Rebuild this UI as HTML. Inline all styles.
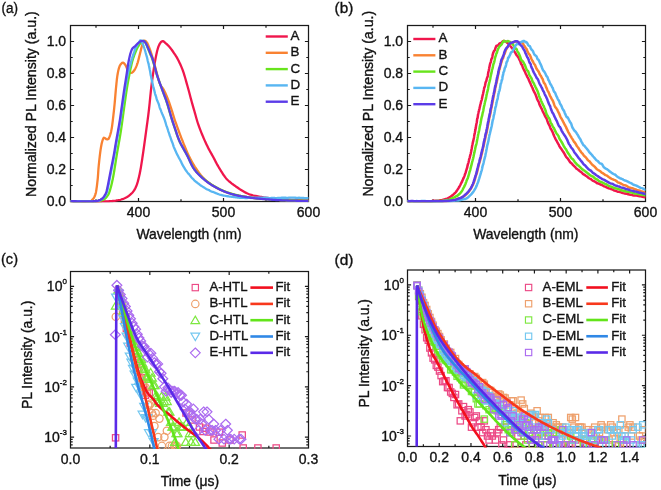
<!DOCTYPE html>
<html><head><meta charset="utf-8"><title>PL spectra and decays</title>
<style>html,body{margin:0;padding:0;background:#fff;overflow:hidden;width:661px;height:490px;}svg{display:block;}</style>
</head><body>
<svg width="661" height="490" viewBox="0 0 661 490" font-family='"Liberation Sans", Arial, Helvetica, sans-serif' fill="#111">
<style>text{stroke:#111;stroke-width:0.35px;paint-order:stroke;}</style>
<rect width="661" height="490" fill="#fff"/>
<defs><clipPath id="clipa"><rect x="70.5" y="25.5" width="238" height="176.9"/></clipPath><clipPath id="clipb"><rect x="407.5" y="25.5" width="238" height="176.9"/></clipPath><clipPath id="clipc"><rect x="70.5" y="271.5" width="238" height="177.4"/></clipPath><clipPath id="clipd"><rect x="407.5" y="270" width="238" height="177.4"/></clipPath></defs>
<rect x="70.5" y="25.5" width="238" height="176" fill="none" stroke="#1a1a1a" stroke-width="1.25"/>
<path d="M138.5 201.5v-3.6M138.5 25.5v3.6M223.5 201.5v-3.6M223.5 25.5v3.6M96 201.5v-2.2M96 25.5v2.2M181 201.5v-2.2M181 25.5v2.2M266 201.5v-2.2M266 25.5v2.2" stroke="#1a1a1a" stroke-width="1.2" fill="none"/>
<path d="M70.5 169.5h3.6M308.5 169.5h-3.6M70.5 137.5h3.6M308.5 137.5h-3.6M70.5 105.5h3.6M308.5 105.5h-3.6M70.5 73.5h3.6M308.5 73.5h-3.6M70.5 41.5h3.6M308.5 41.5h-3.6M70.5 185.5h2.2M308.5 185.5h-2.2M70.5 153.5h2.2M308.5 153.5h-2.2M70.5 121.5h2.2M308.5 121.5h-2.2M70.5 89.5h2.2M308.5 89.5h-2.2M70.5 57.5h2.2M308.5 57.5h-2.2" stroke="#1a1a1a" stroke-width="1.2" fill="none"/>
<text x="138.5" y="217.1" font-size="14.0" text-anchor="middle" >400</text>
<text x="223.5" y="217.1" font-size="14.0" text-anchor="middle" >500</text>
<text x="308.5" y="217.1" font-size="14.0" text-anchor="middle" >600</text>
<text x="66.1" y="206.4" font-size="14.0" text-anchor="end" >0.0</text>
<text x="66.1" y="174.4" font-size="14.0" text-anchor="end" >0.2</text>
<text x="66.1" y="142.4" font-size="14.0" text-anchor="end" >0.4</text>
<text x="66.1" y="110.4" font-size="14.0" text-anchor="end" >0.6</text>
<text x="66.1" y="78.4" font-size="14.0" text-anchor="end" >0.8</text>
<text x="66.1" y="46.4" font-size="14.0" text-anchor="end" >1.0</text>
<text x="136.4" y="238.6" font-size="13.9" text-anchor="start" >Wavelength (nm)</text>
<text transform="translate(35.6 196.9) rotate(-90)" font-size="14.15">Normalized PL Intensity (a.u.)</text>
<rect x="407.5" y="25.5" width="238" height="176" fill="none" stroke="#1a1a1a" stroke-width="1.25"/>
<path d="M475.5 201.5v-3.6M475.5 25.5v3.6M560.5 201.5v-3.6M560.5 25.5v3.6M433 201.5v-2.2M433 25.5v2.2M518 201.5v-2.2M518 25.5v2.2M603 201.5v-2.2M603 25.5v2.2" stroke="#1a1a1a" stroke-width="1.2" fill="none"/>
<path d="M407.5 169.5h3.6M645.5 169.5h-3.6M407.5 137.5h3.6M645.5 137.5h-3.6M407.5 105.5h3.6M645.5 105.5h-3.6M407.5 73.5h3.6M645.5 73.5h-3.6M407.5 41.5h3.6M645.5 41.5h-3.6M407.5 185.5h2.2M645.5 185.5h-2.2M407.5 153.5h2.2M645.5 153.5h-2.2M407.5 121.5h2.2M645.5 121.5h-2.2M407.5 89.5h2.2M645.5 89.5h-2.2M407.5 57.5h2.2M645.5 57.5h-2.2" stroke="#1a1a1a" stroke-width="1.2" fill="none"/>
<text x="475.5" y="217.1" font-size="14.0" text-anchor="middle" >400</text>
<text x="560.5" y="217.1" font-size="14.0" text-anchor="middle" >500</text>
<text x="645.5" y="217.1" font-size="14.0" text-anchor="middle" >600</text>
<text x="403.1" y="206.4" font-size="14.0" text-anchor="end" >0.0</text>
<text x="403.1" y="174.4" font-size="14.0" text-anchor="end" >0.2</text>
<text x="403.1" y="142.4" font-size="14.0" text-anchor="end" >0.4</text>
<text x="403.1" y="110.4" font-size="14.0" text-anchor="end" >0.6</text>
<text x="403.1" y="78.4" font-size="14.0" text-anchor="end" >0.8</text>
<text x="403.1" y="46.4" font-size="14.0" text-anchor="end" >1.0</text>
<text x="473.2" y="238.6" font-size="13.9" text-anchor="start" >Wavelength (nm)</text>
<text transform="translate(372.6 196.6) rotate(-90)" font-size="14.15">Normalized PL Intensity (a.u.)</text>
<rect x="70.5" y="271.5" width="238" height="176.5" fill="none" stroke="#1a1a1a" stroke-width="1.25"/>
<path d="M149.83 448v-3.6M149.83 271.5v3.6M229.17 448v-3.6M229.17 271.5v3.6M110.17 448v-2.2M110.17 271.5v2.2M189.5 448v-2.2M189.5 271.5v2.2M268.83 448v-2.2M268.83 271.5v2.2" stroke="#1a1a1a" stroke-width="1.2" fill="none"/>
<path d="M70.5 286.4h3.6M308.5 286.4h-3.6M70.5 336.63h3.6M308.5 336.63h-3.6M70.5 386.86h3.6M308.5 386.86h-3.6M70.5 437.09h3.6M308.5 437.09h-3.6M70.5 444.87h2.2M308.5 444.87h-2.2M70.5 441.96h2.2M308.5 441.96h-2.2M70.5 439.39h2.2M308.5 439.39h-2.2M70.5 421.97h2.2M308.5 421.97h-2.2M70.5 413.12h2.2M308.5 413.12h-2.2M70.5 406.85h2.2M308.5 406.85h-2.2M70.5 401.98h2.2M308.5 401.98h-2.2M70.5 398h2.2M308.5 398h-2.2M70.5 394.64h2.2M308.5 394.64h-2.2M70.5 391.73h2.2M308.5 391.73h-2.2M70.5 389.16h2.2M308.5 389.16h-2.2M70.5 371.74h2.2M308.5 371.74h-2.2M70.5 362.89h2.2M308.5 362.89h-2.2M70.5 356.62h2.2M308.5 356.62h-2.2M70.5 351.75h2.2M308.5 351.75h-2.2M70.5 347.77h2.2M308.5 347.77h-2.2M70.5 344.41h2.2M308.5 344.41h-2.2M70.5 341.5h2.2M308.5 341.5h-2.2M70.5 338.93h2.2M308.5 338.93h-2.2M70.5 321.51h2.2M308.5 321.51h-2.2M70.5 312.66h2.2M308.5 312.66h-2.2M70.5 306.39h2.2M308.5 306.39h-2.2M70.5 301.52h2.2M308.5 301.52h-2.2M70.5 297.54h2.2M308.5 297.54h-2.2M70.5 294.18h2.2M308.5 294.18h-2.2M70.5 291.27h2.2M308.5 291.27h-2.2M70.5 288.7h2.2M308.5 288.7h-2.2" stroke="#1a1a1a" stroke-width="1.2" fill="none"/>
<text x="70.5" y="463.9" font-size="14.0" text-anchor="middle" >0.0</text>
<text x="149.83" y="463.9" font-size="14.0" text-anchor="middle" >0.1</text>
<text x="229.17" y="463.9" font-size="14.0" text-anchor="middle" >0.2</text>
<text x="308.5" y="463.9" font-size="14.0" text-anchor="middle" >0.3</text>
<text x="66.9" y="291.3" font-size="14.0" text-anchor="end">10<tspan dy="-6.9" font-size="8">0</tspan></text>
<text x="66.9" y="341.53" font-size="14.0" text-anchor="end">10<tspan dy="-6.9" font-size="8">-1</tspan></text>
<text x="66.9" y="391.76" font-size="14.0" text-anchor="end">10<tspan dy="-6.9" font-size="8">-2</tspan></text>
<text x="66.9" y="441.99" font-size="14.0" text-anchor="end">10<tspan dy="-6.9" font-size="8">-3</tspan></text>
<text x="160.7" y="486.3" font-size="13.9" text-anchor="start" >Time (μs)</text>
<text transform="translate(31.8 409) rotate(-90)" font-size="13.9">PL Intensity (a.u.)</text>
<rect x="407.5" y="270" width="238" height="176.5" fill="none" stroke="#1a1a1a" stroke-width="1.25"/>
<path d="M439.23 446.5v-3.6M439.23 270v3.6M470.97 446.5v-3.6M470.97 270v3.6M502.7 446.5v-3.6M502.7 270v3.6M534.43 446.5v-3.6M534.43 270v3.6M566.17 446.5v-3.6M566.17 270v3.6M597.9 446.5v-3.6M597.9 270v3.6M629.63 446.5v-3.6M629.63 270v3.6M423.37 446.5v-2.2M423.37 270v2.2M455.1 446.5v-2.2M455.1 270v2.2M486.83 446.5v-2.2M486.83 270v2.2M518.57 446.5v-2.2M518.57 270v2.2M550.3 446.5v-2.2M550.3 270v2.2M582.03 446.5v-2.2M582.03 270v2.2M613.77 446.5v-2.2M613.77 270v2.2" stroke="#1a1a1a" stroke-width="1.2" fill="none"/>
<path d="M407.5 284.9h3.6M645.5 284.9h-3.6M407.5 335.27h3.6M645.5 335.27h-3.6M407.5 385.64h3.6M645.5 385.64h-3.6M407.5 436.01h3.6M645.5 436.01h-3.6M407.5 443.81h2.2M645.5 443.81h-2.2M407.5 440.89h2.2M645.5 440.89h-2.2M407.5 438.31h2.2M645.5 438.31h-2.2M407.5 420.85h2.2M645.5 420.85h-2.2M407.5 411.98h2.2M645.5 411.98h-2.2M407.5 405.68h2.2M645.5 405.68h-2.2M407.5 400.8h2.2M645.5 400.8h-2.2M407.5 396.81h2.2M645.5 396.81h-2.2M407.5 393.44h2.2M645.5 393.44h-2.2M407.5 390.52h2.2M645.5 390.52h-2.2M407.5 387.94h2.2M645.5 387.94h-2.2M407.5 370.48h2.2M645.5 370.48h-2.2M407.5 361.61h2.2M645.5 361.61h-2.2M407.5 355.31h2.2M645.5 355.31h-2.2M407.5 350.43h2.2M645.5 350.43h-2.2M407.5 346.44h2.2M645.5 346.44h-2.2M407.5 343.07h2.2M645.5 343.07h-2.2M407.5 340.15h2.2M645.5 340.15h-2.2M407.5 337.57h2.2M645.5 337.57h-2.2M407.5 320.11h2.2M645.5 320.11h-2.2M407.5 311.24h2.2M645.5 311.24h-2.2M407.5 304.94h2.2M645.5 304.94h-2.2M407.5 300.06h2.2M645.5 300.06h-2.2M407.5 296.07h2.2M645.5 296.07h-2.2M407.5 292.7h2.2M645.5 292.7h-2.2M407.5 289.78h2.2M645.5 289.78h-2.2M407.5 287.2h2.2M645.5 287.2h-2.2" stroke="#1a1a1a" stroke-width="1.2" fill="none"/>
<text x="407.5" y="462.4" font-size="14.0" text-anchor="middle" >0.0</text>
<text x="439.23" y="462.4" font-size="14.0" text-anchor="middle" >0.2</text>
<text x="470.97" y="462.4" font-size="14.0" text-anchor="middle" >0.4</text>
<text x="502.7" y="462.4" font-size="14.0" text-anchor="middle" >0.6</text>
<text x="534.43" y="462.4" font-size="14.0" text-anchor="middle" >0.8</text>
<text x="566.17" y="462.4" font-size="14.0" text-anchor="middle" >1.0</text>
<text x="597.9" y="462.4" font-size="14.0" text-anchor="middle" >1.2</text>
<text x="629.63" y="462.4" font-size="14.0" text-anchor="middle" >1.4</text>
<text x="403.9" y="289.8" font-size="14.0" text-anchor="end">10<tspan dy="-6.9" font-size="8">0</tspan></text>
<text x="403.9" y="340.17" font-size="14.0" text-anchor="end">10<tspan dy="-6.9" font-size="8">-1</tspan></text>
<text x="403.9" y="390.54" font-size="14.0" text-anchor="end">10<tspan dy="-6.9" font-size="8">-2</tspan></text>
<text x="403.9" y="440.91" font-size="14.0" text-anchor="end">10<tspan dy="-6.9" font-size="8">-3</tspan></text>
<text x="498.2" y="484.8" font-size="13.9" text-anchor="start" >Time (μs)</text>
<text transform="translate(369.4 407.4) rotate(-90)" font-size="13.9">PL Intensity (a.u.)</text>
<text x="1.4" y="13.4" font-size="15.3" textLength="16.6" lengthAdjust="spacingAndGlyphs">(a)</text>
<text x="334.6" y="13.1" font-size="15.3" textLength="18.7" lengthAdjust="spacingAndGlyphs">(b)</text>
<text x="1" y="264.4" font-size="15.3" textLength="17.0" lengthAdjust="spacingAndGlyphs">(c)</text>
<text x="334.6" y="264.6" font-size="15.3" textLength="18.9" lengthAdjust="spacingAndGlyphs">(d)</text>
<path d="M70.6 201.2L71.15 201.21L71.77 201.21L72.48 201.22L73.25 201.23L74.09 201.25L74.99 201.26L75.94 201.27L76.95 201.29L77.99 201.3L79.08 201.32L80.19 201.34L81.34 201.35L82.51 201.37L83.69 201.39L84.89 201.4L86.09 201.42L87.29 201.43L88.49 201.45L89.67 201.46L90.85 201.47L92 201.48L93.12 201.49L94.21 201.5L95.27 201.5L96.28 201.51L97.25 201.51L98.16 201.51L99.01 201.51L99.8 201.5L101.3 201.48L102.69 201.47L103.98 201.45L105.18 201.42L106.29 201.39L107.34 201.35L108.32 201.31L109.25 201.26L110.15 201.21L111.01 201.15L111.86 201.07L112.7 200.99L113.54 200.9L114.4 200.8L115.71 200.63L116.93 200.44L118.09 200.24L119.18 200.02L120.23 199.78L121.23 199.51L122.21 199.21L123.16 198.87L124.1 198.5L125.14 198.04L126.13 197.54L127.08 197L128 196.42L128.88 195.8L129.72 195.14L130.53 194.44L131.3 193.7L132.03 192.94L132.72 192.17L133.36 191.37L133.98 190.52L134.56 189.61L135.12 188.61L135.67 187.52L136.2 186.3L136.52 185.49L136.83 184.65L137.13 183.77L137.42 182.86L137.71 181.91L137.98 180.93L138.25 179.91L138.52 178.87L138.78 177.79L139.04 176.69L139.29 175.55L139.55 174.39L139.8 173.2L139.98 172.33L140.16 171.45L140.33 170.56L140.49 169.66L140.66 168.75L140.82 167.82L140.98 166.88L141.14 165.92L141.29 164.94L141.45 163.94L141.61 162.92L141.77 161.88L141.93 160.81L142.1 159.71L142.27 158.58L142.44 157.42L142.62 156.23L142.8 155L142.93 154.12L143.07 153.21L143.2 152.26L143.34 151.29L143.49 150.29L143.63 149.27L143.78 148.23L143.93 147.17L144.08 146.09L144.23 145.01L144.38 143.91L144.54 142.81L144.69 141.71L144.84 140.61L144.99 139.51L145.14 138.42L145.29 137.33L145.43 136.26L145.58 135.19L145.72 134.15L145.86 133.13L146 132.12L146.13 131.15L146.26 130.2L146.38 129.28L146.5 128.4L146.67 127.18L146.82 126.02L146.98 124.9L147.12 123.83L147.26 122.8L147.4 121.79L147.53 120.82L147.66 119.86L147.79 118.91L147.91 117.97L148.03 117.04L148.16 116.1L148.28 115.14L148.4 114.17L148.52 113.18L148.64 112.16L148.77 111.1L148.9 110L149.01 109.07L149.11 108.11L149.22 107.13L149.33 106.12L149.44 105.1L149.54 104.07L149.65 103.02L149.76 101.97L149.86 100.91L149.97 99.85L150.07 98.79L150.18 97.73L150.29 96.68L150.39 95.64L150.49 94.61L150.6 93.59L150.7 92.6L150.8 91.62L150.9 90.67L151 89.75L151.1 88.86L151.2 88L151.34 86.79L151.48 85.63L151.62 84.52L151.75 83.44L151.89 82.4L152.02 81.39L152.15 80.4L152.28 79.44L152.41 78.5L152.54 77.57L152.67 76.65L152.8 75.74L152.94 74.83L153.07 73.92L153.2 73L153.36 71.86L153.53 70.74L153.69 69.64L153.84 68.56L154 67.49L154.16 66.44L154.32 65.4L154.49 64.37L154.66 63.35L154.83 62.33L155.01 61.32L155.2 60.3L155.41 59.18L155.64 58.03L155.87 56.87L156.11 55.72L156.35 54.57L156.59 53.45L156.84 52.36L157.08 51.32L157.33 50.34L157.57 49.43L157.8 48.6L158.22 47.27L158.64 46.14L159.06 45.19L159.47 44.37L159.88 43.65L160.3 43L161.1 41.93L161.91 41.27L162.8 41.1L163.56 41.39L164.38 42.01L165.24 42.79L166.1 43.6L166.79 44.22L167.49 44.86L168.21 45.56L168.94 46.33L169.7 47.2L170.35 48L171.02 48.86L171.7 49.77L172.39 50.74L173.09 51.75L173.8 52.8L174.33 53.6L174.87 54.4L175.41 55.22L175.96 56.06L176.51 56.95L177.06 57.9L177.63 58.91L178.2 60L178.59 60.77L178.98 61.56L179.38 62.38L179.78 63.22L180.18 64.09L180.59 64.98L180.99 65.91L181.4 66.86L181.8 67.84L182.21 68.86L182.61 69.91L183 71L183.29 71.85L183.59 72.73L183.88 73.64L184.18 74.58L184.48 75.54L184.77 76.53L185.06 77.52L185.36 78.53L185.65 79.55L185.94 80.56L186.22 81.58L186.5 82.59L186.78 83.59L187.06 84.58L187.33 85.55L187.6 86.5L187.88 87.5L188.16 88.51L188.44 89.53L188.71 90.54L188.99 91.56L189.25 92.56L189.52 93.57L189.78 94.56L190.04 95.54L190.29 96.5L190.54 97.45L190.79 98.37L191.03 99.27L191.27 100.15L191.5 101L191.83 102.2L192.15 103.32L192.44 104.37L192.73 105.38L193.01 106.36L193.29 107.33L193.58 108.31L193.87 109.32L194.18 110.38L194.5 111.5L194.76 112.41L195.02 113.33L195.28 114.28L195.55 115.25L195.82 116.23L196.09 117.22L196.37 118.22L196.66 119.22L196.95 120.23L197.25 121.23L197.56 122.23L197.87 123.22L198.2 124.2L198.54 125.18L198.89 126.16L199.25 127.15L199.62 128.15L200 129.14L200.38 130.13L200.77 131.12L201.16 132.1L201.55 133.07L201.94 134.02L202.33 134.97L202.72 135.89L203.1 136.8L203.54 137.85L203.98 138.87L204.42 139.87L204.86 140.86L205.29 141.83L205.73 142.79L206.17 143.74L206.62 144.68L207.07 145.62L207.53 146.56L208 147.5L208.48 148.44L208.97 149.37L209.47 150.29L209.97 151.21L210.48 152.12L210.99 153.03L211.5 153.93L212.01 154.83L212.52 155.72L213.01 156.61L213.5 157.5L214.01 158.46L214.49 159.39L214.96 160.3L215.42 161.21L215.88 162.11L216.35 163.03L216.85 163.97L217.38 164.94L217.96 165.94L218.6 167L219.09 167.8L219.6 168.63L220.12 169.5L220.66 170.39L221.22 171.31L221.8 172.23L222.39 173.16L222.99 174.08L223.61 175L224.25 175.9L224.89 176.78L225.55 177.62L226.22 178.43L226.9 179.2L227.66 179.99L228.46 180.76L229.28 181.5L230.14 182.22L231.01 182.92L231.89 183.61L232.77 184.26L233.66 184.9L234.53 185.52L235.39 186.12L236.22 186.7L237.03 187.26L237.8 187.8L238.76 188.47L239.7 189.1L240.62 189.7L241.52 190.26L242.39 190.79L243.24 191.29L244.06 191.76L244.86 192.2L245.64 192.61L246.4 193L247.56 193.56L248.59 194L249.56 194.37L250.52 194.69L251.55 194.98L252.7 195.3L253.66 195.54L254.66 195.78L255.71 196L256.79 196.21L257.89 196.42L259 196.62L260.11 196.81L261.2 197L262.28 197.18L263.35 197.36L264.43 197.53L265.51 197.7L266.6 197.86L267.71 198.01L268.84 198.16L270 198.3L270.93 198.41L271.84 198.51L272.75 198.6L273.67 198.69L274.61 198.78L275.58 198.87L276.59 198.95L277.66 199.03L278.79 199.12L280 199.2L280.86 199.26L281.76 199.31L282.7 199.37L283.68 199.43L284.69 199.49L285.71 199.54L286.76 199.6L287.81 199.65L288.87 199.71L289.93 199.76L290.98 199.81L292.02 199.86L293.04 199.91L294.03 199.96L295 200L296.12 200.05L297.29 200.1L298.49 200.15L299.71 200.19L300.92 200.24L302.11 200.28L303.26 200.32L304.36 200.36L305.39 200.39L306.34 200.42L307.18 200.45L307.91 200.48L308.5 200.5" fill="none" stroke="#f0164c" stroke-width="2.3" stroke-linejoin="round" stroke-linecap="round" clip-path="url(#clipa)"/>
<path d="M70.6 201.2L71.19 201.21L71.93 201.23L72.79 201.25L73.77 201.28L74.84 201.31L75.98 201.34L77.17 201.37L78.4 201.4L79.64 201.43L80.89 201.46L82.11 201.48L83.3 201.49L84.43 201.49L85.48 201.49L86.44 201.47L87.28 201.44L88 201.4L90.06 201.16L91.14 200.83L91.78 200.3L92.5 199.5L93.11 198.85L93.68 198.15L94.21 197.34L94.7 196.36L95.16 195.17L95.6 193.7L95.79 192.91L95.98 192.03L96.16 191.08L96.33 190.08L96.49 189.02L96.65 187.92L96.8 186.8L96.95 185.65L97.09 184.5L97.22 183.34L97.35 182.2L97.48 181.09L97.6 180L97.7 179.01L97.8 178.03L97.88 177.05L97.96 176.07L98.03 175.09L98.1 174.1L98.16 173.12L98.23 172.13L98.29 171.13L98.36 170.13L98.43 169.11L98.51 168.09L98.6 167.05L98.7 166L98.8 164.99L98.91 163.95L99.02 162.88L99.13 161.78L99.25 160.67L99.37 159.55L99.5 158.44L99.63 157.33L99.75 156.23L99.88 155.16L100.01 154.12L100.14 153.12L100.26 152.16L100.38 151.25L100.5 150.4L100.69 149.09L100.88 147.87L101.07 146.75L101.26 145.71L101.44 144.74L101.63 143.84L101.82 143.01L102.01 142.23L102.2 141.5L102.63 140.07L103.07 138.95L103.52 138.16L104 137.7L105.07 138.22L106.2 139.2L107.32 139.47L108.4 139L108.91 138.22L109.39 137.14L109.86 135.87L110.3 134.5L110.57 133.58L110.83 132.65L111.08 131.66L111.32 130.57L111.56 129.37L111.8 128L111.93 127.18L112.06 126.3L112.19 125.38L112.32 124.42L112.44 123.42L112.57 122.39L112.7 121.34L112.82 120.27L112.95 119.18L113.07 118.09L113.2 117L113.31 116.07L113.42 115.14L113.52 114.2L113.63 113.25L113.74 112.28L113.85 111.31L113.95 110.32L114.06 109.31L114.17 108.29L114.28 107.25L114.38 106.19L114.49 105.1L114.6 104L114.69 103.08L114.77 102.12L114.86 101.14L114.95 100.13L115.04 99.1L115.12 98.07L115.21 97.02L115.3 95.97L115.39 94.92L115.47 93.88L115.56 92.84L115.65 91.82L115.74 90.83L115.82 89.85L115.91 88.91L116 88L116.12 86.82L116.23 85.66L116.34 84.53L116.45 83.41L116.56 82.33L116.67 81.26L116.79 80.23L116.9 79.22L117.02 78.24L117.14 77.29L117.27 76.38L117.4 75.5L117.61 74.24L117.82 73.03L118.05 71.89L118.28 70.82L118.51 69.83L118.74 68.9L118.97 68.06L119.2 67.3L119.79 65.77L120.37 64.78L121 64L122.06 62.92L123.2 62.6L123.99 63.16L124.81 64.18L125.6 65.4L126.05 66.24L126.49 67.21L126.93 68.22L127.36 69.18L127.8 70L128.54 71.11L129.27 72L130 72.6L131.02 72.96L132.1 72.6L132.74 72.11L133.42 71.42L134.12 70.55L134.8 69.5L135.24 68.71L135.68 67.84L136.11 66.9L136.54 65.87L136.97 64.74L137.4 63.5L137.69 62.59L137.98 61.58L138.27 60.51L138.56 59.39L138.84 58.26L139.12 57.13L139.39 56.02L139.65 54.97L139.9 54L140.19 52.83L140.47 51.71L140.72 50.64L140.97 49.61L141.21 48.63L141.45 47.69L141.7 46.8L142.07 45.6L142.44 44.45L142.81 43.41L143.17 42.52L143.5 41.8L144.18 40.82L144.9 40.7L145.88 41.21L147 42.6L147.4 43.34L147.83 44.23L148.27 45.23L148.71 46.31L149.16 47.44L149.6 48.6L149.92 49.49L150.25 50.42L150.57 51.38L150.9 52.36L151.22 53.37L151.55 54.4L151.87 55.45L152.2 56.5L152.49 57.45L152.78 58.42L153.07 59.41L153.37 60.41L153.66 61.42L153.95 62.44L154.24 63.46L154.52 64.48L154.8 65.5L155.08 66.53L155.35 67.58L155.62 68.63L155.89 69.7L156.15 70.75L156.41 71.8L156.68 72.83L156.94 73.83L157.2 74.8L157.5 75.87L157.79 76.95L158.09 78.01L158.39 79.04L158.68 80.03L158.96 80.96L159.24 81.82L159.5 82.6L159.99 83.89L160.44 84.91L160.87 85.74L161.3 86.5L162.12 87.53L163 88.6L163.49 89.43L164.01 90.37L164.57 91.48L165.2 92.8L165.55 93.56L165.91 94.4L166.3 95.29L166.7 96.23L167.11 97.2L167.51 98.19L167.91 99.2L168.3 100.2L168.64 101.1L168.97 102.01L169.31 102.94L169.64 103.88L169.97 104.84L170.3 105.81L170.64 106.79L170.97 107.79L171.3 108.8L171.6 109.73L171.9 110.68L172.19 111.65L172.49 112.63L172.79 113.62L173.09 114.61L173.39 115.6L173.69 116.58L173.99 117.55L174.3 118.5L174.64 119.53L174.98 120.53L175.32 121.52L175.66 122.5L176.01 123.48L176.37 124.47L176.73 125.48L177.11 126.52L177.5 127.6L177.82 128.49L178.14 129.36L178.45 130.24L178.77 131.11L179.1 132.01L179.43 132.93L179.79 133.89L180.17 134.89L180.58 135.96L181.02 137.09L181.5 138.3L181.81 139.09L182.14 139.92L182.48 140.79L182.83 141.69L183.2 142.63L183.57 143.58L183.96 144.56L184.35 145.54L184.75 146.54L185.16 147.55L185.57 148.55L185.98 149.55L186.4 150.54L186.82 151.52L187.24 152.48L187.66 153.42L188.08 154.32L188.5 155.2L188.97 156.16L189.45 157.11L189.92 158.05L190.41 158.98L190.89 159.9L191.38 160.8L191.88 161.7L192.38 162.58L192.88 163.45L193.38 164.31L193.89 165.16L194.41 165.99L194.92 166.81L195.45 167.62L195.97 168.42L196.5 169.2L197.1 170.07L197.7 170.93L198.29 171.76L198.88 172.58L199.48 173.38L200.08 174.16L200.69 174.93L201.32 175.69L201.96 176.43L202.62 177.16L203.3 177.88L204 178.6L204.73 179.3L205.5 180L206.24 180.65L207.01 181.29L207.8 181.92L208.62 182.55L209.45 183.17L210.3 183.78L211.16 184.38L212.04 184.97L212.93 185.54L213.83 186.11L214.74 186.66L215.65 187.19L216.56 187.71L217.48 188.21L218.4 188.7L219.32 189.17L220.24 189.62L221.17 190.06L222.11 190.48L223.05 190.89L224 191.28L224.96 191.66L225.93 192.03L226.91 192.38L227.89 192.73L228.89 193.06L229.9 193.38L230.92 193.7L231.95 194L233 194.3L233.94 194.55L234.9 194.8L235.88 195.03L236.88 195.25L237.89 195.47L238.9 195.68L239.93 195.87L240.96 196.06L241.99 196.25L243.02 196.42L244.05 196.59L245.07 196.76L246.09 196.91L247.09 197.07L248.08 197.22L249.05 197.36L250 197.5L251.06 197.65L252.1 197.79L253.13 197.92L254.14 198.03L255.15 198.14L256.14 198.25L257.13 198.34L258.12 198.43L259.1 198.52L260.07 198.6L261.05 198.68L262.03 198.76L263.02 198.84L264 198.92L265 199L266 199.08L267 199.16L268 199.24L269 199.32L270 199.39L271 199.46L272 199.53L273 199.6L274 199.66L275 199.72L276 199.78L277 199.84L278 199.9L279 199.95L280 200L281 200.05L282.01 200.09L283.02 200.14L284.04 200.17L285.06 200.21L286.07 200.25L287.09 200.28L288.1 200.31L289.11 200.34L290.11 200.37L291.11 200.39L292.1 200.42L293.08 200.45L294.04 200.47L295 200.5L296.12 200.53L297.29 200.56L298.49 200.59L299.71 200.62L300.92 200.64L302.11 200.67L303.26 200.69L304.36 200.72L305.39 200.74L306.34 200.76L307.18 200.77L307.91 200.79L308.5 200.8" fill="none" stroke="#f98232" stroke-width="2.3" stroke-linejoin="round" stroke-linecap="round" clip-path="url(#clipa)"/>
<path d="M70.6 201.2L71.17 201.21L71.87 201.21L72.67 201.22L73.57 201.23L74.55 201.25L75.6 201.26L76.72 201.27L77.88 201.29L79.08 201.3L80.31 201.32L81.54 201.33L82.78 201.35L84.01 201.36L85.21 201.37L86.38 201.38L87.51 201.39L88.57 201.4L89.56 201.4L90.47 201.4L91.29 201.4L92 201.4L93.9 201.38L95.16 201.35L95.99 201.3L96.61 201.23L97.21 201.13L98 201L99.16 200.82L100.32 200.61L101.45 200.35L102.52 200.02L103.5 199.6L104.37 199.08L105.16 198.48L105.89 197.8L106.56 197.04L107.2 196.2L107.78 195.39L108.28 194.6L108.76 193.68L109.25 192.46L109.8 190.8L110.02 190.09L110.24 189.34L110.47 188.55L110.7 187.72L110.93 186.84L111.17 185.92L111.42 184.96L111.67 183.94L111.92 182.88L112.17 181.77L112.42 180.61L112.68 179.39L112.94 178.13L113.2 176.8L113.35 175.99L113.51 175.15L113.67 174.27L113.82 173.35L113.99 172.41L114.15 171.45L114.31 170.46L114.47 169.45L114.64 168.43L114.8 167.39L114.97 166.34L115.14 165.28L115.3 164.21L115.47 163.14L115.64 162.07L115.8 161L115.97 159.94L116.13 158.89L116.3 157.85L116.46 156.82L116.62 155.81L116.78 154.81L116.94 153.84L117.1 152.9L117.28 151.84L117.46 150.8L117.63 149.78L117.81 148.76L117.99 147.76L118.17 146.77L118.34 145.79L118.52 144.81L118.69 143.84L118.86 142.87L119.04 141.91L119.21 140.94L119.38 139.98L119.55 139.01L119.72 138.05L119.88 137.08L120.05 136.1L120.21 135.11L120.38 134.12L120.54 133.12L120.7 132.1L120.85 131.12L121 130.14L121.15 129.14L121.3 128.15L121.44 127.14L121.58 126.14L121.73 125.13L121.87 124.11L122.01 123.1L122.15 122.08L122.29 121.06L122.43 120.04L122.56 119.03L122.7 118.01L122.84 117L122.98 115.98L123.11 114.97L123.25 113.97L123.39 112.97L123.52 111.97L123.66 110.98L123.8 110L123.95 108.97L124.09 107.93L124.24 106.88L124.39 105.83L124.53 104.77L124.68 103.72L124.83 102.66L124.97 101.61L125.12 100.56L125.26 99.51L125.41 98.48L125.55 97.45L125.7 96.44L125.84 95.44L125.98 94.46L126.12 93.49L126.26 92.55L126.4 91.62L126.53 90.72L126.67 89.85L126.8 89L127 87.77L127.19 86.59L127.38 85.46L127.57 84.36L127.75 83.3L127.93 82.27L128.11 81.28L128.29 80.32L128.46 79.38L128.64 78.47L128.81 77.58L128.97 76.7L129.14 75.84L129.3 75L129.54 73.73L129.78 72.54L130.01 71.42L130.23 70.35L130.45 69.32L130.66 68.34L130.87 67.38L131.08 66.43L131.3 65.5L131.56 64.36L131.8 63.3L132.04 62.3L132.28 61.33L132.54 60.34L132.85 59.31L133.2 58.2L133.52 57.26L133.89 56.25L134.28 55.2L134.69 54.13L135.11 53.06L135.53 52.02L135.95 51.03L136.34 50.12L136.7 49.3L137.29 48.05L137.84 47L138.37 46.09L138.88 45.28L139.4 44.5L140.31 43.28L141.21 42.26L142 41.5L142.86 40.88L143.6 40.8L144.43 41.18L145.3 42.2L145.74 43.04L146.19 44.09L146.67 45.29L147.2 46.6L147.59 47.54L148.01 48.56L148.44 49.64L148.89 50.75L149.35 51.88L149.8 53L150.18 53.9L150.54 54.72L150.9 55.53L151.28 56.39L151.68 57.38L152.11 58.56L152.6 60L152.85 60.78L153.1 61.63L153.37 62.54L153.65 63.5L153.93 64.51L154.22 65.56L154.52 66.64L154.82 67.73L155.13 68.83L155.44 69.94L155.75 71.04L156.06 72.12L156.38 73.19L156.69 74.21L157 75.2L157.33 76.23L157.67 77.24L158.02 78.24L158.36 79.23L158.71 80.21L159.07 81.19L159.42 82.16L159.77 83.12L160.13 84.08L160.49 85.04L160.84 86L161.2 86.97L161.55 87.93L161.9 88.9L162.25 89.87L162.61 90.83L162.96 91.79L163.32 92.74L163.67 93.69L164.03 94.64L164.39 95.59L164.74 96.55L165.09 97.51L165.44 98.47L165.79 99.44L166.13 100.42L166.47 101.4L166.8 102.4L167.11 103.35L167.41 104.32L167.71 105.31L168.01 106.31L168.3 107.32L168.6 108.33L168.89 109.35L169.17 110.36L169.46 111.37L169.74 112.36L170.02 113.34L170.29 114.29L170.57 115.23L170.83 116.13L171.1 117L171.45 118.13L171.78 119.19L172.1 120.19L172.41 121.16L172.71 122.1L173.02 123.03L173.32 123.97L173.64 124.92L173.98 125.9L174.33 126.92L174.7 128L175 128.89L175.31 129.8L175.62 130.73L175.93 131.67L176.25 132.64L176.58 133.61L176.91 134.59L177.26 135.58L177.61 136.58L177.98 137.57L178.36 138.56L178.76 139.55L179.17 140.53L179.6 141.5L180.02 142.4L180.46 143.3L180.92 144.19L181.4 145.09L181.89 145.98L182.39 146.88L182.9 147.77L183.41 148.67L183.93 149.56L184.46 150.46L184.98 151.36L185.49 152.27L186 153.17L186.51 154.09L187 155L187.48 155.93L187.94 156.86L188.39 157.82L188.84 158.78L189.28 159.74L189.72 160.71L190.16 161.67L190.61 162.64L191.06 163.59L191.53 164.54L192.02 165.47L192.53 166.38L193.06 167.28L193.61 168.15L194.2 169L194.81 169.83L195.45 170.64L196.1 171.43L196.78 172.21L197.47 172.98L198.18 173.73L198.9 174.47L199.64 175.2L200.39 175.92L201.15 176.62L201.92 177.32L202.71 178L203.5 178.68L204.3 179.34L205.1 180L205.91 180.65L206.74 181.29L207.59 181.92L208.44 182.54L209.31 183.16L210.18 183.76L211.07 184.35L211.97 184.93L212.87 185.49L213.78 186.04L214.7 186.58L215.62 187.11L216.54 187.62L217.47 188.12L218.4 188.6L219.33 189.07L220.26 189.51L221.2 189.95L222.14 190.37L223.08 190.77L224.03 191.17L224.99 191.55L225.95 191.91L226.92 192.27L227.91 192.61L228.9 192.95L229.91 193.28L230.92 193.59L231.95 193.9L233 194.2L233.94 194.46L234.9 194.7L235.88 194.94L236.88 195.17L237.89 195.39L238.9 195.61L239.93 195.81L240.96 196.01L241.99 196.2L243.02 196.38L244.05 196.56L245.07 196.73L246.09 196.9L247.09 197.05L248.08 197.21L249.05 197.36L250 197.5L251.06 197.65L252.1 197.79L253.13 197.92L254.14 198.04L255.15 198.15L256.14 198.25L257.13 198.35L258.12 198.44L259.1 198.52L260.07 198.6L261.05 198.68L262.03 198.76L263.02 198.84L264 198.92L265 199L266 199.08L267 199.16L268 199.24L269 199.32L270 199.39L271 199.46L272 199.53L273 199.6L274 199.66L275 199.72L276 199.78L277 199.84L278 199.9L279 199.95L280 200L281 200.05L282.01 200.09L283.02 200.14L284.04 200.17L285.06 200.21L286.07 200.25L287.09 200.28L288.1 200.31L289.11 200.34L290.11 200.37L291.11 200.39L292.1 200.42L293.08 200.45L294.04 200.47L295 200.5L296.12 200.53L297.29 200.56L298.49 200.59L299.71 200.62L300.92 200.64L302.11 200.67L303.26 200.69L304.36 200.72L305.39 200.74L306.34 200.76L307.18 200.77L307.91 200.79L308.5 200.8" fill="none" stroke="#68e41c" stroke-width="2.3" stroke-linejoin="round" stroke-linecap="round" clip-path="url(#clipa)"/>
<path d="M70.6 201.18L71.18 201.16L71.9 201.18L72.73 201.23L73.66 201.28L74.69 201.27L75.78 201.27L76.94 201.28L78.14 201.26L79.37 201.22L80.61 201.27L81.85 201.33L83.08 201.44L84.28 201.45L85.43 201.46L86.52 201.39L87.54 201.41L88.47 201.41L89.29 201.45L90 201.43L91.95 201.41L93.13 201.32L93.84 201.32L94.36 201.29L95 201.24L96.08 201.19L96.93 201.15L98 200.91L98.89 200.55L99.92 200.16L100.99 199.63L102.02 199.04L102.9 198.37L103.79 197.51L104.54 196.63L105.19 195.62L105.8 194.54L106.22 193.72L106.55 192.99L106.87 192.11L107.23 190.89L107.7 188.96L107.86 188.2L108.03 187.3L108.21 186.45L108.4 185.54L108.59 184.72L108.79 183.71L109 182.58L109.21 181.36L109.42 180.38L109.64 179.33L109.86 178.14L110.07 176.89L110.29 175.77L110.5 174.8L110.71 173.73L110.91 172.65L111.11 171.54L111.3 170.66L111.51 169.66L111.72 168.55L111.93 167.61L112.14 166.66L112.34 165.65L112.55 164.35L112.75 163.3L112.95 162.36L113.15 161.5L113.34 160.57L113.53 159.63L113.71 158.52L113.89 157.47L114.07 156.45L114.24 155.7L114.4 154.97L114.6 153.84L114.78 152.75L114.94 151.88L115.09 151.24L115.23 150.3L115.36 149.37L115.5 148.49L115.65 147.64L115.81 146.77L115.98 145.66L116.18 144.41L116.4 143L116.54 142.35L116.69 141.49L116.86 140.66L117.03 139.88L117.2 139.01L117.39 137.93L117.58 136.74L117.77 135.42L117.97 134.42L118.16 133.36L118.36 132.51L118.56 131.29L118.75 130.25L118.94 128.93L119.13 127.99L119.31 126.92L119.49 126.1L119.66 125.18L119.81 124.29L119.96 123.14L120.1 122.27L120.31 120.98L120.5 120.09L120.66 119.18L120.8 118L120.93 116.96L121.05 115.82L121.17 115.16L121.29 114.02L121.42 113.23L121.56 112.21L121.72 111.36L121.9 109.96L122.03 109.13L122.16 108.12L122.3 107.02L122.44 106.1L122.59 105.34L122.74 104.45L122.89 103.4L123.05 102.47L123.21 101.38L123.37 100.25L123.53 99.22L123.69 98.27L123.85 97.36L124.02 96.31L124.18 95.22L124.34 94.03L124.49 92.83L124.65 91.6L124.8 90.83L124.98 90.13L125.16 89.22L125.34 87.68L125.52 86.22L125.7 85.25L125.87 84.54L126.05 83.56L126.23 82.58L126.41 81.69L126.58 80.49L126.76 79.34L126.93 78.24L127.1 77.49L127.27 76.77L127.44 76.33L127.6 75.62L127.89 73.99L128.17 72.42L128.44 71.3L128.71 70.25L128.98 69.26L129.24 68.41L129.49 67.83L129.75 66.93L130 65.93L130.32 64.88L130.63 63.91L130.93 62.48L131.23 61.17L131.52 60.26L131.81 59.48L132.1 58.46L132.43 57.12L132.76 56.23L133.07 55.39L133.39 54.5L133.7 53.36L134 52.49L134.41 51.3L134.79 49.85L135.2 48.35L135.7 47.71L136.11 47.33L136.57 46.58L137.06 45.38L137.56 44.56L138.05 43.84L138.5 42.94L139.3 41.78L140.05 40.5L140.8 40.46L141.38 41.08L141.95 42.32L142.53 43.4L143.1 44.66L143.43 45.59L143.76 46.67L144.09 47.51L144.41 48.52L144.74 49.45L145.07 50.66L145.4 51.65L145.69 52.85L145.98 53.83L146.27 54.92L146.56 55.87L146.85 56.81L147.14 57.97L147.42 59.34L147.7 60.65L147.94 61.64L148.18 62.44L148.42 63.43L148.66 64.28L148.89 65.46L149.12 66.44L149.35 67.68L149.58 68.84L149.8 69.98L150 70.77L150.19 71.78L150.38 73.07L150.56 74.35L150.75 75.39L150.94 76.03L151.12 76.85L151.31 77.79L151.5 78.75L151.7 79.64L151.92 80.79L152.15 81.87L152.38 82.68L152.61 83.71L152.85 85.01L153.09 86.2L153.32 86.99L153.56 87.62L153.8 88.39L154.06 89.57L154.31 90.62L154.55 91.57L154.8 92.61L155.06 93.75L155.34 94.77L155.65 95.54L156 96.46L156.28 97.42L156.57 98.64L156.88 99.81L157.21 100.59L157.55 101.34L157.89 102.1L158.25 102.87L158.61 103.74L158.97 104.77L159.34 106.28L159.7 107.57L160.07 108.63L160.47 109.38L160.88 110.36L161.29 111.62L161.71 112.71L162.13 113.74L162.54 114.55L162.93 115.48L163.31 116.4L163.67 117.33L164 118.02L164.39 119.04L164.73 119.92L165.02 120.97L165.29 121.81L165.57 122.66L165.86 123.71L166.2 124.9L166.6 126.17L166.88 126.73L167.18 127.57L167.5 128.51L167.83 129.54L168.17 130.78L168.52 131.88L168.88 132.87L169.24 133.93L169.6 135.24L169.96 136.18L170.32 136.94L170.66 138.03L171 139.2L171.39 140.27L171.79 141.26L172.18 142.19L172.58 143.14L172.97 144.33L173.36 145.76L173.75 146.85L174.12 147.68L174.49 148.52L174.85 149.44L175.2 150.32L175.7 151.36L176.13 152.27L176.54 153.16L176.94 154.13L177.39 154.86L177.89 155.79L178.5 156.98L178.89 157.87L179.3 158.46L179.72 159.25L180.16 160.04L180.62 160.85L181.1 161.77L181.6 162.93L182.13 164.11L182.68 165.09L183.25 166.08L183.86 167.13L184.5 168.18L185.03 169.08L185.59 170.01L186.16 170.85L186.76 171.58L187.37 172.39L188 173.15L188.64 173.86L189.3 174.61L189.97 175.43L190.65 176.31L191.34 177.27L192.05 178.1L192.76 178.7L193.48 179.41L194.2 180.32L194.98 181L195.78 181.63L196.59 182.27L197.41 182.91L198.25 183.47L199.09 184.11L199.95 184.83L200.82 185.47L201.7 186.06L202.6 186.61L203.51 187.16L204.42 187.75L205.36 188.35L206.3 188.94L207.19 189.35L208.1 189.71L209.03 190.1L209.96 190.66L210.91 191.2L211.86 191.61L212.83 191.89L213.81 192.23L214.79 192.66L215.78 193.06L216.78 193.45L217.78 193.87L218.78 194.25L219.79 194.58L220.8 194.77L221.76 195.03L222.73 195.27L223.72 195.52L224.71 195.75L225.72 195.97L226.74 196.14L227.75 196.24L228.77 196.44L229.78 196.58L230.79 196.7L231.8 196.78L232.79 196.95L233.77 197.05L234.73 197.18L235.68 197.31L236.6 197.43L237.71 197.56L238.81 197.65L239.88 197.74L240.95 197.78L241.99 197.81L243.03 197.85L244.05 197.91L245.06 197.99L246.06 198.05L247.05 197.99L248.04 197.91L249.02 197.89L250 197.97L251.05 198L252.07 197.93L253.08 197.85L254.07 197.74L255.05 197.72L256.03 197.65L257 197.64L257.98 197.67L258.96 197.68L259.96 197.63L260.97 197.57L262 197.62L262.96 197.6L263.92 197.64L264.89 197.65L265.86 197.68L266.84 197.67L267.82 197.77L268.81 197.94L269.81 198.03L270.82 198.01L271.84 197.94L272.88 197.91L273.93 197.96L275 198.02L275.93 198.04L276.87 198.04L277.82 197.95L278.77 197.9L279.72 197.82L280.69 197.82L281.66 197.75L282.65 197.77L283.65 197.75L284.67 197.75L285.7 197.74L286.74 197.82L287.81 197.85L288.89 197.73L290 197.63L290.97 197.61L292 197.67L293.09 197.67L294.23 197.69L295.4 197.76L296.59 197.82L297.8 197.81L299 197.77L300.19 197.82L301.35 197.87L302.49 197.96L303.57 198L304.6 198.06L305.57 198.08L306.45 198.12L307.24 198.18L307.93 198.16L308.5 198.17" fill="none" stroke="#58b6f2" stroke-width="2.3" stroke-linejoin="round" stroke-linecap="round" clip-path="url(#clipa)"/>
<path d="M70.6 201.2L71.19 201.21L71.92 201.22L72.78 201.23L73.74 201.24L74.79 201.26L75.92 201.27L77.09 201.29L78.31 201.3L79.54 201.32L80.78 201.34L82 201.35L83.19 201.36L84.32 201.38L85.39 201.39L86.37 201.39L87.25 201.4L88 201.4L89.69 201.39L90.94 201.37L91.87 201.33L92.61 201.29L93.28 201.24L94 201.2L95.27 201.19L96.25 201.16L97.4 200.9L98.32 200.58L99.35 200.17L100.41 199.68L101.42 199.12L102.3 198.5L103.19 197.65L103.94 196.7L104.59 195.65L105.2 194.5L105.62 193.68L105.95 192.98L106.27 192.12L106.63 190.85L107.1 188.9L107.26 188.2L107.43 187.42L107.61 186.57L107.8 185.65L107.99 184.69L108.19 183.67L108.4 182.62L108.61 181.54L108.82 180.43L109.04 179.31L109.26 178.18L109.47 177.05L109.69 175.93L109.9 174.82L110.11 173.73L110.31 172.68L110.51 171.67L110.7 170.7L110.91 169.64L111.12 168.59L111.33 167.55L111.54 166.51L111.74 165.48L111.95 164.46L112.15 163.45L112.35 162.46L112.55 161.47L112.74 160.5L112.93 159.54L113.11 158.6L113.29 157.67L113.47 156.76L113.64 155.87L113.8 155L114 153.9L114.18 152.9L114.34 151.97L114.49 151.08L114.63 150.22L114.76 149.37L114.9 148.5L115.05 147.59L115.21 146.61L115.38 145.55L115.58 144.39L115.8 143.1L115.94 142.29L116.09 141.43L116.26 140.52L116.43 139.57L116.6 138.58L116.79 137.56L116.98 136.51L117.17 135.44L117.37 134.36L117.56 133.27L117.76 132.18L117.96 131.09L118.15 130L118.34 128.93L118.53 127.88L118.71 126.86L118.89 125.86L119.06 124.9L119.21 123.99L119.36 123.12L119.5 122.3L119.71 121L119.9 119.84L120.06 118.78L120.21 117.82L120.34 116.91L120.46 116.04L120.58 115.17L120.7 114.28L120.83 113.35L120.97 112.34L121.12 111.23L121.3 110L121.42 109.15L121.55 108.27L121.68 107.34L121.81 106.39L121.95 105.4L122.09 104.39L122.24 103.36L122.38 102.32L122.53 101.26L122.68 100.2L122.83 99.13L122.98 98.07L123.13 97.01L123.28 95.96L123.43 94.92L123.58 93.9L123.72 92.91L123.86 91.94L124 91L124.16 89.91L124.33 88.83L124.49 87.76L124.65 86.7L124.82 85.66L124.98 84.62L125.14 83.6L125.3 82.59L125.46 81.59L125.62 80.6L125.77 79.63L125.92 78.68L126.07 77.73L126.22 76.81L126.36 75.9L126.5 75L126.68 73.83L126.85 72.69L127.01 71.57L127.17 70.47L127.33 69.41L127.48 68.36L127.63 67.34L127.78 66.35L127.93 65.38L128.08 64.43L128.24 63.5L128.4 62.6L128.62 61.43L128.84 60.3L129.06 59.21L129.28 58.16L129.5 57.16L129.72 56.2L129.95 55.29L130.17 54.42L130.4 53.6L130.81 52.25L131.22 51.05L131.64 49.99L132.07 49.08L132.5 48.3L133.61 47.25L134.8 46.5L135.47 45.83L136.18 45.07L136.9 44.29L137.6 43.6L138.5 42.79L139.4 42.07L140.3 41.5L141.73 40.91L143.1 40.8L144.28 41.37L145.4 42.6L145.85 43.31L146.3 44.15L146.75 45.1L147.21 46.12L147.7 47.2L148.13 48.16L148.57 49.19L149.03 50.27L149.49 51.39L149.95 52.5L150.4 53.6L150.76 54.46L151.1 55.21L151.44 55.95L151.78 56.75L152.14 57.67L152.55 58.79L153 60.2L153.23 60.97L153.47 61.83L153.73 62.74L153.99 63.72L154.26 64.74L154.53 65.81L154.81 66.9L155.1 68.02L155.39 69.14L155.69 70.27L155.99 71.39L156.29 72.49L156.59 73.56L156.9 74.6L157.2 75.6L157.53 76.63L157.86 77.65L158.2 78.66L158.55 79.65L158.9 80.63L159.25 81.61L159.61 82.58L159.96 83.55L160.32 84.51L160.68 85.46L161.04 86.42L161.39 87.38L161.75 88.34L162.1 89.3L162.45 90.26L162.81 91.21L163.16 92.15L163.52 93.09L163.87 94.03L164.23 94.96L164.59 95.89L164.94 96.83L165.29 97.77L165.64 98.72L165.99 99.67L166.33 100.64L166.67 101.61L167 102.6L167.31 103.54L167.61 104.51L167.91 105.49L168.21 106.49L168.5 107.5L168.8 108.52L169.09 109.54L169.37 110.55L169.66 111.56L169.94 112.55L170.22 113.53L170.49 114.49L170.77 115.42L171.03 116.33L171.3 117.2L171.65 118.33L171.98 119.39L172.3 120.39L172.61 121.36L172.91 122.3L173.22 123.23L173.52 124.17L173.84 125.12L174.18 126.1L174.53 127.12L174.9 128.2L175.2 129.09L175.51 130L175.82 130.93L176.14 131.88L176.46 132.84L176.79 133.82L177.12 134.8L177.47 135.79L177.83 136.78L178.19 137.78L178.57 138.77L178.97 139.75L179.38 140.73L179.8 141.7L180.21 142.59L180.64 143.49L181.09 144.38L181.56 145.26L182.03 146.15L182.51 147.03L183.01 147.92L183.51 148.81L184.01 149.69L184.51 150.59L185.02 151.48L185.52 152.38L186.02 153.28L186.52 154.19L187 155.1L187.47 156.03L187.93 156.97L188.38 157.92L188.82 158.89L189.26 159.86L189.7 160.83L190.15 161.81L190.59 162.78L191.05 163.74L191.53 164.7L192.01 165.64L192.52 166.56L193.05 167.46L193.61 168.35L194.2 169.2L194.81 170.03L195.45 170.85L196.1 171.65L196.78 172.44L197.47 173.22L198.18 173.98L198.9 174.73L199.64 175.47L200.39 176.19L201.15 176.9L201.92 177.6L202.71 178.29L203.5 178.97L204.3 179.64L205.1 180.3L205.91 180.95L206.74 181.59L207.59 182.21L208.44 182.83L209.31 183.43L210.18 184.03L211.07 184.61L211.97 185.18L212.87 185.73L213.78 186.28L214.7 186.81L215.62 187.33L216.54 187.83L217.47 188.32L218.4 188.8L219.33 189.26L220.26 189.71L221.2 190.14L222.14 190.56L223.08 190.97L224.03 191.36L224.99 191.75L225.95 192.11L226.92 192.47L227.91 192.82L228.9 193.15L229.91 193.48L230.92 193.8L231.95 194.1L233 194.4L233.94 194.65L234.9 194.9L235.88 195.13L236.88 195.35L237.89 195.57L238.9 195.77L239.93 195.97L240.96 196.16L241.99 196.34L243.02 196.52L244.05 196.69L245.07 196.85L246.09 197.01L247.09 197.16L248.08 197.31L249.05 197.46L250 197.6L251.06 197.75L252.1 197.9L253.13 198.03L254.14 198.16L255.15 198.27L256.14 198.38L257.13 198.49L258.12 198.59L259.1 198.68L260.07 198.77L261.05 198.86L262.03 198.94L263.02 199.03L264 199.11L265 199.2L266 199.29L267 199.37L268 199.45L269 199.52L270 199.6L271 199.67L272 199.74L273 199.8L274 199.86L275 199.93L276 199.98L277 200.04L278 200.1L279 200.15L280 200.2L281 200.25L282.01 200.29L283.02 200.34L284.04 200.37L285.06 200.41L286.07 200.45L287.09 200.48L288.1 200.51L289.11 200.54L290.11 200.57L291.11 200.59L292.1 200.62L293.08 200.65L294.04 200.67L295 200.7L296.12 200.73L297.29 200.76L298.49 200.79L299.71 200.82L300.92 200.84L302.11 200.87L303.26 200.89L304.36 200.92L305.39 200.94L306.34 200.96L307.18 200.97L307.91 200.99L308.5 201" fill="none" stroke="#5b3ce8" stroke-width="2.3" stroke-linejoin="round" stroke-linecap="round" clip-path="url(#clipa)"/>
<path d="M265.7 36.5H287.8" stroke="#f0164c" stroke-width="2.4"/>
<text x="290.4" y="39.9" font-size="13.4" text-anchor="start" >A</text>
<path d="M265.7 52.8H287.8" stroke="#f98232" stroke-width="2.4"/>
<text x="290.4" y="56.2" font-size="13.4" text-anchor="start" >B</text>
<path d="M265.7 69.1H287.8" stroke="#68e41c" stroke-width="2.4"/>
<text x="290.4" y="72.5" font-size="13.4" text-anchor="start" >C</text>
<path d="M265.7 85.4H287.8" stroke="#58b6f2" stroke-width="2.4"/>
<text x="290.4" y="88.8" font-size="13.4" text-anchor="start" >D</text>
<path d="M265.7 101.7H287.8" stroke="#5b3ce8" stroke-width="2.4"/>
<text x="290.4" y="105.1" font-size="13.4" text-anchor="start" >E</text>
<path d="M407.4 201.25L407.97 201.27L408.64 201.2L409.41 201.19L410.26 201.23L411.19 201.27L412.19 201.25L413.24 201.28L414.35 201.32L415.49 201.31L416.67 201.32L417.87 201.29L419.08 201.28L420.3 201.25L421.52 201.3L422.72 201.32L423.9 201.32L425.04 201.26L426.15 201.23L427.21 201.23L428.21 201.24L429.14 201.27L430 201.3L431.34 201.14L432.61 200.89L433.81 200.77L434.96 200.81L436.04 200.8L437.07 200.72L438.06 200.72L439 200.57L439.91 200.36L440.79 200.23L441.64 200.19L442.48 200.05L443.3 199.75L444.55 199.31L445.68 198.94L446.71 198.66L447.66 198.31L448.56 197.81L449.44 197.33L450.31 196.82L451.2 196.21L452 195.64L452.77 195.08L453.53 194.38L454.27 193.69L454.99 193.01L455.72 192.25L456.44 191.22L457.17 190.19L457.9 189.07L458.38 188.43L458.86 187.53L459.34 186.78L459.83 185.91L460.32 184.98L460.8 183.91L461.29 183L461.77 182.19L462.24 181.13L462.71 179.94L463.17 178.87L463.63 177.89L464.07 176.91L464.5 175.87L464.81 174.9L465.12 173.92L465.43 173.13L465.73 172.4L466.03 171.25L466.33 170.19L466.62 169.33L466.91 168.53L467.2 167.4L467.48 166.09L467.76 164.88L468.03 163.9L468.3 163.16L468.56 162.24L468.82 161.03L469.07 159.66L469.32 158.79L469.56 158.25L469.8 157.37L470.06 156.11L470.31 155.04L470.56 154.15L470.8 153.2L471.04 152.1L471.26 150.9L471.49 149.62L471.71 148.67L471.92 147.34L472.12 146.14L472.32 145.07L472.52 144.21L472.71 143.25L472.89 142.29L473.06 141.73L473.24 140.88L473.4 140.23L473.68 138.98L473.91 137.95L474.11 136.64L474.3 135.17L474.47 134.5L474.64 133.93L474.83 132.97L475.05 131.5L475.3 130.17L475.45 129.62L475.61 128.78L475.78 127.83L475.95 126.56L476.13 125.58L476.31 124.4L476.5 123.5L476.69 122.73L476.88 121.59L477.07 119.68L477.26 118.35L477.46 118.28L477.65 117.65L477.84 116.02L478.03 114.62L478.22 113.83L478.4 112.99L478.65 111.63L478.9 110.8L479.15 109.82L479.4 108.86L479.65 107.77L479.89 106.68L480.14 105.55L480.39 104.47L480.64 103.64L480.89 102.54L481.14 101.41L481.4 100.66L481.62 100.12L481.85 99.26L482.08 98.05L482.31 96.99L482.54 95.85L482.78 94.8L483.01 93.97L483.25 92.72L483.48 91.67L483.71 90.62L483.94 89.54L484.16 88.15L484.38 87.28L484.6 87.05L484.89 85.98L485.17 84.84L485.44 83.07L485.71 82.22L485.98 81.64L486.24 81.22L486.51 80.01L486.8 78.78L487.09 77.94L487.4 77.04L487.6 76.61L487.81 75.68L488.02 74.28L488.24 72.7L488.46 71.63L488.69 70.75L488.91 69.72L489.14 68.69L489.38 67.17L489.61 66.16L489.84 65.12L490.07 64.08L490.31 62.98L490.54 62.64L490.77 62.21L491 61.15L491.33 59.34L491.67 58.71L492 58.1L492.34 56.81L492.68 54.65L493.01 53.48L493.35 52.51L493.69 51.71L494.03 50.87L494.36 50.76L494.7 50.37L495.31 48.55L495.91 46.92L496.51 45.65L497.12 45.8L497.75 45.4L498.4 45.21L499.2 43.76L500.02 43.17L500.86 43.03L501.75 42.45L502.7 41.47L503.75 40.91L504.9 41.43L506.07 41.58L507.2 42.82L508.2 43.57L508.92 44.24L509.57 44.71L510.17 45.71L510.74 46.51L511.31 47.14L511.9 48.1L512.5 48.69L513.1 49.42L513.7 50.24L514.3 51.29L514.9 52.25L515.5 53.16L516.01 54.2L516.51 54.97L517.02 55.71L517.53 56.21L518.05 57.03L518.61 57.77L519.2 59.16L519.6 59.97L520.01 60.84L520.44 61.76L520.87 63.22L521.32 64.31L521.77 64.68L522.23 65.59L522.7 67.01L523.16 68.2L523.63 69.18L524.1 70.13L524.53 70.99L524.97 71.7L525.41 72.83L525.86 74.04L526.31 74.56L526.76 75.81L527.22 76.81L527.67 77.56L528.13 78.13L528.59 79.31L529.04 80.64L529.5 81.44L529.92 82.37L530.34 83.31L530.76 84.18L531.18 85.23L531.61 86.13L532.03 86.99L532.46 87.79L532.88 89.05L533.3 90.21L533.73 90.92L534.15 91.89L534.58 92.63L535 93.38L535.42 94.27L535.85 95.41L536.27 96.52L536.69 97.57L537.12 99.04L537.54 99.88L537.96 100.59L538.38 101.46L538.81 102.16L539.23 103.72L539.65 104.84L540.08 105.88L540.5 106.33L540.96 107.57L541.42 108.28L541.89 109.09L542.35 110.41L542.82 111.66L543.28 112.34L543.74 113.23L544.2 114.13L544.66 115.13L545.11 116.1L545.56 117.07L546 117.58L546.44 118.39L546.87 119.37L547.29 120.73L547.71 121.86L548.13 123.05L548.55 123.85L548.96 124.75L549.37 125.37L549.78 126.31L550.19 127.59L550.6 128.63L551 129.14L551.44 129.72L551.88 130.67L552.31 131.57L552.75 132.55L553.18 133.57L553.61 134.85L554.03 135.83L554.46 136.74L554.87 137.55L555.29 138.39L555.7 139.34L556.16 140.11L556.55 140.75L556.9 141.22L557.25 142.09L557.62 142.78L558.06 143.6L558.57 144.36L559.21 145.81L560 147.22L560.43 147.97L560.9 148.3L561.4 149.02L561.93 149.93L562.49 150.77L563.07 151.54L563.67 152.46L564.29 153.51L564.93 154.71L565.57 155.93L566.23 156.96L566.89 157.77L567.55 158.35L568.21 159.27L568.87 160.17L569.52 161.25L570.16 162.22L570.79 162.73L571.4 163.24L572.16 163.85L572.92 164.99L573.67 165.64L574.43 166.38L575.18 167.08L575.93 168.04L576.68 168.8L577.44 169.29L578.2 169.74L578.97 170.47L579.74 171.24L580.52 171.67L581.3 172.2L582.1 172.96L582.9 173.87L583.71 174.37L584.53 174.98L585.35 175.41L586.18 176.04L587.01 176.54L587.85 177.28L588.7 177.95L589.55 178.5L590.41 178.92L591.27 179.4L592.15 180.15L593.02 180.8L593.91 181.18L594.8 181.55L595.7 182.11L596.61 182.95L597.53 183.27L598.46 183.49L599.41 183.92L600.36 184.47L601.31 184.77L602.27 185.14L603.24 185.84L604.21 186.33L605.18 186.69L606.15 187.06L607.12 187.64L608.08 188.02L609.04 188.44L610 188.64L610.94 188.94L611.85 189.23L612.75 189.75L613.64 190.19L614.51 190.46L615.39 190.71L616.28 191.08L617.18 191.45L618.09 191.66L619.03 191.89L620 192.07L621 192.36L622.05 192.73L623.15 193.09L624.3 193.39L625.18 193.52L626.13 193.7L627.14 193.85L628.2 194.3L629.31 194.5L630.45 194.7L631.61 194.89L632.79 195.24L633.97 195.47L635.16 195.56L636.33 195.54L637.48 195.68L638.6 195.92L639.68 196.18L640.71 196.25L641.69 196.53L642.6 196.79L643.43 196.95L644.19 197.04L644.84 197.14L645.4 197.26" fill="none" stroke="#f0164c" stroke-width="2.5" stroke-linejoin="round" stroke-linecap="round" clip-path="url(#clipb)"/>
<path d="M407.4 201.17L407.95 201.23L408.58 201.29L409.28 201.23L410.06 201.15L410.9 201.13L411.8 201.18L412.75 201.14L413.76 201.15L414.81 201.18L415.9 201.29L417.02 201.31L418.18 201.3L419.36 201.21L420.57 201.25L421.79 201.21L423.02 201.26L424.26 201.21L425.5 201.23L426.73 201.16L427.96 201.16L429.18 201.2L430.38 201.23L431.55 201.29L432.7 201.24L433.82 201.2L434.9 201.14L435.93 201.22L436.92 201.16L437.86 201.14L438.74 201.14L439.56 201.16L440.32 201.18L441 201.2L443.09 201.25L444.69 201.23L445.89 201.16L446.79 201.03L447.47 200.95L448.04 200.96L448.59 200.95L449.21 200.85L450 200.68L451.12 200.47L452.17 200.31L453.17 200.14L454.15 199.96L455.14 199.82L456.15 199.54L457.2 199.15L458.16 198.75L459.15 198.42L460.15 198.05L461.16 197.65L462.18 197.28L463.2 196.69L464.2 196.05L465.2 195.21L465.81 194.69L466.42 194.09L467.04 193.56L467.65 192.97L468.26 192.27L468.88 191.49L469.49 190.66L470.09 189.76L470.69 188.91L471.28 187.92L471.86 186.79L472.44 185.7L473 184.61L473.31 183.81L473.63 182.97L473.94 182.21L474.25 181.47L474.56 180.38L474.86 179.4L475.17 178.2L475.47 177.07L475.77 175.98L476.06 175.13L476.36 174.37L476.65 173.69L476.94 172.59L477.23 171.42L477.52 170.11L477.8 169.07L478.08 167.75L478.36 166.54L478.63 165.4L478.9 164.41L479.17 163.53L479.44 162.57L479.7 161.84L479.97 160.91L480.24 159.96L480.5 158.94L480.75 158.02L481.01 156.97L481.25 155.8L481.5 154.72L481.74 153.86L481.98 153.03L482.22 152.08L482.46 151.03L482.69 149.88L482.92 148.84L483.15 147.58L483.38 146.74L483.61 145.79L483.84 144.94L484.07 143.81L484.3 142.79L484.53 141.66L484.77 140.68L485 139.71L485.2 138.63L485.41 137.53L485.61 136.4L485.81 135.74L486 134.88L486.2 134.11L486.39 133.28L486.59 132.8L486.78 131.87L486.97 130.57L487.17 129.49L487.36 128.8L487.55 127.75L487.75 126.54L487.94 125.5L488.14 124.64L488.34 123.7L488.54 122.63L488.74 121.38L488.94 120L489.15 118.44L489.36 117.44L489.57 116.88L489.78 116.15L490 115.18L490.19 114.34L490.37 113.56L490.57 112.33L490.76 111.19L490.96 110.05L491.16 108.93L491.37 107.91L491.58 107.14L491.78 106.32L491.99 105.15L492.2 104.03L492.41 102.77L492.63 101.7L492.84 100.58L493.05 99.68L493.26 98.6L493.47 97.51L493.68 96.38L493.89 95.18L494.1 94.05L494.3 93.33L494.5 92.5L494.7 91.84L494.9 90.86L495.09 89.25L495.28 87.66L495.47 87.19L495.65 87.02L495.83 86.06L496 84.72L496.28 83.63L496.54 82.79L496.79 81.86L497.04 80.5L497.27 79.45L497.5 78.47L497.73 77.05L497.95 75.76L498.16 74.77L498.38 74L498.59 73.03L498.81 72.14L499.03 70.59L499.25 69.64L499.47 69.26L499.71 68.9L499.95 67.52L500.2 66.42L500.51 65.12L500.83 64.07L501.15 63.01L501.48 62.11L501.81 60.79L502.14 59.63L502.48 58.95L502.82 58.58L503.16 57.89L503.5 56.64L503.85 55.22L504.19 54.32L504.53 53.96L504.87 53.05L505.2 52.14L505.76 50.29L506.32 49.19L506.89 48.08L507.46 47.33L508.03 46.03L508.59 45.15L509.14 45.02L509.68 44.62L510.2 44.16L511.33 42.88L512.41 42.62L513.46 42.17L514.5 41.99L515.52 41.48L516.52 41.43L517.51 41.79L518.5 42.43L519.5 42.8L520.49 42.63L521.49 42.43L522.5 42.94L523.05 43.61L523.57 44.55L524.08 45.42L524.61 46.23L525.19 47.31L525.85 48.15L526.6 49.08L526.99 49.93L527.41 51.32L527.85 52.2L528.31 52.98L528.79 53.66L529.28 54.5L529.79 54.79L530.3 55.97L530.82 57.19L531.34 58.74L531.86 59.76L532.38 60.73L532.9 61.46L533.4 62.51L533.9 63.44L534.39 64.18L534.9 64.86L535.4 65.99L535.92 67.18L536.43 68.49L536.94 69.29L537.46 70.14L537.97 70.62L538.47 71.54L538.97 72.3L539.46 73.65L539.94 74.65L540.41 75.33L540.86 75.89L541.3 76.76L541.79 77.74L542.25 78.48L542.71 79.17L543.14 80.68L543.57 81.93L543.98 83.05L544.39 83.24L544.79 83.77L545.19 84.45L545.59 85.6L545.99 86.85L546.39 87.63L546.8 88.53L547.24 89.71L547.67 90.71L548.1 91.54L548.52 92.09L548.94 93.1L549.36 93.98L549.78 95.37L550.2 96.16L550.64 96.89L551.08 97.73L551.53 98.64L552 99.43L552.44 100.06L552.89 101.01L553.35 102.07L553.81 103.37L554.28 104.89L554.76 106.07L555.24 107.05L555.73 107.52L556.22 108.11L556.71 108.88L557.2 109.53L557.7 110.72L558.2 111.8L558.64 112.75L559.08 113.26L559.53 114.46L559.98 115.83L560.43 116.79L560.89 117.55L561.35 118.3L561.81 119.1L562.27 119.94L562.73 120.94L563.19 121.76L563.65 122.73L564.1 123.51L564.55 124.53L565 125.15L565.5 126.17L565.98 126.98L566.45 128.18L566.91 129.08L567.37 129.95L567.83 131.01L568.29 132.07L568.77 132.87L569.26 133.67L569.77 134.64L570.32 135.59L570.89 136.42L571.5 137.55L571.99 138.35L572.48 139.08L572.99 139.95L573.5 140.86L574.03 141.72L574.57 142.22L575.11 143L575.68 143.91L576.25 144.95L576.84 146.05L577.44 146.8L578.06 147.51L578.7 148.46L579.35 149.61L580.01 150.56L580.7 151.51L581.4 152.48L581.99 153.16L582.59 153.7L583.21 154.63L583.85 155.55L584.5 156.21L585.17 156.78L585.84 157.36L586.53 158.31L587.22 159.21L587.92 160.11L588.63 160.69L589.34 161.18L590.05 162.02L590.77 162.92L591.49 163.81L592.2 164.54L592.91 165.24L593.62 165.86L594.32 166.38L595.01 166.96L595.7 167.89L596.54 168.82L597.37 169.54L598.19 170.06L599.01 170.44L599.82 170.97L600.63 171.59L601.45 172.4L602.27 172.99L603.09 173.39L603.91 173.96L604.75 174.6L605.59 175.14L606.44 175.43L607.31 175.88L608.19 176.65L609.09 177.26L610 177.83L610.83 178.36L611.68 178.78L612.53 179.17L613.4 179.55L614.27 179.92L615.15 180.17L616.04 180.83L616.94 181.56L617.85 182.35L618.76 182.65L619.67 182.99L620.59 183.32L621.52 183.89L622.44 184.37L623.37 184.8L624.3 185.16L625.24 185.33L626.17 185.61L627.1 186.22L628.06 186.91L629.07 187.45L630.11 187.68L631.19 187.96L632.3 188.2L633.41 188.64L634.54 189.07L635.66 189.52L636.77 189.99L637.86 190.31L638.92 190.61L639.95 190.76L640.93 191.15L641.86 191.42L642.73 191.74L643.52 191.94L644.24 192.3L644.87 192.54L645.4 192.68" fill="none" stroke="#f98232" stroke-width="2.5" stroke-linejoin="round" stroke-linecap="round" clip-path="url(#clipb)"/>
<path d="M407.4 201.19L407.96 201.17L408.61 201.09L409.35 201.14L410.16 201.25L411.05 201.31L412 201.27L413.01 201.26L414.07 201.25L415.17 201.25L416.31 201.25L417.49 201.25L418.68 201.2L419.9 201.22L421.13 201.25L422.36 201.29L423.59 201.27L424.8 201.26L426.01 201.22L427.19 201.26L428.34 201.28L429.45 201.31L430.52 201.29L431.55 201.24L432.51 201.23L433.41 201.3L434.24 201.28L435 201.14L436.64 200.97L438.07 201.01L439.32 201.04L440.41 201.06L441.38 201L442.24 200.92L443.03 200.8L443.77 200.67L444.5 200.58L445.23 200.43L446 200.26L447.33 200L448.44 199.88L449.44 199.61L450.39 199.18L451.38 198.63L452.5 198.16L453.33 197.81L454.2 197.46L455.11 196.91L456.03 196.44L456.96 195.94L457.88 195.34L458.79 194.53L459.66 193.75L460.5 192.91L461.02 192.27L461.53 191.64L462.03 190.91L462.53 189.97L463.01 188.89L463.49 188.01L463.97 187.12L464.44 186.18L464.9 185.13L465.35 184.17L465.8 183.07L466.24 181.82L466.67 180.44L467.1 179.48L467.41 178.89L467.72 178.35L468.02 177.4L468.31 176.37L468.6 175.32L468.89 174.41L469.17 173.38L469.45 172.23L469.73 171.44L470.01 170.7L470.28 169.78L470.55 168.55L470.82 167.39L471.08 166.39L471.35 165.43L471.61 164.34L471.87 163.15L472.14 162.03L472.4 161.06L472.64 160.31L472.87 159.4L473.1 158.51L473.33 157.42L473.55 156.49L473.78 155.26L474 154.3L474.22 153.32L474.44 152.39L474.66 151.3L474.88 150.19L475.1 149.13L475.31 147.98L475.53 146.97L475.75 146.16L475.97 145.49L476.19 144.59L476.42 143.81L476.64 142.75L476.87 141.43L477.1 140.23L477.3 139.19L477.5 138.3L477.7 137.03L477.9 136.17L478.1 134.83L478.3 134.02L478.5 133.1L478.7 132.22L478.9 131.3L479.1 130.59L479.3 129.69L479.5 128.28L479.7 127.09L479.91 126.07L480.12 125.27L480.33 124.42L480.54 123.3L480.75 121.97L480.97 120.7L481.19 119.52L481.41 118.39L481.64 117.42L481.87 116.7L482.1 115.96L482.3 114.95L482.5 113.86L482.71 112.68L482.92 112.13L483.14 111.18L483.36 110.21L483.58 108.69L483.81 107.44L484.04 106.36L484.27 105.46L484.5 104.58L484.73 103.26L484.97 102.28L485.2 101.13L485.44 100.58L485.67 99.52L485.9 98.72L486.13 97.21L486.35 96.16L486.58 94.9L486.8 93.99L487.02 92.96L487.23 92.14L487.44 91.32L487.64 90.57L487.84 89.9L488.03 88.95L488.22 87.66L488.4 86.48L488.67 85.23L488.93 83.93L489.18 82.97L489.41 82.06L489.63 81.31L489.84 80.35L490.04 79.64L490.24 78.77L490.44 77.43L490.63 76.37L490.82 75.59L491.01 74.73L491.21 73.9L491.41 73.17L491.62 72L491.84 70.72L492.06 69.54L492.3 69.11L492.55 68.41L492.8 67.38L493.06 65.77L493.32 64.56L493.59 63.72L493.86 63.11L494.13 62.28L494.41 61.12L494.69 59.77L494.97 58.17L495.25 57.07L495.53 56.28L495.81 55.74L496.09 54.49L496.37 53.48L496.65 53.19L496.93 52.69L497.2 51.44L497.75 49.9L498.31 48.45L498.88 47.54L499.45 46.37L500.01 46.13L500.56 45.23L501.1 44.9L501.61 44.33L502.1 43.5L503.09 41.61L503.98 40.85L504.82 41.3L505.7 41.65L506.88 41.38L508.07 41.03L509.4 41.61L510.13 42.17L510.9 42.75L511.7 42.97L512.53 43.82L513.4 45.17L514.3 46.28L514.77 47.02L515.25 47.91L515.74 48.8L516.24 48.66L516.75 49.47L517.27 50.86L517.79 52.13L518.31 52.53L518.84 53.58L519.36 54.82L519.88 55.99L520.4 57.35L520.88 59.08L521.36 60.26L521.84 60.4L522.33 60.93L522.81 61.28L523.3 62.15L523.79 62.99L524.27 64.1L524.75 64.66L525.22 65.86L525.69 67.22L526.15 68.47L526.6 69.44L527.08 70.23L527.54 70.74L527.99 71.07L528.44 72.02L528.88 73.39L529.31 74.66L529.75 75.66L530.19 76.19L530.63 76.9L531.07 77.57L531.53 78.48L532 79.89L532.41 81.26L532.81 82.13L533.21 82.35L533.62 83.02L534.02 83.79L534.43 84.81L534.84 85.58L535.26 86.58L535.69 87.29L536.13 88.37L536.58 89.21L537.04 90.09L537.51 91.05L538 92.33L538.35 93.41L538.72 94.48L539.09 95.8L539.47 97.01L539.86 97.85L540.26 98.59L540.66 99.35L541.06 100.57L541.47 101.67L541.88 102.5L542.29 103.27L542.71 104.45L543.12 105.22L543.53 105.74L543.94 106.61L544.34 107.72L544.74 108.53L545.13 109.41L545.52 110.73L545.9 111.9L546.37 113.54L546.83 114.52L547.28 115.48L547.73 116.1L548.18 117.09L548.63 117.65L549.07 118.15L549.51 118.84L549.94 120.11L550.38 121.64L550.82 122.77L551.25 123.53L551.69 124L552.12 124.93L552.56 126.05L553 126.94L553.49 127.55L553.97 128.14L554.43 129.29L554.88 130.36L555.33 131.3L555.78 131.96L556.23 132.85L556.7 133.66L557.18 134.26L557.68 134.87L558.21 135.61L558.77 136.82L559.36 138.47L560 139.65L560.45 140.18L560.91 140.8L561.38 141.75L561.87 142.55L562.38 143.27L562.89 144.41L563.42 145.32L563.95 146.33L564.5 147.22L565.05 148.21L565.61 148.85L566.18 149.58L566.75 150.73L567.33 151.93L567.91 152.9L568.49 153.58L569.07 154.43L569.65 155.4L570.24 156.39L570.82 157.37L571.4 158.09L572.08 158.73L572.76 159.1L573.45 160.05L574.14 161.06L574.84 162.08L575.54 162.79L576.24 163.69L576.95 164.47L577.67 165.06L578.39 165.53L579.11 166.2L579.84 166.8L580.57 167.5L581.31 168.26L582.05 169.13L582.8 169.58L583.55 170.07L584.3 170.5L585.1 171.15L585.91 171.76L586.72 172.5L587.54 173.11L588.36 173.8L589.19 174.55L590.02 175.11L590.86 175.69L591.7 176.05L592.54 176.46L593.39 176.93L594.25 177.74L595.11 178.53L595.97 178.94L596.84 179.41L597.72 179.95L598.6 180.72L599.49 181.25L600.39 181.73L601.3 182.04L602.23 182.47L603.16 182.88L604.09 183.46L605.03 183.87L605.98 184.23L606.92 184.65L607.87 185.32L608.81 185.85L609.74 186.19L610.67 186.41L611.6 186.81L612.51 187.23L613.41 187.72L614.3 188.03L615.36 188.28L616.39 188.46L617.41 188.72L618.41 189.02L619.41 189.46L620.4 189.94L621.38 190.21L622.37 190.48L623.37 190.77L624.37 191.02L625.4 191.16L626.44 191.44L627.5 191.7L628.6 191.81L629.55 192.02L630.56 192.36L631.63 192.56L632.74 192.77L633.87 193.09L635.02 193.45L636.18 193.63L637.33 193.82L638.46 194.01L639.55 194.18L640.61 194.49L641.61 194.67L642.55 194.83L643.41 194.96L644.18 195.15L644.85 195.22L645.4 195.33" fill="none" stroke="#68e41c" stroke-width="2.5" stroke-linejoin="round" stroke-linecap="round" clip-path="url(#clipb)"/>
<path d="M407.4 201.09L407.95 201.07L408.56 201.14L409.25 201.27L410 201.3L410.81 201.24L411.68 201.14L412.6 201.16L413.57 201.29L414.59 201.36L415.65 201.24L416.74 201.1L417.86 201.17L419.02 201.28L420.2 201.22L421.39 201.11L422.61 201.08L423.84 201.11L425.08 201.1L426.32 201.13L427.57 201.18L428.81 201.22L430.04 201.22L431.26 201.2L432.47 201.26L433.66 201.22L434.83 201.15L435.97 201.08L437.07 201.14L438.15 201.1L439.18 201.13L440.17 201.16L441.12 201.2L442.01 201.14L442.85 201.11L443.63 201.08L444.35 201.05L445 201.08L447.42 201.08L449.09 201.16L450.19 201.19L450.88 201.11L451.34 200.99L451.73 200.89L452.23 200.91L453 200.85L454.09 200.73L455.16 200.61L456.22 200.55L457.28 200.6L458.34 200.43L459.41 200.26L460.5 199.93L461.48 199.7L462.47 199.4L463.47 199.28L464.47 199.09L465.49 198.91L466.5 198.44L467.5 197.84L468.5 196.98L469.11 196.36L469.73 195.7L470.36 195.16L470.98 194.59L471.6 193.9L472.23 193.09L472.85 192.4L473.46 191.55L474.07 190.63L474.67 189.65L475.26 188.69L475.84 187.52L476.4 186.38L476.73 185.56L477.05 184.66L477.38 183.61L477.7 183.02L478.01 182.33L478.33 181.42L478.64 180.22L478.95 179.35L479.26 178.44L479.56 177.37L479.86 176.38L480.16 175.43L480.46 174.44L480.75 173.36L481.04 172.43L481.33 171.4L481.61 170.56L481.9 169.56L482.18 168.24L482.45 166.67L482.73 165.63L483 164.81L483.25 164.19L483.48 163.23L483.72 162.21L483.95 161.08L484.18 160.09L484.4 159.24L484.62 158.35L484.84 157.45L485.05 156.79L485.27 156.06L485.48 154.68L485.69 153.53L485.9 152.7L486.11 151.72L486.32 150.47L486.53 149.5L486.74 148.47L486.96 147.1L487.17 145.86L487.39 144.91L487.61 144.24L487.84 143.38L488.07 142.29L488.3 141.42L488.5 140.41L488.71 139.22L488.91 137.93L489.12 136.96L489.33 135.67L489.54 134.75L489.75 134.14L489.97 133.28L490.18 132.23L490.4 131.33L490.61 130.55L490.83 129.68L491.04 128.66L491.26 127.66L491.48 126.86L491.7 125.98L491.92 124.8L492.14 123.5L492.35 122.18L492.57 120.94L492.79 119.99L493.01 119.43L493.23 118.85L493.44 117.75L493.66 116.15L493.87 115.15L494.09 114.7L494.3 113.76L494.53 112.41L494.76 111.3L494.99 109.96L495.23 108.31L495.46 107.23L495.7 106.99L495.94 106.01L496.18 104.82L496.41 103.33L496.65 102.37L496.89 101.14L497.12 100.17L497.36 99.59L497.59 99.02L497.82 97.66L498.05 95.94L498.28 94.78L498.51 93.95L498.73 93.03L498.95 91.59L499.17 91.24L499.38 91.04L499.59 90.22L499.8 88.88L500 88.28L500.2 87.08L500.48 85.15L500.74 83.69L500.99 83.41L501.23 82.54L501.46 81.46L501.69 80.24L501.91 79.81L502.12 79.69L502.34 78.64L502.55 76.67L502.77 75.86L502.99 75.16L503.22 74L503.45 72.38L503.7 71.95L503.95 71.54L504.22 70.78L504.5 69.4L504.81 68.12L505.14 67.21L505.48 66.97L505.84 65.95L506.2 64.28L506.57 62.26L506.94 61.71L507.32 61.2L507.7 59.7L508.08 57.97L508.46 57.34L508.84 57.48L509.21 56.59L509.57 55.73L509.93 54.97L510.27 54.32L510.6 53.2L511.27 52.2L511.91 51.98L512.53 51.29L513.13 49.87L513.72 48.83L514.3 47.87L514.9 46.89L515.5 45.55L516.34 44.57L517.2 43.8L518.06 44.16L518.9 43.71L519.69 43.26L520.4 42.5L521.48 41.89L522.36 41.52L523.5 40.94L524.14 41.03L524.84 41.61L525.59 42.15L526.38 42.06L527.22 43.03L528.09 44.85L529 45.78L529.51 45.88L530.03 46.56L530.58 47.86L531.14 49.04L531.71 49.92L532.29 50.28L532.88 50.98L533.47 52.45L534.07 53.84L534.66 54.89L535.25 55.42L535.83 55.79L536.4 56.22L536.89 57.36L537.4 58.78L537.91 59.57L538.42 59.71L538.94 60.58L539.45 61.86L539.96 63.15L540.47 63.96L540.97 65.09L541.46 66.27L541.94 67.55L542.41 68.69L542.86 69.84L543.29 70.64L543.7 71L544.28 71.58L544.82 72.54L545.33 73.56L545.81 74.58L546.26 75.73L546.7 76.5L547.13 76.5L547.55 77.26L547.97 78.6L548.4 80.04L548.91 80.43L549.39 81.69L549.84 82.92L550.29 84.09L550.74 84.39L551.22 85.2L551.73 86.31L552.3 87.5L552.68 87.94L553.07 89.08L553.48 90.22L553.9 91.31L554.33 91.92L554.78 92.24L555.23 93.09L555.68 94.2L556.14 95.62L556.61 96.47L557.07 97.3L557.54 98.46L558 99.36L558.46 100.18L558.92 100.66L559.38 101.82L559.85 103.25L560.32 104.29L560.79 104.7L561.26 105.65L561.75 106.7L562.24 108.15L562.74 109.03L563.25 110L563.77 110.5L564.3 111.64L564.74 112.94L565.19 113.93L565.65 114.82L566.11 116.07L566.59 117.04L567.06 117.26L567.54 117.35L568.03 117.99L568.52 118.99L569.01 120.03L569.51 120.94L570.01 122.06L570.51 122.66L571 123.31L571.5 124.62L572 126.53L572.53 127.77L573.07 128.29L573.6 129.34L574.15 130.33L574.69 131.05L575.23 131.26L575.78 131.92L576.33 132.71L576.88 133.65L577.43 134.4L577.99 135.41L578.54 136.4L579.09 137.57L579.65 138.24L580.2 138.99L580.78 140.17L581.34 141.46L581.88 142.49L582.41 143.29L582.94 144.39L583.48 145.17L584.02 145.5L584.58 145.93L585.16 146.66L585.76 147.5L586.41 148.28L587.09 149.1L587.82 149.96L588.6 151.01L589.18 152.02L589.79 152.88L590.43 153.35L591.08 153.98L591.76 154.8L592.46 155.65L593.17 156.49L593.9 157.26L594.64 158.14L595.39 159.04L596.14 159.94L596.9 160.5L597.67 161L598.43 161.75L599.19 162.61L599.95 163.38L600.7 163.61L601.45 163.77L602.18 164.47L602.9 165.7L603.74 167.05L604.57 167.85L605.41 168.48L606.25 168.91L607.08 169.22L607.92 169.88L608.75 170.52L609.58 171.34L610.42 171.88L611.25 172.57L612.08 173.2L612.92 173.68L613.75 174.07L614.59 174.38L615.43 174.91L616.26 175.73L617.1 176.4L617.99 177.05L618.88 177.52L619.78 178.14L620.68 178.57L621.57 178.8L622.47 179.14L623.37 179.75L624.26 180.27L625.16 180.56L626.06 180.73L626.95 181.25L627.84 181.58L628.74 182.21L629.63 182.65L630.51 182.93L631.4 183.33L632.37 184.06L633.39 184.73L634.44 185.05L635.52 185.38L636.61 185.75L637.69 186.26L638.77 186.9L639.81 187.48L640.82 187.86L641.78 188.11L642.68 188.36L643.5 188.81L644.24 189.36L644.87 189.63L645.4 189.7" fill="none" stroke="#58b6f2" stroke-width="2.5" stroke-linejoin="round" stroke-linecap="round" clip-path="url(#clipb)"/>
<path d="M407.4 201.21L407.95 201.17L408.59 201.12L409.3 201.18L410.08 201.16L410.92 201.11L411.83 201.1L412.8 201.1L413.81 201.27L414.87 201.34L415.97 201.32L417.11 201.2L418.27 201.17L419.47 201.15L420.68 201.14L421.9 201.19L423.14 201.23L424.38 201.26L425.62 201.26L426.85 201.25L428.07 201.27L429.28 201.32L430.46 201.29L431.62 201.22L432.75 201.22L433.83 201.31L434.88 201.32L435.88 201.27L436.83 201.23L437.72 201.22L438.55 201.2L439.31 201.19L440 201.25L442.04 201.24L443.62 201.21L444.8 201.08L445.7 201.04L446.4 200.99L446.99 200.96L447.55 200.87L448.2 200.87L449 200.83L450.15 200.63L451.24 200.45L452.29 200.31L453.33 200.21L454.36 200.03L455.42 199.75L456.5 199.39L457.48 199.04L458.47 198.66L459.47 198.3L460.47 197.98L461.49 197.56L462.5 196.94L463.5 196.25L464.5 195.34L465.11 194.82L465.73 194.32L466.35 193.78L466.98 193.09L467.6 192.38L468.22 191.81L468.84 190.96L469.45 190.1L470.06 189.24L470.66 188.55L471.25 187.44L471.83 186.15L472.4 184.9L472.72 184.31L473.03 183.67L473.34 182.78L473.65 181.92L473.96 180.84L474.27 180.1L474.57 179.19L474.87 178.23L475.17 176.93L475.47 176.02L475.77 175.2L476.06 174.37L476.35 173.26L476.64 172.17L476.92 170.93L477.2 169.63L477.48 168.43L477.76 167.58L478.03 166.53L478.3 165.4L478.57 164.21L478.84 163.4L479.1 162.56L479.36 161.49L479.61 160.21L479.86 159.15L480.11 158.54L480.35 157.93L480.59 156.97L480.83 155.8L481.06 154.75L481.29 153.76L481.52 152.91L481.74 151.85L481.97 150.86L482.19 149.81L482.41 149.01L482.63 148.08L482.85 147.44L483.07 146.7L483.29 145.85L483.51 144.23L483.73 142.81L483.95 141.59L484.18 140.93L484.4 139.69L484.61 138.83L484.82 138.1L485.03 137.27L485.24 135.87L485.44 134.64L485.65 133.88L485.85 133.19L486.05 132.68L486.25 131.75L486.45 130.67L486.65 129.45L486.85 128.73L487.05 127.82L487.25 126.95L487.46 125.52L487.66 124.22L487.87 122.88L488.08 122.22L488.29 121.42L488.51 120.39L488.72 118.93L488.95 117.79L489.17 116.65L489.4 115.37L489.58 114.45L489.77 114.15L489.96 113.43L490.15 112.14L490.34 110.51L490.54 109.28L490.74 108.44L490.95 107.88L491.15 107.09L491.36 105.96L491.56 104.8L491.77 103.75L491.98 102.35L492.19 101.08L492.4 100.08L492.61 99.18L492.82 98.07L493.03 96.86L493.23 95.88L493.44 95.12L493.64 94.25L493.84 93.19L494.04 92.21L494.24 91.49L494.43 90.88L494.62 89.46L494.8 88.34L494.98 87.22L495.16 86.7L495.33 85.91L495.5 85.45L495.78 84.33L496.04 82.93L496.29 81.77L496.53 80.46L496.76 79.17L496.99 77.95L497.2 76.94L497.42 76.32L497.63 75.58L497.83 75.13L498.04 73.85L498.25 72.51L498.46 71.18L498.67 70.49L498.89 69.6L499.12 68.67L499.36 67.69L499.6 67.21L499.9 66.01L500.21 64.99L500.53 63.55L500.85 62.29L501.17 60.83L501.5 59.68L501.83 58.85L502.17 58.31L502.5 57.69L502.84 56.77L503.17 56.01L503.51 55.22L503.84 54.17L504.17 52.93L504.5 51.71L505.05 50.52L505.61 49.25L506.18 48.53L506.74 47.59L507.3 47.32L507.86 46.46L508.39 45.47L508.91 44.6L509.4 44L510.41 43.14L511.32 42.61L512.2 42.47L513.1 42.23L514.29 41.6L515.48 41.28L516.8 41.17L517.53 41.54L518.3 41.93L519.1 43.19L519.93 44.45L520.8 45.27L521.7 46.03L522.13 46.54L522.57 47.46L523.03 48.27L523.49 49.16L523.96 49.83L524.44 50.49L524.92 51.64L525.4 53.05L525.88 53.87L526.37 54.96L526.85 56.25L527.33 57.29L527.8 57.89L528.21 58.63L528.62 59.71L529.03 61.12L529.44 62.3L529.86 63.06L530.27 63.42L530.69 64.36L531.1 66.09L531.51 67.36L531.92 68.18L532.32 68.78L532.72 69.76L533.12 71.07L533.51 71.88L533.9 72.67L534.41 73.39L534.91 74.57L535.39 75.14L535.86 76.23L536.33 77.14L536.8 78.11L537.27 78.44L537.75 79.14L538.25 80.19L538.76 81.64L539.3 83.02L539.71 83.95L540.12 84.75L540.55 85.43L540.98 86.18L541.41 87.09L541.86 87.95L542.31 88.79L542.76 89.91L543.21 90.96L543.67 91.65L544.14 92.49L544.6 93.87L545.07 94.98L545.53 95.73L546 96.41L546.37 97.53L546.75 98.17L547.13 98.99L547.51 100.05L547.89 101.24L548.28 102.28L548.67 103.28L549.06 104.26L549.45 104.96L549.85 105.63L550.24 106.51L550.63 107.84L551.02 109.06L551.41 110.28L551.79 111.04L552.17 112.18L552.55 112.82L552.93 113.26L553.3 113.71L553.8 114.91L554.29 116.19L554.77 117.01L555.26 118.02L555.73 119.16L556.21 119.98L556.68 120.68L557.15 121.89L557.62 123.06L558.1 124.14L558.57 125.2L559.04 126.19L559.52 126.67L560 127.07L560.52 128.01L561.03 129.34L561.55 130.56L562.06 131.53L562.58 132.26L563.09 133.12L563.61 133.91L564.13 134.8L564.65 135.48L565.18 136.18L565.71 137.07L566.25 138.08L566.8 139.08L567.3 140.13L567.78 141.21L568.24 142.57L568.69 143.59L569.15 144.26L569.61 144.75L570.08 145.59L570.57 146.44L571.09 147.32L571.64 148.16L572.23 148.7L572.87 149.53L573.55 150.72L574.3 152.29L574.81 152.88L575.34 153.43L575.9 154.16L576.49 154.99L577.09 155.84L577.71 156.69L578.35 157.7L579 158.43L579.66 159.09L580.34 160.03L581.02 160.81L581.72 161.64L582.41 162.49L583.11 163.67L583.82 164.43L584.52 164.95L585.21 165.53L585.91 166.33L586.6 167.15L587.27 167.81L587.94 168.64L588.6 169.21L589.44 169.9L590.27 170.27L591.09 170.87L591.91 171.78L592.72 172.69L593.53 173.26L594.35 173.59L595.17 174.27L595.99 174.98L596.81 175.51L597.65 176.01L598.49 176.61L599.34 177.29L600.21 177.7L601.09 178.31L601.99 178.87L602.9 179.39L603.77 179.67L604.63 180.08L605.49 180.64L606.35 181.16L607.22 181.69L608.09 182.15L608.96 182.71L609.85 183.13L610.76 183.49L611.68 183.62L612.62 183.94L613.58 184.49L614.57 185.08L615.59 185.49L616.64 185.81L617.72 186.15L618.84 186.44L620 186.98L620.85 187.37L621.75 187.66L622.71 187.75L623.7 188.02L624.74 188.49L625.82 188.97L626.91 189.22L628.04 189.51L629.17 189.94L630.32 190.36L631.47 190.62L632.62 190.9L633.77 191.18L634.9 191.46L636.01 191.62L637.1 191.93L638.16 192.22L639.19 192.63L640.17 192.69L641.1 192.88L641.98 193.1L642.81 193.42L643.57 193.57L644.26 193.75L644.87 193.97L645.4 194.09" fill="none" stroke="#5b3ce8" stroke-width="2.5" stroke-linejoin="round" stroke-linecap="round" clip-path="url(#clipb)"/>
<path d="M413.3 39H435.4" stroke="#f0164c" stroke-width="2.4"/>
<text x="438.4" y="42.4" font-size="13.4" text-anchor="start" >A</text>
<path d="M413.3 55.3H435.4" stroke="#f98232" stroke-width="2.4"/>
<text x="438.4" y="58.7" font-size="13.4" text-anchor="start" >B</text>
<path d="M413.3 71.6H435.4" stroke="#68e41c" stroke-width="2.4"/>
<text x="438.4" y="75" font-size="13.4" text-anchor="start" >C</text>
<path d="M413.3 87.9H435.4" stroke="#58b6f2" stroke-width="2.4"/>
<text x="438.4" y="91.3" font-size="13.4" text-anchor="start" >D</text>
<path d="M413.3 104.2H435.4" stroke="#5b3ce8" stroke-width="2.4"/>
<text x="438.4" y="107.6" font-size="13.4" text-anchor="start" >E</text>
<g fill="none" stroke="#ec4a86" stroke-width="1.25" clip-path="url(#clipc)"><rect x="112.45" y="434.65" width="6.3" height="6.3"/><rect x="115.65" y="290.92" width="6.3" height="6.3"/><rect x="117.55" y="300.33" width="6.3" height="6.3"/><rect x="119.45" y="310.09" width="6.3" height="6.3"/><rect x="121.35" y="316.2" width="6.3" height="6.3"/><rect x="123.25" y="325.19" width="6.3" height="6.3"/><rect x="125.15" y="331.16" width="6.3" height="6.3"/><rect x="127.05" y="339.93" width="6.3" height="6.3"/><rect x="128.95" y="344.92" width="6.3" height="6.3"/><rect x="130.85" y="351.09" width="6.3" height="6.3"/><rect x="132.75" y="359.46" width="6.3" height="6.3"/><rect x="134.65" y="367.73" width="6.3" height="6.3"/><rect x="136.55" y="375.16" width="6.3" height="6.3"/><rect x="138.45" y="374.58" width="6.3" height="6.3"/><rect x="140.35" y="382.44" width="6.3" height="6.3"/><rect x="142.25" y="392.12" width="6.3" height="6.3"/><rect x="144.15" y="390.28" width="6.3" height="6.3"/><rect x="146.05" y="389.7" width="6.3" height="6.3"/><rect x="239.05" y="431.85" width="6.3" height="6.3"/><rect x="240.05" y="444.85" width="6.3" height="6.3"/><rect x="254.75" y="444.85" width="6.3" height="6.3"/><rect x="273.05" y="444.85" width="6.3" height="6.3"/><rect x="216.25" y="429.05" width="6.3" height="6.3"/><rect x="202.45" y="425.05" width="6.3" height="6.3"/><rect x="219.15" y="439.85" width="6.3" height="6.3"/><rect x="196.35" y="423.85" width="6.3" height="6.3"/><rect x="199.85" y="428.35" width="6.3" height="6.3"/><rect x="206.85" y="428.85" width="6.3" height="6.3"/><rect x="182.85" y="409.85" width="6.3" height="6.3"/><rect x="188.85" y="416.85" width="6.3" height="6.3"/><rect x="210.85" y="436.85" width="6.3" height="6.3"/><rect x="226.85" y="436.85" width="6.3" height="6.3"/></g>
<g fill="none" stroke="#eea06c" stroke-width="1.25" clip-path="url(#clipc)"><circle cx="115.8" cy="316.8" r="3.7"/><circle cx="118.15" cy="290.42" r="3.7"/><circle cx="119.4" cy="294.72" r="3.7"/><circle cx="120.65" cy="298.96" r="3.7"/><circle cx="121.9" cy="305.52" r="3.7"/><circle cx="123.15" cy="309.74" r="3.7"/><circle cx="124.4" cy="314.67" r="3.7"/><circle cx="125.65" cy="320.34" r="3.7"/><circle cx="126.9" cy="323.21" r="3.7"/><circle cx="128.15" cy="329.6" r="3.7"/><circle cx="129.4" cy="335.77" r="3.7"/><circle cx="130.65" cy="339.84" r="3.7"/><circle cx="131.9" cy="345.26" r="3.7"/><circle cx="133.15" cy="354.37" r="3.7"/><circle cx="134.4" cy="359.95" r="3.7"/><circle cx="135.65" cy="363.14" r="3.7"/><circle cx="136.9" cy="370.67" r="3.7"/><circle cx="138.15" cy="368.07" r="3.7"/><circle cx="139.4" cy="376.16" r="3.7"/><circle cx="140.65" cy="380.58" r="3.7"/><circle cx="141.9" cy="379.52" r="3.7"/><circle cx="143.15" cy="381.7" r="3.7"/><circle cx="144.4" cy="388.37" r="3.7"/><circle cx="145.65" cy="387.6" r="3.7"/><circle cx="146.9" cy="392.66" r="3.7"/><circle cx="148.15" cy="405.1" r="3.7"/><circle cx="149.4" cy="405.1" r="3.7"/><circle cx="150.65" cy="403.49" r="3.7"/><circle cx="151.9" cy="413.12" r="3.7"/><circle cx="153.15" cy="415.69" r="3.7"/><circle cx="154.4" cy="425.95" r="3.7"/><circle cx="155.65" cy="413.12" r="3.7"/><circle cx="156.9" cy="461.06" r="3.7"/><circle cx="158.15" cy="437.09" r="3.7"/><circle cx="159.4" cy="418.61" r="3.7"/><circle cx="160.65" cy="461.06" r="3.7"/><circle cx="161.9" cy="445.94" r="3.7"/><circle cx="163.15" cy="461.06" r="3.7"/><circle cx="164.4" cy="437.09" r="3.7"/><circle cx="166.9" cy="430.81" r="3.7"/><circle cx="169.4" cy="445.94" r="3.7"/><circle cx="170.65" cy="461.06" r="3.7"/><circle cx="171.9" cy="445.94" r="3.7"/><circle cx="173.15" cy="461.06" r="3.7"/><circle cx="174.4" cy="445.94" r="3.7"/><circle cx="175.65" cy="445.94" r="3.7"/><circle cx="176.9" cy="445.94" r="3.7"/></g>
<g fill="none" stroke="#7ee840" stroke-width="1.25" clip-path="url(#clipc)"><path d="M115.8 301.5L120.2 309H111.4Z"/><path d="M118.25 285.62L122.65 293.12H113.85Z"/><path d="M119.6 291.74L124 299.24H115.2Z"/><path d="M120.95 295.29L125.35 302.79H116.55Z"/><path d="M122.3 300.63L126.7 308.13H117.9Z"/><path d="M123.65 306.22L128.05 313.72H119.25Z"/><path d="M125 308.86L129.4 316.36H120.6Z"/><path d="M126.35 314.32L130.75 321.82H121.95Z"/><path d="M127.7 317.98L132.1 325.48H123.3Z"/><path d="M129.05 324.39L133.45 331.89H124.65Z"/><path d="M130.4 324.58L134.8 332.08H126Z"/><path d="M131.75 333.42L136.15 340.92H127.35Z"/><path d="M133.1 335.22L137.5 342.72H128.7Z"/><path d="M134.45 339.94L138.85 347.44H130.05Z"/><path d="M135.8 342.54L140.2 350.04H131.4Z"/><path d="M137.15 346.46L141.55 353.96H132.75Z"/><path d="M138.5 349.09L142.9 356.59H134.1Z"/><path d="M139.85 356.85L144.25 364.35H135.45Z"/><path d="M141.2 354.82L145.6 362.32H136.8Z"/><path d="M142.55 359.38L146.95 366.88H138.15Z"/><path d="M143.9 363.66L148.3 371.16H139.5Z"/><path d="M145.25 365.17L149.65 372.67H140.85Z"/><path d="M146.6 372.51L151 380.01H142.2Z"/><path d="M147.95 371.97L152.35 379.47H143.55Z"/><path d="M149.3 374.81L153.7 382.31H144.9Z"/><path d="M150.65 368.53L155.05 376.03H146.25Z"/><path d="M152 373.63L156.4 381.13H147.6Z"/><path d="M153.35 381.08L157.75 388.58H148.95Z"/><path d="M154.7 381.08L159.1 388.58H150.3Z"/><path d="M156.05 391.17L160.45 398.67H151.65Z"/><path d="M157.4 392.5L161.8 400H153Z"/><path d="M158.75 397.03L163.15 404.53H154.35Z"/><path d="M160.1 398.77L164.5 406.27H155.7Z"/><path d="M161.45 392.5L165.85 400H157.05Z"/><path d="M162.8 398.77L167.2 406.27H158.4Z"/><path d="M164.15 397.03L168.55 404.53H159.75Z"/><path d="M165.5 392.5L169.9 400H161.1Z"/><path d="M166.85 397.03L171.25 404.53H162.45Z"/><path d="M168.2 407.62L172.6 415.12H163.8Z"/><path d="M169.55 407.62L173.95 415.12H165.15Z"/><path d="M170.9 417.87L175.3 425.37H166.5Z"/><path d="M172.25 422.74L176.65 430.24H167.85Z"/><path d="M173.6 422.74L178 430.24H169.2Z"/><path d="M174.95 437.86L179.35 445.36H170.55Z"/><path d="M176.3 429.01L180.7 436.51H171.9Z"/><path d="M177.65 429.01L182.05 436.51H173.25Z"/><path d="M179 417.87L183.4 425.37H174.6Z"/><path d="M180.35 422.74L184.75 430.24H175.95Z"/><path d="M181.7 422.74L186.1 430.24H177.3Z"/><path d="M183.05 422.74L187.45 430.24H178.65Z"/><path d="M185.75 437.86L190.15 445.36H181.35Z"/><path d="M187.1 417.87L191.5 425.37H182.7Z"/><path d="M188.45 422.74L192.85 430.24H184.05Z"/><path d="M189.8 429.01L194.2 436.51H185.4Z"/><path d="M191.15 437.86L195.55 445.36H186.75Z"/><path d="M192.5 429.01L196.9 436.51H188.1Z"/><path d="M193.85 452.98L198.25 460.48H189.45Z"/><path d="M195.2 437.86L199.6 445.36H190.8Z"/><path d="M196.55 452.98L200.95 460.48H192.15Z"/><path d="M197.9 452.98L202.3 460.48H193.5Z"/></g>
<g fill="none" stroke="#74c8f0" stroke-width="1.25" clip-path="url(#clipc)"><path d="M116 301.5L120.4 294H111.6Z"/><path d="M118.5 297.29L122.9 289.79H114.1Z"/><path d="M120.1 305.27L124.5 297.77H115.7Z"/><path d="M121.7 313.25L126.1 305.75H117.3Z"/><path d="M123.3 322.9L127.7 315.4H118.9Z"/><path d="M124.9 331.2L129.3 323.7H120.5Z"/><path d="M126.5 340.64L130.9 333.14H122.1Z"/><path d="M128.1 350.74L132.5 343.24H123.7Z"/><path d="M129.7 360.5L134.1 353H125.3Z"/><path d="M131.3 366.71L135.7 359.21H126.9Z"/><path d="M132.9 372.98L137.3 365.48H128.5Z"/><path d="M134.5 378.63L138.9 371.13H130.1Z"/><path d="M136.1 391.85L140.5 384.35H131.7Z"/><path d="M137.7 385.57L142.1 378.07H133.3Z"/><path d="M139.3 390.96L143.7 383.46H134.9Z"/><path d="M140.9 399.37L145.3 391.87H136.5Z"/><path d="M142.5 418.73L146.9 411.23H138.1Z"/><path d="M144.1 410.95L148.5 403.45H139.7Z"/><path d="M145.7 422.09L150.1 414.59H141.3Z"/><path d="M147.3 422.09L151.7 414.59H142.9Z"/><path d="M148.9 437.21L153.3 429.71H144.5Z"/><path d="M150.5 461.18L154.9 453.68H146.1Z"/><path d="M152.1 437.21L156.5 429.71H147.7Z"/><path d="M153.7 446.06L158.1 438.56H149.3Z"/></g>
<g fill="none" stroke="#ac6cf0" stroke-width="1.25" clip-path="url(#clipc)"><path d="M115.3 329.9L120.2 334.7L115.3 339.5L110.4 334.7Z"/><path d="M116.9 280.44L121.8 285.24L116.9 290.04L112 285.24Z"/><path d="M118.6 285.58L123.5 290.38L118.6 295.18L113.7 290.38Z"/><path d="M120.3 289.78L125.2 294.58L120.3 299.38L115.4 294.58Z"/><path d="M122 293.78L126.9 298.58L122 303.38L117.1 298.58Z"/><path d="M123.7 298.37L128.6 303.17L123.7 307.97L118.8 303.17Z"/><path d="M125.4 301.64L130.3 306.44L125.4 311.24L120.5 306.44Z"/><path d="M127.1 306.15L132 310.95L127.1 315.75L122.2 310.95Z"/><path d="M128.8 310.5L133.7 315.3L128.8 320.1L123.9 315.3Z"/><path d="M130.5 314.01L135.4 318.81L130.5 323.61L125.6 318.81Z"/><path d="M132.2 318.41L137.1 323.21L132.2 328.01L127.3 323.21Z"/><path d="M133.9 321.83L138.8 326.63L133.9 331.43L129 326.63Z"/><path d="M135.6 324.35L140.5 329.15L135.6 333.95L130.7 329.15Z"/><path d="M137.3 329.39L142.2 334.19L137.3 338.99L132.4 334.19Z"/><path d="M139 333.16L143.9 337.96L139 342.76L134.1 337.96Z"/><path d="M140.7 336.21L145.6 341.01L140.7 345.81L135.8 341.01Z"/><path d="M142.4 341.23L147.3 346.03L142.4 350.83L137.5 346.03Z"/><path d="M144.1 341.69L149 346.49L144.1 351.29L139.2 346.49Z"/><path d="M145.8 345.05L150.7 349.85L145.8 354.65L140.9 349.85Z"/><path d="M147.5 352.32L152.4 357.12L147.5 361.92L142.6 357.12Z"/><path d="M149.2 349.25L154.1 354.05L149.2 358.85L144.3 354.05Z"/><path d="M150.9 348.39L155.8 353.19L150.9 357.99L146 353.19Z"/><path d="M152.6 353.36L157.5 358.16L152.6 362.96L147.7 358.16Z"/><path d="M154.3 357.77L159.2 362.57L154.3 367.37L149.4 362.57Z"/><path d="M156 359.46L160.9 364.26L156 369.06L151.1 364.26Z"/><path d="M157.7 359.11L162.6 363.91L157.7 368.71L152.8 363.91Z"/><path d="M159.4 366.94L164.3 371.74L159.4 376.54L154.5 371.74Z"/><path d="M161.1 368.48L166 373.28L161.1 378.08L156.2 373.28Z"/><path d="M162.8 373.89L167.7 378.69L162.8 383.49L157.9 378.69Z"/><path d="M164.5 382.06L169.4 386.86L164.5 391.66L159.6 386.86Z"/><path d="M166.2 386.44L171.1 391.24L166.2 396.04L161.3 391.24Z"/><path d="M167.9 383.07L172.8 387.87L167.9 392.67L163 387.87Z"/><path d="M169.6 385.26L174.5 390.06L169.6 394.86L164.7 390.06Z"/><path d="M171.3 387.68L176.2 392.48L171.3 397.28L166.4 392.48Z"/><path d="M173 386.44L177.9 391.24L173 396.04L168.1 391.24Z"/><path d="M174.7 386.44L179.6 391.24L174.7 396.04L169.8 391.24Z"/><path d="M176.4 389.01L181.3 393.81L176.4 398.61L171.5 393.81Z"/><path d="M178.1 387.68L183 392.48L178.1 397.28L173.2 392.48Z"/><path d="M179.8 390.41L184.7 395.21L179.8 400.01L174.9 395.21Z"/><path d="M181.5 390.41L186.4 395.21L181.5 400.01L176.6 395.21Z"/><path d="M183.2 397.18L188.1 401.98L183.2 406.78L178.3 401.98Z"/><path d="M184.9 404.13L189.8 408.93L184.9 413.73L180 408.93Z"/><path d="M186.6 399.26L191.5 404.06L186.6 408.86L181.7 404.06Z"/><path d="M188.3 407.04L193.2 411.84L188.3 416.64L183.4 411.84Z"/><path d="M190 407.04L194.9 411.84L190 416.64L185.1 411.84Z"/><path d="M191.7 410.4L196.6 415.2L191.7 420L186.8 415.2Z"/><path d="M193.4 404.13L198.3 408.93L193.4 413.73L188.5 408.93Z"/><path d="M195.1 414.38L200 419.18L195.1 423.98L190.2 419.18Z"/><path d="M196.8 414.38L201.7 419.18L196.8 423.98L191.9 419.18Z"/><path d="M198.5 425.52L203.4 430.32L198.5 435.12L193.6 430.32Z"/><path d="M200.2 414.38L205.1 419.18L200.2 423.98L195.3 419.18Z"/><path d="M201.9 419.25L206.8 424.05L201.9 428.85L197 424.05Z"/><path d="M203.6 407.04L208.5 411.84L203.6 416.64L198.7 411.84Z"/><path d="M205.3 425.52L210.2 430.32L205.3 435.12L200.4 430.32Z"/><path d="M207 407.04L211.9 411.84L207 416.64L202.1 411.84Z"/><path d="M208.7 414.38L213.6 419.18L208.7 423.98L203.8 419.18Z"/><path d="M210.4 425.52L215.3 430.32L210.4 435.12L205.5 430.32Z"/><path d="M212.1 425.52L217 430.32L212.1 435.12L207.2 430.32Z"/><path d="M213.8 419.25L218.7 424.05L213.8 428.85L208.9 424.05Z"/><path d="M215.5 425.52L220.4 430.32L215.5 435.12L210.6 430.32Z"/><path d="M218.9 434.37L223.8 439.17L218.9 443.97L214 439.17Z"/><path d="M220.6 425.52L225.5 430.32L220.6 435.12L215.7 430.32Z"/><path d="M222.3 449.49L227.2 454.29L222.3 459.09L217.4 454.29Z"/><path d="M224 434.37L228.9 439.17L224 443.97L219.1 439.17Z"/><path d="M225.7 419.25L230.6 424.05L225.7 428.85L220.8 424.05Z"/><path d="M227.4 425.52L232.3 430.32L227.4 435.12L222.5 430.32Z"/><path d="M229.1 434.37L234 439.17L229.1 443.97L224.2 439.17Z"/><path d="M230.8 434.37L235.7 439.17L230.8 443.97L225.9 439.17Z"/><path d="M232.5 449.49L237.4 454.29L232.5 459.09L227.6 454.29Z"/><path d="M234.2 434.37L239.1 439.17L234.2 443.97L229.3 439.17Z"/><path d="M235.9 449.49L240.8 454.29L235.9 459.09L231 454.29Z"/><path d="M239.3 434.37L244.2 439.17L239.3 443.97L234.4 439.17Z"/><path d="M241 434.37L245.9 439.17L241 443.97L236.1 439.17Z"/><path d="M242.7 449.49L247.6 454.29L242.7 459.09L237.8 454.29Z"/></g>
<path d="M116.9 285.5L117.4 287.78L117.9 290.06L118.4 292.35L118.9 294.63L119.4 296.92L119.9 299.22L120.4 301.54L120.9 303.89L121.4 306.3L121.9 308.76L122.4 311.2L122.9 313.62L123.4 315.97L123.9 318.23L124.4 320.38L124.9 322.42L125.4 324.36L125.9 326.23L126.4 328.05L126.9 329.83L127.4 331.6L127.9 333.36L128.4 335.12L128.9 336.91L129.4 338.73L129.9 340.57L130.4 342.41L130.9 344.25L131.4 346.09L131.9 347.94L132.4 349.78L132.9 351.63L133.4 353.48L133.9 355.35L134.4 357.22L134.9 359.09L135.4 360.96L135.9 362.81L136.4 364.64L136.9 366.47L137.4 368.36L137.9 370.24L138.4 372.04L138.9 373.7L139.4 375.21L139.9 376.6L140.4 377.92L140.9 379.17L141.4 380.39L141.9 381.57L142.4 382.71L142.9 383.83L143.4 384.93L143.9 386L144.4 387.06L144.9 388.1L145.4 389.12L145.9 390.09L146.4 391L146.9 391.85L147.4 392.63L147.9 393.36L148.4 394.02L148.9 394.61L149.4 395.17L149.9 395.68L150.4 396.18L150.9 396.67L151.4 397.15L151.9 397.63L152.4 398.11L152.9 398.62L153.4 399.15L153.9 399.76L154.4 400.45L154.9 401.29L155.4 402.2L155.9 403L156.4 403.64L156.9 404.22L157.4 404.76L157.9 405.28L158.4 405.78L158.9 406.28L159.4 406.77L159.9 407.25L160.4 407.72L160.9 408.19L161.4 408.65L161.9 409.1L162.4 409.55L162.9 409.99L163.4 410.42L163.9 410.82L164.4 411.2L164.9 411.55L165.4 411.88L165.9 412.19L166.4 412.49L166.9 412.79L167.4 413.1L167.9 413.43L168.4 413.8L168.9 414.2L169.4 414.64L169.9 415.11L170.4 415.59L170.9 416.06L171.4 416.53L171.9 416.98L172.4 417.41L172.9 417.84L173.4 418.27L173.9 418.69L174.4 419.11L174.9 419.54L175.4 419.96L175.9 420.38L176.4 420.8L176.9 421.22L177.4 421.63L177.9 422.05L178.4 422.46L178.9 422.88L179.4 423.29L179.9 423.7L180.4 424.11L180.9 424.52L181.4 424.92L181.9 425.32L182.4 425.72L182.9 426.12L183.4 426.51L183.9 426.9L184.4 427.29L184.9 427.68L185.4 428.07L185.9 428.45L186.4 428.83L186.9 429.21L187.4 429.59L187.9 429.96L188.4 430.33L188.9 430.7L189.4 431.07L189.9 431.43L190.4 431.79L190.9 432.14L191.4 432.48L191.9 432.82L192.4 433.15L192.9 433.49L193.4 433.82L193.9 434.16L194.4 434.51L194.9 434.86L195.4 435.21L195.9 435.58L196.4 435.95L196.9 436.34L197.4 436.74L197.9 437.16L198.4 437.59L198.9 438.02L199.4 438.47L199.9 438.92L200.4 439.38L200.9 439.85L201.4 440.32L201.9 440.79L202.4 441.27L202.9 441.75L203.4 442.23L203.9 442.71L204.4 443.19L204.9 443.68L205.4 444.18L205.9 444.68L206.4 445.2L206.9 445.72L207.4 446.25L207.9 446.77L208.4 447.29L208.9 447.8L209.4 448.32L209.9 448.83L210.4 449.34L210.9 449.85L211.4 450.36L211.9 450.87L212.4 451.39" fill="none" stroke="#f20f1e" stroke-width="2.6" stroke-linejoin="round" clip-path="url(#clipc)"/>
<path d="M116.9 285.5L117.4 287.49L117.9 289.46L118.4 291.44L118.9 293.41L119.4 295.37L119.9 297.34L120.4 299.32L120.9 301.29L121.4 303.26L121.9 305.24L122.4 307.22L122.9 309.21L123.4 311.2L123.9 313.2L124.4 315.2L124.9 317.21L125.4 319.22L125.9 321.25L126.4 323.29L126.9 325.34L127.4 327.41L127.9 329.5L128.4 331.63L128.9 333.8L129.4 336.02L129.9 338.27L130.4 340.55L130.9 342.86L131.4 345.19L131.9 347.54L132.4 349.88L132.9 352.22L133.4 354.55L133.9 356.85L134.4 359.12L134.9 361.34L135.4 363.5L135.9 365.59L136.4 367.61L136.9 369.53L137.4 371.35L137.9 373.08L138.4 374.74L138.9 376.32L139.4 377.85L139.9 379.35L140.4 380.82L140.9 382.28L141.4 383.76L141.9 385.28L142.4 386.84L142.9 388.47L143.4 390.19L143.9 392L144.4 393.9L144.9 395.87L145.4 397.89L145.9 399.96L146.4 402.06L146.9 404.19L147.4 406.36L147.9 408.54L148.4 410.74L148.9 412.94L149.4 415.15L149.9 417.35L150.4 419.54L150.9 421.71L151.4 423.85L151.9 425.99L152.4 428.13L152.9 430.27L153.4 432.41L153.9 434.56L154.4 436.71L154.9 438.85L155.4 441L155.9 443.15L156.4 445.29L156.9 447.43L157.4 449.54L157.9 451.6" fill="none" stroke="#f8381c" stroke-width="2.6" stroke-linejoin="round" clip-path="url(#clipc)"/>
<path d="M116.9 285.5L117.4 287.24L117.9 288.98L118.4 290.71L118.9 292.45L119.4 294.19L119.9 295.93L120.4 297.67L120.9 299.41L121.4 301.15L121.9 302.9L122.4 304.65L122.9 306.41L123.4 308.17L123.9 309.92L124.4 311.68L124.9 313.43L125.4 315.18L125.9 316.91L126.4 318.63L126.9 320.34L127.4 322.04L127.9 323.74L128.4 325.44L128.9 327.12L129.4 328.79L129.9 330.43L130.4 332.05L130.9 333.64L131.4 335.19L131.9 336.72L132.4 338.23L132.9 339.72L133.4 341.19L133.9 342.63L134.4 344.06L134.9 345.45L135.4 346.83L135.9 348.17L136.4 349.48L136.9 350.76L137.4 352.01L137.9 353.22L138.4 354.4L138.9 355.56L139.4 356.7L139.9 357.82L140.4 358.94L140.9 360.05L141.4 361.16L141.9 362.28L142.4 363.39L142.9 364.49L143.4 365.59L143.9 366.68L144.4 367.76L144.9 368.83L145.4 369.91L145.9 370.98L146.4 372.05L146.9 373.13L147.4 374.2L147.9 375.28L148.4 376.37L148.9 377.44L149.4 378.52L149.9 379.6L150.4 380.67L150.9 381.75L151.4 382.83L151.9 383.91L152.4 384.99L152.9 386.08L153.4 387.18L153.9 388.28L154.4 389.39L154.9 390.51L155.4 391.64L155.9 392.77L156.4 393.91L156.9 395.05L157.4 396.2L157.9 397.34L158.4 398.49L158.9 399.63L159.4 400.77L159.9 401.91L160.4 403.04L160.9 404.17L161.4 405.3L161.9 406.43L162.4 407.56L162.9 408.69L163.4 409.83L163.9 410.97L164.4 412.11L164.9 413.27L165.4 414.43L165.9 415.59L166.4 416.75L166.9 417.92L167.4 419.09L167.9 420.27L168.4 421.45L168.9 422.64L169.4 423.83L169.9 425.04L170.4 426.26L170.9 427.48L171.4 428.71L171.9 429.94L172.4 431.18L172.9 432.43L173.4 433.71L173.9 435.01L174.4 436.34L174.9 437.72L175.4 439.17L175.9 440.73L176.4 442.38L176.9 444.09L177.4 445.82L177.9 447.48L178.4 449L178.9 450.41L179.4 451.73" fill="none" stroke="#62e41a" stroke-width="2.6" stroke-linejoin="round" clip-path="url(#clipc)"/>
<path d="M116.9 285.5L117.4 288.06L117.9 290.62L118.4 293.18L118.9 295.74L119.4 298.31L119.9 300.89L120.4 303.48L120.9 306.09L121.4 308.72L121.9 311.36L122.4 314.01L122.9 316.65L123.4 319.29L123.9 321.91L124.4 324.52L124.9 327.13L125.4 329.74L125.9 332.35L126.4 334.94L126.9 337.5L127.4 340.04L127.9 342.53L128.4 344.97L128.9 347.4L129.4 349.8L129.9 352.18L130.4 354.53L130.9 356.85L131.4 359.13L131.9 361.37L132.4 363.57L132.9 365.72L133.4 367.84L133.9 369.93L134.4 371.99L134.9 374.02L135.4 376.01L135.9 377.99L136.4 379.93L136.9 381.86L137.4 383.76L137.9 385.62L138.4 387.44L138.9 389.24L139.4 391.02L139.9 392.79L140.4 394.55L140.9 396.31L141.4 398.07L141.9 399.85L142.4 401.64L142.9 403.44L143.4 405.21L143.9 406.98L144.4 408.74L144.9 410.51L145.4 412.28L145.9 414.08L146.4 415.91L146.9 417.76L147.4 419.66L147.9 421.61L148.4 423.6L148.9 425.65L149.4 427.74L149.9 429.85L150.4 431.99L150.9 434.14L151.4 436.31L151.9 438.48L152.4 440.65L152.9 442.81L153.4 444.97L153.9 447.08L154.4 449.13L154.9 451.06" fill="none" stroke="#3088e6" stroke-width="2.6" stroke-linejoin="round" clip-path="url(#clipc)"/>
<path d="M116.9 285.5L117.4 286.91L117.9 288.31L118.4 289.72L118.9 291.12L119.4 292.53L119.9 293.93L120.4 295.33L120.9 296.72L121.4 298.11L121.9 299.49L122.4 300.87L122.9 302.24L123.4 303.61L123.9 304.98L124.4 306.35L124.9 307.73L125.4 309.1L125.9 310.48L126.4 311.87L126.9 313.25L127.4 314.64L127.9 316.01L128.4 317.38L128.9 318.73L129.4 320.08L129.9 321.42L130.4 322.76L130.9 324.09L131.4 325.41L131.9 326.71L132.4 328L132.9 329.25L133.4 330.48L133.9 331.7L134.4 332.9L134.9 334.06L135.4 335.19L135.9 336.27L136.4 337.3L136.9 338.29L137.4 339.24L137.9 340.16L138.4 341.04L138.9 341.9L139.4 342.73L139.9 343.54L140.4 344.34L140.9 345.12L141.4 345.87L141.9 346.6L142.4 347.32L142.9 348.02L143.4 348.73L143.9 349.44L144.4 350.15L144.9 350.88L145.4 351.61L145.9 352.35L146.4 353.1L146.9 353.86L147.4 354.61L147.9 355.37L148.4 356.14L148.9 356.9L149.4 357.66L149.9 358.43L150.4 359.19L150.9 359.96L151.4 360.73L151.9 361.49L152.4 362.26L152.9 363.03L153.4 363.8L153.9 364.56L154.4 365.33L154.9 366.09L155.4 366.86L155.9 367.62L156.4 368.38L156.9 369.15L157.4 369.91L157.9 370.67L158.4 371.43L158.9 372.19L159.4 372.95L159.9 373.72L160.4 374.48L160.9 375.25L161.4 376.02L161.9 376.79L162.4 377.57L162.9 378.34L163.4 379.13L163.9 379.91L164.4 380.69L164.9 381.48L165.4 382.27L165.9 383.06L166.4 383.85L166.9 384.65L167.4 385.45L167.9 386.25L168.4 387.06L168.9 387.87L169.4 388.68L169.9 389.51L170.4 390.33L170.9 391.17L171.4 392.01L171.9 392.87L172.4 393.73L172.9 394.6L173.4 395.47L173.9 396.35L174.4 397.23L174.9 398.1L175.4 398.97L175.9 399.83L176.4 400.68L176.9 401.53L177.4 402.38L177.9 403.23L178.4 404.07L178.9 404.91L179.4 405.76L179.9 406.61L180.4 407.46L180.9 408.31L181.4 409.16L181.9 410.03L182.4 410.9L182.9 411.77L183.4 412.65L183.9 413.54L184.4 414.43L184.9 415.32L185.4 416.21L185.9 417.1L186.4 417.98L186.9 418.87L187.4 419.75L187.9 420.63L188.4 421.5L188.9 422.37L189.4 423.25L189.9 424.13L190.4 425L190.9 425.88L191.4 426.75L191.9 427.62L192.4 428.48L192.9 429.33L193.4 430.18L193.9 431.01L194.4 431.84L194.9 432.64L195.4 433.44L195.9 434.21L196.4 434.98L196.9 435.73L197.4 436.48L197.9 437.21L198.4 437.95L198.9 438.68L199.4 439.41L199.9 440.15L200.4 440.89L200.9 441.63L201.4 442.36L201.9 443.09L202.4 443.82L202.9 444.55L203.4 445.27L203.9 446L204.4 446.73L204.9 447.45L205.4 448.19L205.9 448.92L206.4 449.65L206.9 450.38L207.4 451.12" fill="none" stroke="#5a2ae8" stroke-width="2.6" stroke-linejoin="round" clip-path="url(#clipc)"/>
<path d="M115.8 448L116.3 300L116.9 285.5" fill="none" stroke="#5a2ae8" stroke-width="2.6" clip-path="url(#clipc)"/>
<g fill="none" stroke="#ec4a86" stroke-width="1.15" clip-path="url(#clipc)"><rect x="192.15" y="284.45" width="6.3" height="6.3"/></g>
<text x="209.4" y="291" font-size="13.2" text-anchor="start" >A-HTL</text>
<path d="M250.4 287.6H273.0" stroke="#f20f1e" stroke-width="2.6"/>
<text x="275.4" y="291" font-size="13.2" text-anchor="start" >Fit</text>
<g fill="none" stroke="#eea06c" stroke-width="1.15" clip-path="url(#clipc)"><circle cx="195.3" cy="303.9" r="3.7"/></g>
<text x="209.4" y="307.3" font-size="13.2" text-anchor="start" >B-HTL</text>
<path d="M250.4 303.9H273.0" stroke="#f8381c" stroke-width="2.6"/>
<text x="275.4" y="307.3" font-size="13.2" text-anchor="start" >Fit</text>
<g fill="none" stroke="#7ee840" stroke-width="1.15" clip-path="url(#clipc)"><path d="M195.3 316.1L199.7 323.6H190.9Z"/></g>
<text x="209.4" y="323.6" font-size="13.2" text-anchor="start" >C-HTL</text>
<path d="M250.4 320.2H273.0" stroke="#62e41a" stroke-width="2.6"/>
<text x="275.4" y="323.6" font-size="13.2" text-anchor="start" >Fit</text>
<g fill="none" stroke="#74c8f0" stroke-width="1.15" clip-path="url(#clipc)"><path d="M195.3 340.6L199.7 333.1H190.9Z"/></g>
<text x="209.4" y="339.9" font-size="13.2" text-anchor="start" >D-HTL</text>
<path d="M250.4 336.5H273.0" stroke="#3088e6" stroke-width="2.6"/>
<text x="275.4" y="339.9" font-size="13.2" text-anchor="start" >Fit</text>
<g fill="none" stroke="#ac6cf0" stroke-width="1.15" clip-path="url(#clipc)"><path d="M195.3 348L200.2 352.8L195.3 357.6L190.4 352.8Z"/></g>
<text x="209.4" y="356.2" font-size="13.2" text-anchor="start" >E-HTL</text>
<path d="M250.4 352.8H273.0" stroke="#5a2ae8" stroke-width="2.6"/>
<text x="275.4" y="356.2" font-size="13.2" text-anchor="start" >Fit</text>
<g fill="none" stroke="#ec4a86" stroke-width="1.25" clip-path="url(#clipd)"><rect x="413.95" y="282.1" width="6.3" height="6.3"/><rect x="415.55" y="293.3" width="6.3" height="6.3"/><rect x="417.15" y="303.42" width="6.3" height="6.3"/><rect x="418.75" y="312.65" width="6.3" height="6.3"/><rect x="420.35" y="321.21" width="6.3" height="6.3"/><rect x="421.95" y="326.58" width="6.3" height="6.3"/><rect x="423.55" y="334.59" width="6.3" height="6.3"/><rect x="425.15" y="337.09" width="6.3" height="6.3"/><rect x="426.75" y="344.87" width="6.3" height="6.3"/><rect x="428.35" y="349.67" width="6.3" height="6.3"/><rect x="429.95" y="354.98" width="6.3" height="6.3"/><rect x="431.55" y="356.71" width="6.3" height="6.3"/><rect x="433.15" y="362.3" width="6.3" height="6.3"/><rect x="434.75" y="363.96" width="6.3" height="6.3"/><rect x="436.35" y="367.88" width="6.3" height="6.3"/><rect x="437.95" y="372.44" width="6.3" height="6.3"/><rect x="439.55" y="378.5" width="6.3" height="6.3"/><rect x="441.15" y="377.9" width="6.3" height="6.3"/><rect x="442.75" y="377.61" width="6.3" height="6.3"/><rect x="444.35" y="384.39" width="6.3" height="6.3"/><rect x="445.95" y="384.39" width="6.3" height="6.3"/><rect x="447.55" y="388.78" width="6.3" height="6.3"/><rect x="449.15" y="390.29" width="6.3" height="6.3"/><rect x="450.75" y="394.28" width="6.3" height="6.3"/><rect x="452.35" y="391.36" width="6.3" height="6.3"/><rect x="453.95" y="401.64" width="6.3" height="6.3"/><rect x="455.55" y="400.78" width="6.3" height="6.3"/><rect x="457.15" y="417.7" width="6.3" height="6.3"/><rect x="458.75" y="407.64" width="6.3" height="6.3"/><rect x="460.35" y="403.47" width="6.3" height="6.3"/><rect x="461.95" y="412.82" width="6.3" height="6.3"/><rect x="463.55" y="411.4" width="6.3" height="6.3"/><rect x="465.15" y="406.52" width="6.3" height="6.3"/><rect x="466.75" y="408.83" width="6.3" height="6.3"/><rect x="468.35" y="423.99" width="6.3" height="6.3"/><rect x="469.95" y="419.6" width="6.3" height="6.3"/><rect x="471.55" y="414.33" width="6.3" height="6.3"/><rect x="473.15" y="412.82" width="6.3" height="6.3"/><rect x="474.75" y="423.99" width="6.3" height="6.3"/><rect x="476.35" y="417.7" width="6.3" height="6.3"/><rect x="477.95" y="423.99" width="6.3" height="6.3"/><rect x="479.55" y="429.49" width="6.3" height="6.3"/><rect x="481.15" y="417.7" width="6.3" height="6.3"/><rect x="482.75" y="426.57" width="6.3" height="6.3"/><rect x="484.35" y="432.86" width="6.3" height="6.3"/><rect x="485.95" y="436.85" width="6.3" height="6.3"/><rect x="487.55" y="429.49" width="6.3" height="6.3"/><rect x="489.15" y="432.86" width="6.3" height="6.3"/><rect x="490.75" y="456.89" width="6.3" height="6.3"/><rect x="492.35" y="436.85" width="6.3" height="6.3"/><rect x="493.95" y="429.49" width="6.3" height="6.3"/><rect x="495.55" y="426.57" width="6.3" height="6.3"/><rect x="497.15" y="423.99" width="6.3" height="6.3"/><rect x="498.75" y="441.73" width="6.3" height="6.3"/><rect x="500.35" y="436.85" width="6.3" height="6.3"/><rect x="501.95" y="423.99" width="6.3" height="6.3"/><rect x="503.55" y="448.02" width="6.3" height="6.3"/><rect x="505.15" y="448.02" width="6.3" height="6.3"/><rect x="506.75" y="441.73" width="6.3" height="6.3"/><rect x="508.35" y="456.89" width="6.3" height="6.3"/><rect x="509.95" y="448.02" width="6.3" height="6.3"/><rect x="511.55" y="441.73" width="6.3" height="6.3"/><rect x="513.15" y="426.57" width="6.3" height="6.3"/><rect x="514.75" y="432.86" width="6.3" height="6.3"/><rect x="516.35" y="448.02" width="6.3" height="6.3"/><rect x="517.95" y="448.02" width="6.3" height="6.3"/><rect x="519.55" y="448.02" width="6.3" height="6.3"/><rect x="521.15" y="432.86" width="6.3" height="6.3"/><rect x="522.75" y="441.73" width="6.3" height="6.3"/><rect x="524.35" y="415.95" width="6.3" height="6.3"/><rect x="525.95" y="472.06" width="6.3" height="6.3"/><rect x="527.55" y="472.06" width="6.3" height="6.3"/><rect x="529.15" y="448.02" width="6.3" height="6.3"/><rect x="530.75" y="448.02" width="6.3" height="6.3"/><rect x="532.35" y="436.85" width="6.3" height="6.3"/><rect x="533.95" y="432.86" width="6.3" height="6.3"/><rect x="535.55" y="441.73" width="6.3" height="6.3"/><rect x="537.15" y="448.02" width="6.3" height="6.3"/><rect x="538.75" y="456.89" width="6.3" height="6.3"/><rect x="540.35" y="448.02" width="6.3" height="6.3"/><rect x="541.95" y="432.86" width="6.3" height="6.3"/><rect x="543.55" y="441.73" width="6.3" height="6.3"/><rect x="545.15" y="448.02" width="6.3" height="6.3"/><rect x="546.75" y="448.02" width="6.3" height="6.3"/><rect x="548.35" y="456.89" width="6.3" height="6.3"/><rect x="549.95" y="441.73" width="6.3" height="6.3"/><rect x="551.55" y="456.89" width="6.3" height="6.3"/><rect x="553.15" y="429.49" width="6.3" height="6.3"/><rect x="554.75" y="456.89" width="6.3" height="6.3"/><rect x="556.35" y="436.85" width="6.3" height="6.3"/><rect x="557.95" y="441.73" width="6.3" height="6.3"/><rect x="559.55" y="456.89" width="6.3" height="6.3"/><rect x="561.15" y="441.73" width="6.3" height="6.3"/><rect x="562.75" y="456.89" width="6.3" height="6.3"/><rect x="564.35" y="448.02" width="6.3" height="6.3"/><rect x="565.95" y="441.73" width="6.3" height="6.3"/><rect x="567.55" y="448.02" width="6.3" height="6.3"/><rect x="569.15" y="441.73" width="6.3" height="6.3"/><rect x="570.75" y="456.89" width="6.3" height="6.3"/><rect x="572.35" y="436.85" width="6.3" height="6.3"/><rect x="573.95" y="456.89" width="6.3" height="6.3"/><rect x="575.55" y="472.06" width="6.3" height="6.3"/><rect x="578.75" y="456.89" width="6.3" height="6.3"/><rect x="580.35" y="456.89" width="6.3" height="6.3"/><rect x="581.95" y="448.02" width="6.3" height="6.3"/><rect x="583.55" y="441.73" width="6.3" height="6.3"/><rect x="585.15" y="448.02" width="6.3" height="6.3"/><rect x="586.75" y="472.06" width="6.3" height="6.3"/><rect x="588.35" y="472.06" width="6.3" height="6.3"/><rect x="589.95" y="441.73" width="6.3" height="6.3"/><rect x="591.55" y="448.02" width="6.3" height="6.3"/><rect x="593.15" y="448.02" width="6.3" height="6.3"/><rect x="594.75" y="448.02" width="6.3" height="6.3"/><rect x="596.35" y="472.06" width="6.3" height="6.3"/><rect x="597.95" y="456.89" width="6.3" height="6.3"/><rect x="599.55" y="436.85" width="6.3" height="6.3"/><rect x="601.15" y="448.02" width="6.3" height="6.3"/><rect x="602.75" y="472.06" width="6.3" height="6.3"/><rect x="604.35" y="456.89" width="6.3" height="6.3"/><rect x="605.95" y="441.73" width="6.3" height="6.3"/><rect x="607.55" y="472.06" width="6.3" height="6.3"/><rect x="609.15" y="456.89" width="6.3" height="6.3"/><rect x="610.75" y="472.06" width="6.3" height="6.3"/><rect x="612.35" y="472.06" width="6.3" height="6.3"/><rect x="613.95" y="456.89" width="6.3" height="6.3"/><rect x="615.55" y="456.89" width="6.3" height="6.3"/><rect x="617.15" y="448.02" width="6.3" height="6.3"/><rect x="618.75" y="456.89" width="6.3" height="6.3"/><rect x="620.35" y="441.73" width="6.3" height="6.3"/><rect x="621.95" y="456.89" width="6.3" height="6.3"/><rect x="625.15" y="456.89" width="6.3" height="6.3"/><rect x="626.75" y="456.89" width="6.3" height="6.3"/><rect x="628.35" y="472.06" width="6.3" height="6.3"/><rect x="629.95" y="448.02" width="6.3" height="6.3"/><rect x="631.55" y="472.06" width="6.3" height="6.3"/><rect x="633.15" y="456.89" width="6.3" height="6.3"/><rect x="634.75" y="472.06" width="6.3" height="6.3"/><rect x="636.35" y="456.89" width="6.3" height="6.3"/><rect x="637.95" y="472.06" width="6.3" height="6.3"/><rect x="639.55" y="472.06" width="6.3" height="6.3"/><rect x="641.15" y="456.89" width="6.3" height="6.3"/></g>
<g fill="none" stroke="#eea06c" stroke-width="1.25" clip-path="url(#clipd)"><rect x="413.95" y="282.45" width="6.3" height="6.3"/><rect x="415.55" y="286.95" width="6.3" height="6.3"/><rect x="417.15" y="290.57" width="6.3" height="6.3"/><rect x="418.75" y="294.12" width="6.3" height="6.3"/><rect x="420.35" y="299.51" width="6.3" height="6.3"/><rect x="421.95" y="302.35" width="6.3" height="6.3"/><rect x="423.55" y="306.34" width="6.3" height="6.3"/><rect x="425.15" y="310.71" width="6.3" height="6.3"/><rect x="426.75" y="314.33" width="6.3" height="6.3"/><rect x="428.35" y="318.35" width="6.3" height="6.3"/><rect x="429.95" y="322.04" width="6.3" height="6.3"/><rect x="431.55" y="326.81" width="6.3" height="6.3"/><rect x="433.15" y="328.1" width="6.3" height="6.3"/><rect x="434.75" y="330.44" width="6.3" height="6.3"/><rect x="436.35" y="333.4" width="6.3" height="6.3"/><rect x="437.95" y="336.68" width="6.3" height="6.3"/><rect x="439.55" y="341.15" width="6.3" height="6.3"/><rect x="441.15" y="340.83" width="6.3" height="6.3"/><rect x="442.75" y="344.93" width="6.3" height="6.3"/><rect x="444.35" y="348.48" width="6.3" height="6.3"/><rect x="445.95" y="349.03" width="6.3" height="6.3"/><rect x="447.55" y="349.27" width="6.3" height="6.3"/><rect x="449.15" y="353.77" width="6.3" height="6.3"/><rect x="450.75" y="357.74" width="6.3" height="6.3"/><rect x="452.35" y="355.4" width="6.3" height="6.3"/><rect x="453.95" y="360.49" width="6.3" height="6.3"/><rect x="455.55" y="361.31" width="6.3" height="6.3"/><rect x="457.15" y="363.64" width="6.3" height="6.3"/><rect x="458.75" y="366.97" width="6.3" height="6.3"/><rect x="460.35" y="365.92" width="6.3" height="6.3"/><rect x="461.95" y="365.75" width="6.3" height="6.3"/><rect x="463.55" y="369.23" width="6.3" height="6.3"/><rect x="465.15" y="371.76" width="6.3" height="6.3"/><rect x="466.75" y="370.67" width="6.3" height="6.3"/><rect x="468.35" y="374.36" width="6.3" height="6.3"/><rect x="469.95" y="375.66" width="6.3" height="6.3"/><rect x="471.55" y="373.38" width="6.3" height="6.3"/><rect x="473.15" y="375.13" width="6.3" height="6.3"/><rect x="474.75" y="378.5" width="6.3" height="6.3"/><rect x="476.35" y="383.61" width="6.3" height="6.3"/><rect x="477.95" y="384.39" width="6.3" height="6.3"/><rect x="479.55" y="379.43" width="6.3" height="6.3"/><rect x="481.15" y="381.08" width="6.3" height="6.3"/><rect x="482.75" y="386.05" width="6.3" height="6.3"/><rect x="484.35" y="394.91" width="6.3" height="6.3"/><rect x="485.95" y="386.92" width="6.3" height="6.3"/><rect x="487.55" y="387.37" width="6.3" height="6.3"/><rect x="489.15" y="389.27" width="6.3" height="6.3"/><rect x="490.75" y="395.57" width="6.3" height="6.3"/><rect x="492.35" y="394.28" width="6.3" height="6.3"/><rect x="493.95" y="393.66" width="6.3" height="6.3"/><rect x="495.55" y="390.82" width="6.3" height="6.3"/><rect x="497.15" y="391.91" width="6.3" height="6.3"/><rect x="498.75" y="396.24" width="6.3" height="6.3"/><rect x="500.35" y="394.28" width="6.3" height="6.3"/><rect x="501.95" y="394.91" width="6.3" height="6.3"/><rect x="503.55" y="399.16" width="6.3" height="6.3"/><rect x="505.15" y="404.44" width="6.3" height="6.3"/><rect x="506.75" y="401.64" width="6.3" height="6.3"/><rect x="508.35" y="397.65" width="6.3" height="6.3"/><rect x="509.95" y="397.65" width="6.3" height="6.3"/><rect x="511.55" y="405.46" width="6.3" height="6.3"/><rect x="513.15" y="410.08" width="6.3" height="6.3"/><rect x="514.75" y="410.08" width="6.3" height="6.3"/><rect x="516.35" y="411.4" width="6.3" height="6.3"/><rect x="517.95" y="396.94" width="6.3" height="6.3"/><rect x="519.55" y="400.78" width="6.3" height="6.3"/><rect x="521.15" y="405.46" width="6.3" height="6.3"/><rect x="522.75" y="421.69" width="6.3" height="6.3"/><rect x="524.35" y="414.33" width="6.3" height="6.3"/><rect x="525.95" y="421.69" width="6.3" height="6.3"/><rect x="527.55" y="410.08" width="6.3" height="6.3"/><rect x="529.15" y="411.4" width="6.3" height="6.3"/><rect x="530.75" y="419.6" width="6.3" height="6.3"/><rect x="532.35" y="419.6" width="6.3" height="6.3"/><rect x="533.95" y="407.64" width="6.3" height="6.3"/><rect x="535.55" y="417.7" width="6.3" height="6.3"/><rect x="537.15" y="414.33" width="6.3" height="6.3"/><rect x="538.75" y="432.86" width="6.3" height="6.3"/><rect x="540.35" y="429.49" width="6.3" height="6.3"/><rect x="541.95" y="414.33" width="6.3" height="6.3"/><rect x="543.55" y="419.6" width="6.3" height="6.3"/><rect x="545.15" y="414.33" width="6.3" height="6.3"/><rect x="546.75" y="426.57" width="6.3" height="6.3"/><rect x="548.35" y="423.99" width="6.3" height="6.3"/><rect x="549.95" y="419.6" width="6.3" height="6.3"/><rect x="551.55" y="426.57" width="6.3" height="6.3"/><rect x="553.15" y="421.69" width="6.3" height="6.3"/><rect x="554.75" y="423.99" width="6.3" height="6.3"/><rect x="556.35" y="423.99" width="6.3" height="6.3"/><rect x="557.95" y="426.57" width="6.3" height="6.3"/><rect x="559.55" y="423.99" width="6.3" height="6.3"/><rect x="561.15" y="429.49" width="6.3" height="6.3"/><rect x="562.75" y="429.49" width="6.3" height="6.3"/><rect x="564.35" y="436.85" width="6.3" height="6.3"/><rect x="565.95" y="429.49" width="6.3" height="6.3"/><rect x="567.55" y="414.33" width="6.3" height="6.3"/><rect x="569.15" y="415.95" width="6.3" height="6.3"/><rect x="570.75" y="423.99" width="6.3" height="6.3"/><rect x="572.35" y="414.33" width="6.3" height="6.3"/><rect x="573.95" y="441.73" width="6.3" height="6.3"/><rect x="575.55" y="423.99" width="6.3" height="6.3"/><rect x="577.15" y="423.99" width="6.3" height="6.3"/><rect x="578.75" y="423.99" width="6.3" height="6.3"/><rect x="580.35" y="436.85" width="6.3" height="6.3"/><rect x="581.95" y="429.49" width="6.3" height="6.3"/><rect x="583.55" y="436.85" width="6.3" height="6.3"/><rect x="585.15" y="426.57" width="6.3" height="6.3"/><rect x="586.75" y="429.49" width="6.3" height="6.3"/><rect x="588.35" y="436.85" width="6.3" height="6.3"/><rect x="589.95" y="426.57" width="6.3" height="6.3"/><rect x="591.55" y="423.99" width="6.3" height="6.3"/><rect x="593.15" y="432.86" width="6.3" height="6.3"/><rect x="594.75" y="456.89" width="6.3" height="6.3"/><rect x="596.35" y="429.49" width="6.3" height="6.3"/><rect x="597.95" y="421.69" width="6.3" height="6.3"/><rect x="599.55" y="423.99" width="6.3" height="6.3"/><rect x="601.15" y="456.89" width="6.3" height="6.3"/><rect x="602.75" y="436.85" width="6.3" height="6.3"/><rect x="604.35" y="426.57" width="6.3" height="6.3"/><rect x="605.95" y="436.85" width="6.3" height="6.3"/><rect x="607.55" y="421.69" width="6.3" height="6.3"/><rect x="609.15" y="423.99" width="6.3" height="6.3"/><rect x="610.75" y="429.49" width="6.3" height="6.3"/><rect x="612.35" y="448.02" width="6.3" height="6.3"/><rect x="613.95" y="429.49" width="6.3" height="6.3"/><rect x="615.55" y="441.73" width="6.3" height="6.3"/><rect x="617.15" y="436.85" width="6.3" height="6.3"/><rect x="618.75" y="415.95" width="6.3" height="6.3"/><rect x="620.35" y="441.73" width="6.3" height="6.3"/><rect x="621.95" y="426.57" width="6.3" height="6.3"/><rect x="623.55" y="441.73" width="6.3" height="6.3"/><rect x="625.15" y="423.99" width="6.3" height="6.3"/><rect x="626.75" y="421.69" width="6.3" height="6.3"/><rect x="628.35" y="432.86" width="6.3" height="6.3"/><rect x="629.95" y="423.99" width="6.3" height="6.3"/><rect x="631.55" y="472.06" width="6.3" height="6.3"/><rect x="633.15" y="448.02" width="6.3" height="6.3"/><rect x="634.75" y="456.89" width="6.3" height="6.3"/><rect x="636.35" y="432.86" width="6.3" height="6.3"/><rect x="637.95" y="436.85" width="6.3" height="6.3"/><rect x="639.55" y="426.57" width="6.3" height="6.3"/><rect x="641.15" y="436.85" width="6.3" height="6.3"/></g>
<g fill="none" stroke="#7ee840" stroke-width="1.25" clip-path="url(#clipd)"><rect x="413.95" y="282.18" width="6.3" height="6.3"/><rect x="415.55" y="292.49" width="6.3" height="6.3"/><rect x="417.15" y="300.67" width="6.3" height="6.3"/><rect x="418.75" y="308.5" width="6.3" height="6.3"/><rect x="420.35" y="313.73" width="6.3" height="6.3"/><rect x="421.95" y="319.57" width="6.3" height="6.3"/><rect x="423.55" y="325.56" width="6.3" height="6.3"/><rect x="425.15" y="328.56" width="6.3" height="6.3"/><rect x="426.75" y="331.58" width="6.3" height="6.3"/><rect x="428.35" y="334.71" width="6.3" height="6.3"/><rect x="429.95" y="338.17" width="6.3" height="6.3"/><rect x="431.55" y="339.26" width="6.3" height="6.3"/><rect x="433.15" y="343.05" width="6.3" height="6.3"/><rect x="434.75" y="346.64" width="6.3" height="6.3"/><rect x="436.35" y="349.11" width="6.3" height="6.3"/><rect x="437.95" y="351.89" width="6.3" height="6.3"/><rect x="439.55" y="355.72" width="6.3" height="6.3"/><rect x="441.15" y="354.88" width="6.3" height="6.3"/><rect x="442.75" y="357.16" width="6.3" height="6.3"/><rect x="444.35" y="358.22" width="6.3" height="6.3"/><rect x="445.95" y="360.36" width="6.3" height="6.3"/><rect x="447.55" y="366.61" width="6.3" height="6.3"/><rect x="449.15" y="366.61" width="6.3" height="6.3"/><rect x="450.75" y="365.75" width="6.3" height="6.3"/><rect x="452.35" y="368.84" width="6.3" height="6.3"/><rect x="453.95" y="373.14" width="6.3" height="6.3"/><rect x="455.55" y="369.03" width="6.3" height="6.3"/><rect x="457.15" y="374.61" width="6.3" height="6.3"/><rect x="458.75" y="376.47" width="6.3" height="6.3"/><rect x="460.35" y="381.77" width="6.3" height="6.3"/><rect x="461.95" y="380.08" width="6.3" height="6.3"/><rect x="463.55" y="374.61" width="6.3" height="6.3"/><rect x="465.15" y="380.41" width="6.3" height="6.3"/><rect x="466.75" y="382.49" width="6.3" height="6.3"/><rect x="468.35" y="388.3" width="6.3" height="6.3"/><rect x="469.95" y="388.3" width="6.3" height="6.3"/><rect x="471.55" y="389.27" width="6.3" height="6.3"/><rect x="473.15" y="395.57" width="6.3" height="6.3"/><rect x="474.75" y="400.78" width="6.3" height="6.3"/><rect x="476.35" y="400.78" width="6.3" height="6.3"/><rect x="477.95" y="391.36" width="6.3" height="6.3"/><rect x="479.55" y="394.91" width="6.3" height="6.3"/><rect x="481.15" y="415.95" width="6.3" height="6.3"/><rect x="482.75" y="402.53" width="6.3" height="6.3"/><rect x="484.35" y="396.94" width="6.3" height="6.3"/><rect x="485.95" y="406.52" width="6.3" height="6.3"/><rect x="487.55" y="395.57" width="6.3" height="6.3"/><rect x="489.15" y="405.46" width="6.3" height="6.3"/><rect x="490.75" y="403.47" width="6.3" height="6.3"/><rect x="492.35" y="406.52" width="6.3" height="6.3"/><rect x="493.95" y="407.64" width="6.3" height="6.3"/><rect x="495.55" y="406.52" width="6.3" height="6.3"/><rect x="497.15" y="405.46" width="6.3" height="6.3"/><rect x="498.75" y="408.83" width="6.3" height="6.3"/><rect x="500.35" y="408.83" width="6.3" height="6.3"/><rect x="501.95" y="421.69" width="6.3" height="6.3"/><rect x="503.55" y="417.7" width="6.3" height="6.3"/><rect x="505.15" y="426.57" width="6.3" height="6.3"/><rect x="506.75" y="429.49" width="6.3" height="6.3"/><rect x="508.35" y="426.57" width="6.3" height="6.3"/><rect x="509.95" y="426.57" width="6.3" height="6.3"/><rect x="511.55" y="441.73" width="6.3" height="6.3"/><rect x="513.15" y="421.69" width="6.3" height="6.3"/><rect x="514.75" y="426.57" width="6.3" height="6.3"/><rect x="516.35" y="419.6" width="6.3" height="6.3"/><rect x="517.95" y="417.7" width="6.3" height="6.3"/><rect x="519.55" y="429.49" width="6.3" height="6.3"/><rect x="521.15" y="432.86" width="6.3" height="6.3"/><rect x="522.75" y="419.6" width="6.3" height="6.3"/><rect x="524.35" y="436.85" width="6.3" height="6.3"/><rect x="525.95" y="429.49" width="6.3" height="6.3"/><rect x="527.55" y="426.57" width="6.3" height="6.3"/><rect x="529.15" y="441.73" width="6.3" height="6.3"/><rect x="530.75" y="426.57" width="6.3" height="6.3"/><rect x="532.35" y="432.86" width="6.3" height="6.3"/><rect x="533.95" y="448.02" width="6.3" height="6.3"/><rect x="535.55" y="441.73" width="6.3" height="6.3"/><rect x="537.15" y="429.49" width="6.3" height="6.3"/><rect x="538.75" y="448.02" width="6.3" height="6.3"/><rect x="540.35" y="426.57" width="6.3" height="6.3"/><rect x="541.95" y="426.57" width="6.3" height="6.3"/><rect x="543.55" y="441.73" width="6.3" height="6.3"/><rect x="545.15" y="429.49" width="6.3" height="6.3"/><rect x="546.75" y="472.06" width="6.3" height="6.3"/><rect x="548.35" y="436.85" width="6.3" height="6.3"/><rect x="549.95" y="429.49" width="6.3" height="6.3"/><rect x="551.55" y="441.73" width="6.3" height="6.3"/><rect x="553.15" y="456.89" width="6.3" height="6.3"/><rect x="554.75" y="472.06" width="6.3" height="6.3"/><rect x="556.35" y="429.49" width="6.3" height="6.3"/><rect x="557.95" y="426.57" width="6.3" height="6.3"/><rect x="559.55" y="441.73" width="6.3" height="6.3"/><rect x="562.75" y="448.02" width="6.3" height="6.3"/><rect x="564.35" y="456.89" width="6.3" height="6.3"/><rect x="567.55" y="432.86" width="6.3" height="6.3"/><rect x="569.15" y="436.85" width="6.3" height="6.3"/><rect x="570.75" y="456.89" width="6.3" height="6.3"/><rect x="572.35" y="448.02" width="6.3" height="6.3"/><rect x="573.95" y="472.06" width="6.3" height="6.3"/><rect x="575.55" y="448.02" width="6.3" height="6.3"/><rect x="578.75" y="472.06" width="6.3" height="6.3"/><rect x="580.35" y="441.73" width="6.3" height="6.3"/><rect x="581.95" y="436.85" width="6.3" height="6.3"/><rect x="583.55" y="456.89" width="6.3" height="6.3"/><rect x="585.15" y="472.06" width="6.3" height="6.3"/><rect x="586.75" y="448.02" width="6.3" height="6.3"/><rect x="588.35" y="456.89" width="6.3" height="6.3"/><rect x="589.95" y="436.85" width="6.3" height="6.3"/><rect x="591.55" y="448.02" width="6.3" height="6.3"/><rect x="593.15" y="472.06" width="6.3" height="6.3"/><rect x="594.75" y="436.85" width="6.3" height="6.3"/><rect x="597.95" y="472.06" width="6.3" height="6.3"/><rect x="599.55" y="456.89" width="6.3" height="6.3"/><rect x="601.15" y="448.02" width="6.3" height="6.3"/><rect x="602.75" y="436.85" width="6.3" height="6.3"/><rect x="604.35" y="472.06" width="6.3" height="6.3"/><rect x="605.95" y="472.06" width="6.3" height="6.3"/><rect x="607.55" y="472.06" width="6.3" height="6.3"/><rect x="609.15" y="472.06" width="6.3" height="6.3"/><rect x="610.75" y="472.06" width="6.3" height="6.3"/><rect x="612.35" y="441.73" width="6.3" height="6.3"/><rect x="613.95" y="472.06" width="6.3" height="6.3"/><rect x="615.55" y="448.02" width="6.3" height="6.3"/><rect x="617.15" y="448.02" width="6.3" height="6.3"/><rect x="618.75" y="436.85" width="6.3" height="6.3"/><rect x="620.35" y="448.02" width="6.3" height="6.3"/><rect x="621.95" y="456.89" width="6.3" height="6.3"/><rect x="623.55" y="456.89" width="6.3" height="6.3"/><rect x="625.15" y="456.89" width="6.3" height="6.3"/><rect x="626.75" y="448.02" width="6.3" height="6.3"/><rect x="629.95" y="472.06" width="6.3" height="6.3"/><rect x="633.15" y="448.02" width="6.3" height="6.3"/><rect x="636.35" y="448.02" width="6.3" height="6.3"/><rect x="637.95" y="448.02" width="6.3" height="6.3"/><rect x="641.15" y="472.06" width="6.3" height="6.3"/></g>
<g fill="none" stroke="#74c8f0" stroke-width="1.25" clip-path="url(#clipd)"><rect x="413.95" y="282.47" width="6.3" height="6.3"/><rect x="415.55" y="287.12" width="6.3" height="6.3"/><rect x="417.15" y="291.99" width="6.3" height="6.3"/><rect x="418.75" y="296.37" width="6.3" height="6.3"/><rect x="420.35" y="301.33" width="6.3" height="6.3"/><rect x="421.95" y="306.05" width="6.3" height="6.3"/><rect x="423.55" y="310.04" width="6.3" height="6.3"/><rect x="425.15" y="315.31" width="6.3" height="6.3"/><rect x="426.75" y="322.07" width="6.3" height="6.3"/><rect x="428.35" y="324.45" width="6.3" height="6.3"/><rect x="429.95" y="327.47" width="6.3" height="6.3"/><rect x="431.55" y="330.78" width="6.3" height="6.3"/><rect x="433.15" y="336.82" width="6.3" height="6.3"/><rect x="434.75" y="337.18" width="6.3" height="6.3"/><rect x="436.35" y="341.04" width="6.3" height="6.3"/><rect x="437.95" y="341.88" width="6.3" height="6.3"/><rect x="439.55" y="347.07" width="6.3" height="6.3"/><rect x="441.15" y="349.43" width="6.3" height="6.3"/><rect x="442.75" y="352.26" width="6.3" height="6.3"/><rect x="444.35" y="354.67" width="6.3" height="6.3"/><rect x="445.95" y="356.37" width="6.3" height="6.3"/><rect x="447.55" y="358.22" width="6.3" height="6.3"/><rect x="449.15" y="358.46" width="6.3" height="6.3"/><rect x="450.75" y="357.74" width="6.3" height="6.3"/><rect x="452.35" y="363.04" width="6.3" height="6.3"/><rect x="453.95" y="366.79" width="6.3" height="6.3"/><rect x="455.55" y="364.27" width="6.3" height="6.3"/><rect x="457.15" y="366.09" width="6.3" height="6.3"/><rect x="458.75" y="366.43" width="6.3" height="6.3"/><rect x="460.35" y="371.98" width="6.3" height="6.3"/><rect x="461.95" y="373.62" width="6.3" height="6.3"/><rect x="463.55" y="374.61" width="6.3" height="6.3"/><rect x="465.15" y="372.21" width="6.3" height="6.3"/><rect x="466.75" y="373.62" width="6.3" height="6.3"/><rect x="468.35" y="379.43" width="6.3" height="6.3"/><rect x="469.95" y="377.61" width="6.3" height="6.3"/><rect x="471.55" y="379.75" width="6.3" height="6.3"/><rect x="473.15" y="392.48" width="6.3" height="6.3"/><rect x="474.75" y="384.79" width="6.3" height="6.3"/><rect x="476.35" y="384.79" width="6.3" height="6.3"/><rect x="477.95" y="386.92" width="6.3" height="6.3"/><rect x="479.55" y="387.37" width="6.3" height="6.3"/><rect x="481.15" y="397.65" width="6.3" height="6.3"/><rect x="482.75" y="388.78" width="6.3" height="6.3"/><rect x="484.35" y="397.65" width="6.3" height="6.3"/><rect x="485.95" y="392.48" width="6.3" height="6.3"/><rect x="487.55" y="395.57" width="6.3" height="6.3"/><rect x="489.15" y="399.16" width="6.3" height="6.3"/><rect x="490.75" y="402.53" width="6.3" height="6.3"/><rect x="492.35" y="399.96" width="6.3" height="6.3"/><rect x="493.95" y="401.64" width="6.3" height="6.3"/><rect x="495.55" y="400.78" width="6.3" height="6.3"/><rect x="497.15" y="407.64" width="6.3" height="6.3"/><rect x="498.75" y="407.64" width="6.3" height="6.3"/><rect x="500.35" y="407.64" width="6.3" height="6.3"/><rect x="501.95" y="419.6" width="6.3" height="6.3"/><rect x="503.55" y="406.52" width="6.3" height="6.3"/><rect x="505.15" y="411.4" width="6.3" height="6.3"/><rect x="506.75" y="415.95" width="6.3" height="6.3"/><rect x="508.35" y="411.4" width="6.3" height="6.3"/><rect x="509.95" y="407.64" width="6.3" height="6.3"/><rect x="511.55" y="414.33" width="6.3" height="6.3"/><rect x="513.15" y="414.33" width="6.3" height="6.3"/><rect x="514.75" y="414.33" width="6.3" height="6.3"/><rect x="516.35" y="423.99" width="6.3" height="6.3"/><rect x="517.95" y="414.33" width="6.3" height="6.3"/><rect x="519.55" y="419.6" width="6.3" height="6.3"/><rect x="521.15" y="429.49" width="6.3" height="6.3"/><rect x="522.75" y="421.69" width="6.3" height="6.3"/><rect x="524.35" y="415.95" width="6.3" height="6.3"/><rect x="525.95" y="421.69" width="6.3" height="6.3"/><rect x="527.55" y="411.4" width="6.3" height="6.3"/><rect x="529.15" y="423.99" width="6.3" height="6.3"/><rect x="530.75" y="412.82" width="6.3" height="6.3"/><rect x="532.35" y="411.4" width="6.3" height="6.3"/><rect x="533.95" y="426.57" width="6.3" height="6.3"/><rect x="535.55" y="432.86" width="6.3" height="6.3"/><rect x="537.15" y="423.99" width="6.3" height="6.3"/><rect x="538.75" y="419.6" width="6.3" height="6.3"/><rect x="540.35" y="419.6" width="6.3" height="6.3"/><rect x="541.95" y="432.86" width="6.3" height="6.3"/><rect x="543.55" y="415.95" width="6.3" height="6.3"/><rect x="545.15" y="419.6" width="6.3" height="6.3"/><rect x="546.75" y="426.57" width="6.3" height="6.3"/><rect x="548.35" y="426.57" width="6.3" height="6.3"/><rect x="549.95" y="436.85" width="6.3" height="6.3"/><rect x="551.55" y="436.85" width="6.3" height="6.3"/><rect x="553.15" y="441.73" width="6.3" height="6.3"/><rect x="554.75" y="448.02" width="6.3" height="6.3"/><rect x="556.35" y="436.85" width="6.3" height="6.3"/><rect x="557.95" y="429.49" width="6.3" height="6.3"/><rect x="559.55" y="432.86" width="6.3" height="6.3"/><rect x="561.15" y="456.89" width="6.3" height="6.3"/><rect x="562.75" y="423.99" width="6.3" height="6.3"/><rect x="564.35" y="429.49" width="6.3" height="6.3"/><rect x="565.95" y="426.57" width="6.3" height="6.3"/><rect x="567.55" y="426.57" width="6.3" height="6.3"/><rect x="569.15" y="448.02" width="6.3" height="6.3"/><rect x="570.75" y="436.85" width="6.3" height="6.3"/><rect x="572.35" y="432.86" width="6.3" height="6.3"/><rect x="573.95" y="426.57" width="6.3" height="6.3"/><rect x="575.55" y="426.57" width="6.3" height="6.3"/><rect x="577.15" y="448.02" width="6.3" height="6.3"/><rect x="578.75" y="429.49" width="6.3" height="6.3"/><rect x="580.35" y="432.86" width="6.3" height="6.3"/><rect x="581.95" y="432.86" width="6.3" height="6.3"/><rect x="583.55" y="436.85" width="6.3" height="6.3"/><rect x="585.15" y="441.73" width="6.3" height="6.3"/><rect x="586.75" y="429.49" width="6.3" height="6.3"/><rect x="588.35" y="448.02" width="6.3" height="6.3"/><rect x="589.95" y="436.85" width="6.3" height="6.3"/><rect x="591.55" y="432.86" width="6.3" height="6.3"/><rect x="593.15" y="448.02" width="6.3" height="6.3"/><rect x="594.75" y="426.57" width="6.3" height="6.3"/><rect x="596.35" y="426.57" width="6.3" height="6.3"/><rect x="597.95" y="472.06" width="6.3" height="6.3"/><rect x="599.55" y="472.06" width="6.3" height="6.3"/><rect x="601.15" y="436.85" width="6.3" height="6.3"/><rect x="602.75" y="441.73" width="6.3" height="6.3"/><rect x="604.35" y="448.02" width="6.3" height="6.3"/><rect x="605.95" y="426.57" width="6.3" height="6.3"/><rect x="607.55" y="426.57" width="6.3" height="6.3"/><rect x="609.15" y="432.86" width="6.3" height="6.3"/><rect x="610.75" y="426.57" width="6.3" height="6.3"/><rect x="612.35" y="448.02" width="6.3" height="6.3"/><rect x="613.95" y="426.57" width="6.3" height="6.3"/><rect x="615.55" y="448.02" width="6.3" height="6.3"/><rect x="617.15" y="421.69" width="6.3" height="6.3"/><rect x="618.75" y="432.86" width="6.3" height="6.3"/><rect x="620.35" y="436.85" width="6.3" height="6.3"/><rect x="621.95" y="432.86" width="6.3" height="6.3"/><rect x="623.55" y="436.85" width="6.3" height="6.3"/><rect x="626.75" y="448.02" width="6.3" height="6.3"/><rect x="628.35" y="436.85" width="6.3" height="6.3"/><rect x="629.95" y="426.57" width="6.3" height="6.3"/><rect x="631.55" y="448.02" width="6.3" height="6.3"/><rect x="633.15" y="441.73" width="6.3" height="6.3"/><rect x="634.75" y="423.99" width="6.3" height="6.3"/><rect x="636.35" y="448.02" width="6.3" height="6.3"/><rect x="637.95" y="441.73" width="6.3" height="6.3"/><rect x="639.55" y="421.69" width="6.3" height="6.3"/><rect x="641.15" y="441.73" width="6.3" height="6.3"/></g>
<g fill="none" stroke="#ac6cf0" stroke-width="1.25" clip-path="url(#clipd)"><rect x="413.95" y="282.67" width="6.3" height="6.3"/><rect x="415.55" y="288.32" width="6.3" height="6.3"/><rect x="417.15" y="293.91" width="6.3" height="6.3"/><rect x="418.75" y="297.74" width="6.3" height="6.3"/><rect x="420.35" y="302.51" width="6.3" height="6.3"/><rect x="421.95" y="306.92" width="6.3" height="6.3"/><rect x="423.55" y="309.98" width="6.3" height="6.3"/><rect x="425.15" y="314.15" width="6.3" height="6.3"/><rect x="426.75" y="317.44" width="6.3" height="6.3"/><rect x="428.35" y="320.19" width="6.3" height="6.3"/><rect x="429.95" y="323.77" width="6.3" height="6.3"/><rect x="431.55" y="326.66" width="6.3" height="6.3"/><rect x="433.15" y="330.44" width="6.3" height="6.3"/><rect x="434.75" y="333.83" width="6.3" height="6.3"/><rect x="436.35" y="335.17" width="6.3" height="6.3"/><rect x="437.95" y="339" width="6.3" height="6.3"/><rect x="439.55" y="342.58" width="6.3" height="6.3"/><rect x="441.15" y="342" width="6.3" height="6.3"/><rect x="442.75" y="345.53" width="6.3" height="6.3"/><rect x="444.35" y="348.1" width="6.3" height="6.3"/><rect x="445.95" y="349.27" width="6.3" height="6.3"/><rect x="447.55" y="351.62" width="6.3" height="6.3"/><rect x="449.15" y="352.81" width="6.3" height="6.3"/><rect x="450.75" y="358.46" width="6.3" height="6.3"/><rect x="452.35" y="358.58" width="6.3" height="6.3"/><rect x="453.95" y="361.73" width="6.3" height="6.3"/><rect x="455.55" y="365.08" width="6.3" height="6.3"/><rect x="457.15" y="365.75" width="6.3" height="6.3"/><rect x="458.75" y="367.51" width="6.3" height="6.3"/><rect x="460.35" y="368.26" width="6.3" height="6.3"/><rect x="461.95" y="365.75" width="6.3" height="6.3"/><rect x="463.55" y="368.45" width="6.3" height="6.3"/><rect x="465.15" y="371.54" width="6.3" height="6.3"/><rect x="466.75" y="376.47" width="6.3" height="6.3"/><rect x="468.35" y="379.43" width="6.3" height="6.3"/><rect x="469.95" y="379.43" width="6.3" height="6.3"/><rect x="471.55" y="380.74" width="6.3" height="6.3"/><rect x="473.15" y="381.42" width="6.3" height="6.3"/><rect x="474.75" y="386.48" width="6.3" height="6.3"/><rect x="476.35" y="383.61" width="6.3" height="6.3"/><rect x="477.95" y="389.78" width="6.3" height="6.3"/><rect x="479.55" y="389.78" width="6.3" height="6.3"/><rect x="481.15" y="396.24" width="6.3" height="6.3"/><rect x="482.75" y="392.48" width="6.3" height="6.3"/><rect x="484.35" y="394.28" width="6.3" height="6.3"/><rect x="485.95" y="394.28" width="6.3" height="6.3"/><rect x="487.55" y="394.28" width="6.3" height="6.3"/><rect x="489.15" y="399.96" width="6.3" height="6.3"/><rect x="490.75" y="406.52" width="6.3" height="6.3"/><rect x="492.35" y="402.53" width="6.3" height="6.3"/><rect x="493.95" y="396.94" width="6.3" height="6.3"/><rect x="495.55" y="412.82" width="6.3" height="6.3"/><rect x="497.15" y="411.4" width="6.3" height="6.3"/><rect x="498.75" y="412.82" width="6.3" height="6.3"/><rect x="500.35" y="401.64" width="6.3" height="6.3"/><rect x="501.95" y="412.82" width="6.3" height="6.3"/><rect x="503.55" y="399.96" width="6.3" height="6.3"/><rect x="505.15" y="404.44" width="6.3" height="6.3"/><rect x="506.75" y="429.49" width="6.3" height="6.3"/><rect x="508.35" y="417.7" width="6.3" height="6.3"/><rect x="509.95" y="412.82" width="6.3" height="6.3"/><rect x="511.55" y="426.57" width="6.3" height="6.3"/><rect x="513.15" y="426.57" width="6.3" height="6.3"/><rect x="514.75" y="423.99" width="6.3" height="6.3"/><rect x="516.35" y="421.69" width="6.3" height="6.3"/><rect x="517.95" y="429.49" width="6.3" height="6.3"/><rect x="519.55" y="415.95" width="6.3" height="6.3"/><rect x="521.15" y="412.82" width="6.3" height="6.3"/><rect x="522.75" y="421.69" width="6.3" height="6.3"/><rect x="524.35" y="415.95" width="6.3" height="6.3"/><rect x="525.95" y="423.99" width="6.3" height="6.3"/><rect x="527.55" y="436.85" width="6.3" height="6.3"/><rect x="529.15" y="432.86" width="6.3" height="6.3"/><rect x="530.75" y="426.57" width="6.3" height="6.3"/><rect x="532.35" y="436.85" width="6.3" height="6.3"/><rect x="533.95" y="426.57" width="6.3" height="6.3"/><rect x="535.55" y="423.99" width="6.3" height="6.3"/><rect x="537.15" y="441.73" width="6.3" height="6.3"/><rect x="538.75" y="423.99" width="6.3" height="6.3"/><rect x="540.35" y="448.02" width="6.3" height="6.3"/><rect x="541.95" y="423.99" width="6.3" height="6.3"/><rect x="543.55" y="448.02" width="6.3" height="6.3"/><rect x="545.15" y="432.86" width="6.3" height="6.3"/><rect x="546.75" y="441.73" width="6.3" height="6.3"/><rect x="548.35" y="436.85" width="6.3" height="6.3"/><rect x="549.95" y="436.85" width="6.3" height="6.3"/><rect x="551.55" y="436.85" width="6.3" height="6.3"/><rect x="553.15" y="456.89" width="6.3" height="6.3"/><rect x="554.75" y="456.89" width="6.3" height="6.3"/><rect x="556.35" y="441.73" width="6.3" height="6.3"/><rect x="557.95" y="448.02" width="6.3" height="6.3"/><rect x="559.55" y="426.57" width="6.3" height="6.3"/><rect x="561.15" y="441.73" width="6.3" height="6.3"/><rect x="562.75" y="448.02" width="6.3" height="6.3"/><rect x="564.35" y="448.02" width="6.3" height="6.3"/><rect x="565.95" y="448.02" width="6.3" height="6.3"/><rect x="567.55" y="456.89" width="6.3" height="6.3"/><rect x="569.15" y="441.73" width="6.3" height="6.3"/><rect x="570.75" y="456.89" width="6.3" height="6.3"/><rect x="572.35" y="472.06" width="6.3" height="6.3"/><rect x="573.95" y="448.02" width="6.3" height="6.3"/><rect x="575.55" y="472.06" width="6.3" height="6.3"/><rect x="577.15" y="448.02" width="6.3" height="6.3"/><rect x="578.75" y="456.89" width="6.3" height="6.3"/><rect x="580.35" y="448.02" width="6.3" height="6.3"/><rect x="581.95" y="441.73" width="6.3" height="6.3"/><rect x="583.55" y="472.06" width="6.3" height="6.3"/><rect x="585.15" y="448.02" width="6.3" height="6.3"/><rect x="586.75" y="456.89" width="6.3" height="6.3"/><rect x="588.35" y="429.49" width="6.3" height="6.3"/><rect x="589.95" y="448.02" width="6.3" height="6.3"/><rect x="591.55" y="441.73" width="6.3" height="6.3"/><rect x="593.15" y="448.02" width="6.3" height="6.3"/><rect x="594.75" y="448.02" width="6.3" height="6.3"/><rect x="597.95" y="436.85" width="6.3" height="6.3"/><rect x="599.55" y="472.06" width="6.3" height="6.3"/><rect x="601.15" y="436.85" width="6.3" height="6.3"/><rect x="602.75" y="456.89" width="6.3" height="6.3"/><rect x="604.35" y="448.02" width="6.3" height="6.3"/><rect x="605.95" y="456.89" width="6.3" height="6.3"/><rect x="607.55" y="456.89" width="6.3" height="6.3"/><rect x="609.15" y="448.02" width="6.3" height="6.3"/><rect x="610.75" y="472.06" width="6.3" height="6.3"/><rect x="612.35" y="456.89" width="6.3" height="6.3"/><rect x="613.95" y="441.73" width="6.3" height="6.3"/><rect x="615.55" y="456.89" width="6.3" height="6.3"/><rect x="617.15" y="456.89" width="6.3" height="6.3"/><rect x="618.75" y="448.02" width="6.3" height="6.3"/><rect x="620.35" y="441.73" width="6.3" height="6.3"/><rect x="621.95" y="448.02" width="6.3" height="6.3"/><rect x="623.55" y="436.85" width="6.3" height="6.3"/><rect x="625.15" y="448.02" width="6.3" height="6.3"/><rect x="626.75" y="456.89" width="6.3" height="6.3"/><rect x="628.35" y="448.02" width="6.3" height="6.3"/><rect x="629.95" y="441.73" width="6.3" height="6.3"/><rect x="631.55" y="456.89" width="6.3" height="6.3"/><rect x="633.15" y="448.02" width="6.3" height="6.3"/><rect x="634.75" y="448.02" width="6.3" height="6.3"/><rect x="636.35" y="472.06" width="6.3" height="6.3"/><rect x="637.95" y="472.06" width="6.3" height="6.3"/><rect x="639.55" y="436.85" width="6.3" height="6.3"/><rect x="641.15" y="472.06" width="6.3" height="6.3"/></g>
<g fill="none" stroke="#ac6cf0" stroke-width="1.25" clip-path="url(#clipd)"><rect x="413.85" y="282.15" width="6.3" height="6.3"/></g>
<path d="M417.1 285.5L417.6 289.02L418.1 292.53L418.6 296L419.1 299.49L419.6 302.95L420.1 306.25L420.6 309.32L421.1 312.25L421.6 315.09L422.1 317.85L422.6 320.54L423.1 323.39L423.6 326.16L424.1 328.55L424.6 330.62L425.1 332.54L425.6 334.43L426.1 336.3L426.6 338.12L427.1 339.9L427.6 341.62L428.1 343.28L428.6 344.88L429.1 346.4L429.6 347.84L430.1 349.19L430.6 350.43L431.1 351.56L431.6 352.62L432.1 353.6L432.6 354.53L433.1 355.42L433.6 356.28L434.1 357.13L434.6 357.96L435.1 358.79L435.6 359.64L436.1 360.5L436.6 361.38L437.1 362.31L437.6 363.27L438.1 364.24L438.6 365.23L439.1 366.22L439.6 367.21L440.1 368.22L440.6 369.22L441.1 370.22L441.6 371.23L442.1 372.23L442.6 373.23L443.1 374.23L443.6 375.21L444.1 376.2L444.6 377.18L445.1 378.15L445.6 379.13L446.1 380.11L446.6 381.08L447.1 382.06L447.6 383.03L448.1 384L448.6 384.97L449.1 385.94L449.6 386.9L450.1 387.86L450.6 388.82L451.1 389.78L451.6 390.73L452.1 391.68L452.6 392.62L453.1 393.56L453.6 394.5L454.1 395.43L454.6 396.36L455.1 397.27L455.6 398.19L456.1 399.09L456.6 399.99L457.1 400.89L457.6 401.79L458.1 402.68L458.6 403.56L459.1 404.45L459.6 405.33L460.1 406.2L460.6 407.07L461.1 407.94L461.6 408.81L462.1 409.68L462.6 410.55L463.1 411.42L463.6 412.29L464.1 413.15L464.6 414.02L465.1 414.89L465.6 415.76L466.1 416.63L466.6 417.5L467.1 418.38L467.6 419.27L468.1 420.17L468.6 421.08L469.1 421.99L469.6 422.9L470.1 423.79L470.6 424.67L471.1 425.52L471.6 426.35L472.1 427.16L472.6 427.93L473.1 428.69L473.6 429.42L474.1 430.13L474.6 430.84L475.1 431.54L475.6 432.24L476.1 432.94L476.6 433.65L477.1 434.37L477.6 435.1L478.1 435.85L478.6 436.61L479.1 437.37L479.6 438.13L480.1 438.89L480.6 439.65L481.1 440.42L481.6 441.19L482.1 441.96L482.6 442.74L483.1 443.53L483.6 444.32L484.1 445.13L484.6 445.95L485.1 446.79L485.6 447.69L486.1 448.72L486.6 450.07" fill="none" stroke="#f20f1e" stroke-width="2.6" stroke-linejoin="round" clip-path="url(#clipd)"/>
<path d="M417.1 285.5L417.6 286.68L418.1 287.86L418.6 289.04L419.1 290.23L419.6 291.4L420.1 292.58L420.6 293.75L421.1 294.92L421.6 296.08L422.1 297.23L422.6 298.37L423.1 299.5L423.6 300.63L424.1 301.75L424.6 302.86L425.1 303.97L425.6 305.07L426.1 306.18L426.6 307.28L427.1 308.4L427.6 309.54L428.1 310.7L428.6 311.87L429.1 313.04L429.6 314.22L430.1 315.39L430.6 316.55L431.1 317.7L431.6 318.83L432.1 319.95L432.6 321.04L433.1 322.12L433.6 323.18L434.1 324.21L434.6 325.21L435.1 326.19L435.6 327.14L436.1 328.06L436.6 328.96L437.1 329.84L437.6 330.7L438.1 331.55L438.6 332.38L439.1 333.21L439.6 334.02L440.1 334.83L440.6 335.63L441.1 336.42L441.6 337.2L442.1 337.98L442.6 338.76L443.1 339.53L443.6 340.29L444.1 341.05L444.6 341.81L445.1 342.56L445.6 343.31L446.1 344.05L446.6 344.8L447.1 345.54L447.6 346.28L448.1 347.02L448.6 347.75L449.1 348.49L449.6 349.22L450.1 349.95L450.6 350.67L451.1 351.38L451.6 352.08L452.1 352.77L452.6 353.45L453.1 354.11L453.6 354.75L454.1 355.37L454.6 355.98L455.1 356.57L455.6 357.15L456.1 357.72L456.6 358.28L457.1 358.83L457.6 359.36L458.1 359.89L458.6 360.4L459.1 360.9L459.6 361.4L460.1 361.88L460.6 362.36L461.1 362.84L461.6 363.3L462.1 363.77L462.6 364.22L463.1 364.68L463.6 365.13L464.1 365.57L464.6 366.02L465.1 366.46L465.6 366.89L466.1 367.33L466.6 367.76L467.1 368.18L467.6 368.6L468.1 369.01L468.6 369.4L469.1 369.78L469.6 370.14L470.1 370.5L470.6 370.85L471.1 371.19L471.6 371.54L472.1 371.89L472.6 372.24L473.1 372.61L473.6 372.98L474.1 373.37L474.6 373.76L475.1 374.16L475.6 374.57L476.1 374.98L476.6 375.4L477.1 375.82L477.6 376.24L478.1 376.67L478.6 377.1L479.1 377.52L479.6 377.95L480.1 378.38L480.6 378.81L481.1 379.24L481.6 379.67L482.1 380.1L482.6 380.52L483.1 380.95L483.6 381.37L484.1 381.79L484.6 382.22L485.1 382.63L485.6 383.05L486.1 383.46L486.6 383.87L487.1 384.28L487.6 384.68L488.1 385.08L488.6 385.47L489.1 385.87L489.6 386.26L490.1 386.65L490.6 387.03L491.1 387.42L491.6 387.8L492.1 388.18L492.6 388.56L493.1 388.94L493.6 389.32L494.1 389.69L494.6 390.07L495.1 390.44L495.6 390.82L496.1 391.19L496.6 391.56L497.1 391.93L497.6 392.31L498.1 392.68L498.6 393.05L499.1 393.42L499.6 393.79L500.1 394.16L500.6 394.53L501.1 394.91L501.6 395.28L502.1 395.65L502.6 396.03L503.1 396.4L503.6 396.78L504.1 397.15L504.6 397.53L505.1 397.91L505.6 398.29L506.1 398.67L506.6 399.05L507.1 399.43L507.6 399.81L508.1 400.19L508.6 400.57L509.1 400.95L509.6 401.33L510.1 401.71L510.6 402.09L511.1 402.47L511.6 402.85L512.1 403.22L512.6 403.59L513.1 403.97L513.6 404.34L514.1 404.71L514.6 405.07L515.1 405.44L515.6 405.8L516.1 406.16L516.6 406.52L517.1 406.88L517.6 407.23L518.1 407.58L518.6 407.92L519.1 408.27L519.6 408.61L520.1 408.95L520.6 409.28L521.1 409.62L521.6 409.95L522.1 410.27L522.6 410.6L523.1 410.93L523.6 411.25L524.1 411.57L524.6 411.89L525.1 412.21L525.6 412.52L526.1 412.84L526.6 413.15L527.1 413.46L527.6 413.77L528.1 414.08L528.6 414.39L529.1 414.7L529.6 415L530.1 415.31L530.6 415.61L531.1 415.92L531.6 416.22L532.1 416.52L532.6 416.82L533.1 417.12L533.6 417.42L534.1 417.72L534.6 418.02L535.1 418.32L535.6 418.62L536.1 418.92L536.6 419.21L537.1 419.5L537.6 419.8L538.1 420.08L538.6 420.37L539.1 420.66L539.6 420.94L540.1 421.23L540.6 421.51L541.1 421.78L541.6 422.06L542.1 422.34L542.6 422.61L543.1 422.88L543.6 423.15L544.1 423.42L544.6 423.69L545.1 423.96L545.6 424.23L546.1 424.49L546.6 424.76L547.1 425.02L547.6 425.29L548.1 425.55L548.6 425.82L549.1 426.08L549.6 426.34L550.1 426.61L550.6 426.87L551.1 427.13L551.6 427.39L552.1 427.64L552.6 427.9L553.1 428.15L553.6 428.41L554.1 428.66L554.6 428.91L555.1 429.15L555.6 429.4L556.1 429.64L556.6 429.89L557.1 430.13L557.6 430.37L558.1 430.6L558.6 430.84L559.1 431.08L559.6 431.31L560.1 431.55L560.6 431.78L561.1 432.01L561.6 432.25L562.1 432.48L562.6 432.71L563.1 432.95L563.6 433.18L564.1 433.41L564.6 433.64L565.1 433.88L565.6 434.11L566.1 434.34L566.6 434.57L567.1 434.8L567.6 435.02L568.1 435.25L568.6 435.48L569.1 435.71L569.6 435.93L570.1 436.16L570.6 436.38L571.1 436.61L571.6 436.83L572.1 437.05L572.6 437.27L573.1 437.49L573.6 437.71L574.1 437.93L574.6 438.15L575.1 438.37L575.6 438.58L576.1 438.79L576.6 439.01L577.1 439.22L577.6 439.42L578.1 439.63L578.6 439.84L579.1 440.04L579.6 440.24L580.1 440.44L580.6 440.63L581.1 440.83L581.6 441.02L582.1 441.21L582.6 441.4L583.1 441.58L583.6 441.77L584.1 441.95L584.6 442.13L585.1 442.31L585.6 442.49L586.1 442.67L586.6 442.85L587.1 443.02L587.6 443.2L588.1 443.38L588.6 443.55L589.1 443.73L589.6 443.9L590.1 444.07L590.6 444.25L591.1 444.42L591.6 444.59L592.1 444.76L592.6 444.94L593.1 445.11L593.6 445.28L594.1 445.46L594.6 445.63L595.1 445.81L595.6 445.99L596.1 446.17L596.6 446.35L597.1 446.54L597.6 446.73L598.1 446.92L598.6 447.11L599.1 447.31L599.6 447.51L600.1 447.72L600.6 447.93L601.1 448.15L601.6 448.37L602.1 448.6L602.6 448.83L603.1 449.04L603.6 449.26L604.1 449.47L604.6 449.69" fill="none" stroke="#f8381c" stroke-width="2.6" stroke-linejoin="round" clip-path="url(#clipd)"/>
<path d="M417.1 285.5L417.6 288.96L418.1 292.49L418.6 295.97L419.1 299.33L419.6 302.54L420.1 305.52L420.6 308.21L421.1 310.64L421.6 312.9L422.1 315L422.6 316.98L423.1 318.85L423.6 320.64L424.1 322.35L424.6 324L425.1 325.6L425.6 327.13L426.1 328.59L426.6 329.97L427.1 331.29L427.6 332.56L428.1 333.77L428.6 334.95L429.1 336.1L429.6 337.22L430.1 338.33L430.6 339.43L431.1 340.51L431.6 341.58L432.1 342.63L432.6 343.67L433.1 344.7L433.6 345.72L434.1 346.72L434.6 347.7L435.1 348.67L435.6 349.62L436.1 350.56L436.6 351.47L437.1 352.36L437.6 353.23L438.1 354.07L438.6 354.89L439.1 355.69L439.6 356.46L440.1 357.21L440.6 357.93L441.1 358.63L441.6 359.31L442.1 359.97L442.6 360.63L443.1 361.27L443.6 361.92L444.1 362.56L444.6 363.2L445.1 363.84L445.6 364.48L446.1 365.13L446.6 365.77L447.1 366.41L447.6 367.05L448.1 367.69L448.6 368.32L449.1 368.95L449.6 369.58L450.1 370.21L450.6 370.84L451.1 371.47L451.6 372.09L452.1 372.72L452.6 373.34L453.1 373.96L453.6 374.58L454.1 375.2L454.6 375.82L455.1 376.44L455.6 377.05L456.1 377.67L456.6 378.28L457.1 378.89L457.6 379.5L458.1 380.11L458.6 380.71L459.1 381.32L459.6 381.92L460.1 382.51L460.6 383.11L461.1 383.7L461.6 384.28L462.1 384.86L462.6 385.43L463.1 385.99L463.6 386.54L464.1 387.07L464.6 387.58L465.1 388.08L465.6 388.56L466.1 389.03L466.6 389.5L467.1 389.97L467.6 390.45L468.1 390.94L468.6 391.45L469.1 391.96L469.6 392.48L470.1 393.01L470.6 393.54L471.1 394.07L471.6 394.61L472.1 395.14L472.6 395.68L473.1 396.22L473.6 396.76L474.1 397.3L474.6 397.84L475.1 398.38L475.6 398.92L476.1 399.46L476.6 400.01L477.1 400.55L477.6 401.09L478.1 401.63L478.6 402.17L479.1 402.72L479.6 403.26L480.1 403.8L480.6 404.34L481.1 404.89L481.6 405.43L482.1 405.97L482.6 406.51L483.1 407.05L483.6 407.59L484.1 408.13L484.6 408.67L485.1 409.21L485.6 409.75L486.1 410.29L486.6 410.82L487.1 411.36L487.6 411.9L488.1 412.44L488.6 412.98L489.1 413.52L489.6 414.06L490.1 414.6L490.6 415.14L491.1 415.68L491.6 416.23L492.1 416.77L492.6 417.31L493.1 417.85L493.6 418.39L494.1 418.93L494.6 419.47L495.1 420.01L495.6 420.55L496.1 421.08L496.6 421.62L497.1 422.15L497.6 422.69L498.1 423.22L498.6 423.75L499.1 424.27L499.6 424.8L500.1 425.32L500.6 425.85L501.1 426.36L501.6 426.88L502.1 427.39L502.6 427.9L503.1 428.4L503.6 428.9L504.1 429.4L504.6 429.9L505.1 430.39L505.6 430.88L506.1 431.36L506.6 431.84L507.1 432.32L507.6 432.8L508.1 433.27L508.6 433.74L509.1 434.2L509.6 434.66L510.1 435.12L510.6 435.58L511.1 436.03L511.6 436.48L512.1 436.93L512.6 437.38L513.1 437.82L513.6 438.26L514.1 438.71L514.6 439.15L515.1 439.59L515.6 440.02L516.1 440.45L516.6 440.87L517.1 441.29L517.6 441.71L518.1 442.12L518.6 442.52L519.1 442.93L519.6 443.33L520.1 443.73L520.6 444.13L521.1 444.53L521.6 444.92L522.1 445.32L522.6 445.72L523.1 446.12L523.6 446.51L524.1 446.92L524.6 447.32L525.1 447.73L525.6 448.15L526.1 448.59L526.6 449.06L527.1 449.57" fill="none" stroke="#62e41a" stroke-width="2.6" stroke-linejoin="round" clip-path="url(#clipd)"/>
<path d="M417.1 285.5L417.6 287.02L418.1 288.54L418.6 290.06L419.1 291.59L419.6 293.11L420.1 294.63L420.6 296.15L421.1 297.66L421.6 299.17L422.1 300.68L422.6 302.18L423.1 303.67L423.6 305.15L424.1 306.62L424.6 308.08L425.1 309.56L425.6 311.07L426.1 312.58L426.6 314.1L427.1 315.61L427.6 317.1L428.1 318.57L428.6 320L429.1 321.39L429.6 322.74L430.1 324.04L430.6 325.3L431.1 326.52L431.6 327.7L432.1 328.85L432.6 330L433.1 331.13L433.6 332.25L434.1 333.36L434.6 334.45L435.1 335.53L435.6 336.6L436.1 337.65L436.6 338.68L437.1 339.7L437.6 340.7L438.1 341.69L438.6 342.66L439.1 343.61L439.6 344.54L440.1 345.45L440.6 346.34L441.1 347.21L441.6 348.06L442.1 348.89L442.6 349.7L443.1 350.48L443.6 351.24L444.1 351.98L444.6 352.7L445.1 353.4L445.6 354.08L446.1 354.75L446.6 355.41L447.1 356.05L447.6 356.69L448.1 357.31L448.6 357.92L449.1 358.53L449.6 359.13L450.1 359.72L450.6 360.3L451.1 360.89L451.6 361.46L452.1 362.04L452.6 362.61L453.1 363.18L453.6 363.75L454.1 364.32L454.6 364.89L455.1 365.46L455.6 366.04L456.1 366.62L456.6 367.19L457.1 367.75L457.6 368.31L458.1 368.87L458.6 369.42L459.1 369.96L459.6 370.5L460.1 371.03L460.6 371.56L461.1 372.09L461.6 372.61L462.1 373.13L462.6 373.65L463.1 374.17L463.6 374.68L464.1 375.2L464.6 375.72L465.1 376.23L465.6 376.75L466.1 377.27L466.6 377.79L467.1 378.31L467.6 378.84L468.1 379.36L468.6 379.9L469.1 380.43L469.6 380.97L470.1 381.51L470.6 382.05L471.1 382.6L471.6 383.15L472.1 383.7L472.6 384.26L473.1 384.81L473.6 385.37L474.1 385.93L474.6 386.49L475.1 387.05L475.6 387.61L476.1 388.17L476.6 388.73L477.1 389.3L477.6 389.86L478.1 390.42L478.6 390.98L479.1 391.54L479.6 392.1L480.1 392.65L480.6 393.21L481.1 393.77L481.6 394.32L482.1 394.87L482.6 395.42L483.1 395.97L483.6 396.51L484.1 397.05L484.6 397.59L485.1 398.13L485.6 398.66L486.1 399.19L486.6 399.72L487.1 400.24L487.6 400.76L488.1 401.28L488.6 401.8L489.1 402.32L489.6 402.84L490.1 403.35L490.6 403.86L491.1 404.37L491.6 404.88L492.1 405.39L492.6 405.9L493.1 406.4L493.6 406.9L494.1 407.41L494.6 407.91L495.1 408.4L495.6 408.9L496.1 409.4L496.6 409.89L497.1 410.38L497.6 410.87L498.1 411.36L498.6 411.85L499.1 412.34L499.6 412.82L500.1 413.31L500.6 413.79L501.1 414.27L501.6 414.75L502.1 415.23L502.6 415.7L503.1 416.18L503.6 416.66L504.1 417.13L504.6 417.6L505.1 418.08L505.6 418.55L506.1 419.02L506.6 419.49L507.1 419.96L507.6 420.43L508.1 420.89L508.6 421.36L509.1 421.82L509.6 422.28L510.1 422.74L510.6 423.2L511.1 423.65L511.6 424.11L512.1 424.56L512.6 425.01L513.1 425.45L513.6 425.9L514.1 426.34L514.6 426.78L515.1 427.21L515.6 427.64L516.1 428.07L516.6 428.5L517.1 428.92L517.6 429.34L518.1 429.76L518.6 430.17L519.1 430.58L519.6 430.99L520.1 431.39L520.6 431.78L521.1 432.18L521.6 432.57L522.1 432.95L522.6 433.33L523.1 433.71L523.6 434.09L524.1 434.47L524.6 434.84L525.1 435.21L525.6 435.58L526.1 435.94L526.6 436.31L527.1 436.67L527.6 437.03L528.1 437.39L528.6 437.75L529.1 438.1L529.6 438.46L530.1 438.81L530.6 439.16L531.1 439.51L531.6 439.86L532.1 440.21L532.6 440.56L533.1 440.91L533.6 441.25L534.1 441.6L534.6 441.95L535.1 442.29L535.6 442.64L536.1 442.98L536.6 443.31L537.1 443.64L537.6 443.96L538.1 444.28L538.6 444.59L539.1 444.9L539.6 445.2L540.1 445.5L540.6 445.8L541.1 446.09L541.6 446.39L542.1 446.68L542.6 446.97L543.1 447.27L543.6 447.57L544.1 447.89L544.6 448.22L545.1 448.58L545.6 448.99L546.1 449.47L546.6 450.12" fill="none" stroke="#3088e6" stroke-width="2.6" stroke-linejoin="round" clip-path="url(#clipd)"/>
<path d="M417.1 285.5L417.6 287.25L418.1 289.04L418.6 290.82L419.1 292.56L419.6 294.25L420.1 295.89L420.6 297.45L421.1 298.93L421.6 300.33L422.1 301.7L422.6 303.03L423.1 304.33L423.6 305.61L424.1 306.87L424.6 308.11L425.1 309.32L425.6 310.52L426.1 311.7L426.6 312.86L427.1 314L427.6 315.13L428.1 316.24L428.6 317.33L429.1 318.41L429.6 319.47L430.1 320.52L430.6 321.56L431.1 322.58L431.6 323.6L432.1 324.6L432.6 325.59L433.1 326.58L433.6 327.55L434.1 328.52L434.6 329.48L435.1 330.42L435.6 331.36L436.1 332.28L436.6 333.21L437.1 334.12L437.6 335.04L438.1 335.94L438.6 336.82L439.1 337.68L439.6 338.52L440.1 339.33L440.6 340.12L441.1 340.9L441.6 341.65L442.1 342.4L442.6 343.13L443.1 343.86L443.6 344.57L444.1 345.28L444.6 345.98L445.1 346.67L445.6 347.36L446.1 348.04L446.6 348.71L447.1 349.39L447.6 350.06L448.1 350.73L448.6 351.39L449.1 352.05L449.6 352.71L450.1 353.37L450.6 354.02L451.1 354.68L451.6 355.33L452.1 355.98L452.6 356.62L453.1 357.27L453.6 357.91L454.1 358.55L454.6 359.2L455.1 359.84L455.6 360.47L456.1 361.11L456.6 361.75L457.1 362.38L457.6 363.01L458.1 363.64L458.6 364.27L459.1 364.9L459.6 365.53L460.1 366.15L460.6 366.77L461.1 367.39L461.6 368.01L462.1 368.62L462.6 369.23L463.1 369.84L463.6 370.45L464.1 371.05L464.6 371.65L465.1 372.25L465.6 372.85L466.1 373.44L466.6 374.03L467.1 374.62L467.6 375.21L468.1 375.8L468.6 376.38L469.1 376.96L469.6 377.54L470.1 378.12L470.6 378.69L471.1 379.26L471.6 379.83L472.1 380.4L472.6 380.97L473.1 381.53L473.6 382.1L474.1 382.66L474.6 383.22L475.1 383.78L475.6 384.33L476.1 384.89L476.6 385.45L477.1 386L477.6 386.55L478.1 387.1L478.6 387.65L479.1 388.2L479.6 388.75L480.1 389.3L480.6 389.84L481.1 390.39L481.6 390.93L482.1 391.47L482.6 392.02L483.1 392.56L483.6 393.1L484.1 393.64L484.6 394.18L485.1 394.71L485.6 395.25L486.1 395.79L486.6 396.32L487.1 396.85L487.6 397.39L488.1 397.92L488.6 398.45L489.1 398.98L489.6 399.51L490.1 400.03L490.6 400.56L491.1 401.08L491.6 401.61L492.1 402.13L492.6 402.65L493.1 403.17L493.6 403.69L494.1 404.21L494.6 404.73L495.1 405.25L495.6 405.76L496.1 406.28L496.6 406.79L497.1 407.3L497.6 407.82L498.1 408.33L498.6 408.84L499.1 409.35L499.6 409.86L500.1 410.37L500.6 410.87L501.1 411.38L501.6 411.89L502.1 412.39L502.6 412.9L503.1 413.4L503.6 413.91L504.1 414.41L504.6 414.91L505.1 415.42L505.6 415.92L506.1 416.42L506.6 416.92L507.1 417.42L507.6 417.92L508.1 418.42L508.6 418.92L509.1 419.42L509.6 419.92L510.1 420.41L510.6 420.91L511.1 421.4L511.6 421.89L512.1 422.39L512.6 422.88L513.1 423.37L513.6 423.85L514.1 424.34L514.6 424.82L515.1 425.31L515.6 425.79L516.1 426.27L516.6 426.75L517.1 427.22L517.6 427.69L518.1 428.16L518.6 428.63L519.1 429.09L519.6 429.55L520.1 430.01L520.6 430.46L521.1 430.9L521.6 431.35L522.1 431.79L522.6 432.22L523.1 432.65L523.6 433.07L524.1 433.49L524.6 433.91L525.1 434.32L525.6 434.73L526.1 435.14L526.6 435.54L527.1 435.94L527.6 436.34L528.1 436.74L528.6 437.14L529.1 437.54L529.6 437.94L530.1 438.34L530.6 438.74L531.1 439.14L531.6 439.53L532.1 439.93L532.6 440.32L533.1 440.7L533.6 441.09L534.1 441.48L534.6 441.86L535.1 442.24L535.6 442.62L536.1 443.01L536.6 443.39L537.1 443.76L537.6 444.14L538.1 444.52L538.6 444.9L539.1 445.28L539.6 445.66L540.1 446.04L540.6 446.42L541.1 446.8L541.6 447.19L542.1 447.58L542.6 447.97L543.1 448.37L543.6 448.78L544.1 449.2L544.6 449.64" fill="none" stroke="#5a2ae8" stroke-width="2.6" stroke-linejoin="round" clip-path="url(#clipd)"/>
<path d="M416.7 446.5L416.9 300L417.1 285.5" fill="none" stroke="#5a2ae8" stroke-width="2.6" clip-path="url(#clipd)"/>
<g fill="none" stroke="#ec4a86" stroke-width="1.15" clip-path="url(#clipd)"><rect x="525.45" y="284.35" width="6.3" height="6.3"/></g>
<text x="542.6" y="290.9" font-size="13.2" text-anchor="start" >A-EML</text>
<path d="M586.3 287.5H607.9" stroke="#f20f1e" stroke-width="2.6"/>
<text x="611.2" y="290.9" font-size="13.2" text-anchor="start" >Fit</text>
<g fill="none" stroke="#eea06c" stroke-width="1.15" clip-path="url(#clipd)"><rect x="525.45" y="300.6" width="6.3" height="6.3"/></g>
<text x="542.6" y="307.15" font-size="13.2" text-anchor="start" >B-EML</text>
<path d="M586.3 303.75H607.9" stroke="#f8381c" stroke-width="2.6"/>
<text x="611.2" y="307.15" font-size="13.2" text-anchor="start" >Fit</text>
<g fill="none" stroke="#7ee840" stroke-width="1.15" clip-path="url(#clipd)"><rect x="525.45" y="316.85" width="6.3" height="6.3"/></g>
<text x="542.6" y="323.4" font-size="13.2" text-anchor="start" >C-EML</text>
<path d="M586.3 320H607.9" stroke="#62e41a" stroke-width="2.6"/>
<text x="611.2" y="323.4" font-size="13.2" text-anchor="start" >Fit</text>
<g fill="none" stroke="#74c8f0" stroke-width="1.15" clip-path="url(#clipd)"><rect x="525.45" y="333.1" width="6.3" height="6.3"/></g>
<text x="542.6" y="339.65" font-size="13.2" text-anchor="start" >D-EML</text>
<path d="M586.3 336.25H607.9" stroke="#3088e6" stroke-width="2.6"/>
<text x="611.2" y="339.65" font-size="13.2" text-anchor="start" >Fit</text>
<g fill="none" stroke="#ac6cf0" stroke-width="1.15" clip-path="url(#clipd)"><rect x="525.45" y="349.35" width="6.3" height="6.3"/></g>
<text x="542.6" y="355.9" font-size="13.2" text-anchor="start" >E-EML</text>
<path d="M586.3 352.5H607.9" stroke="#5a2ae8" stroke-width="2.6"/>
<text x="611.2" y="355.9" font-size="13.2" text-anchor="start" >Fit</text>
</svg>
</body></html>
